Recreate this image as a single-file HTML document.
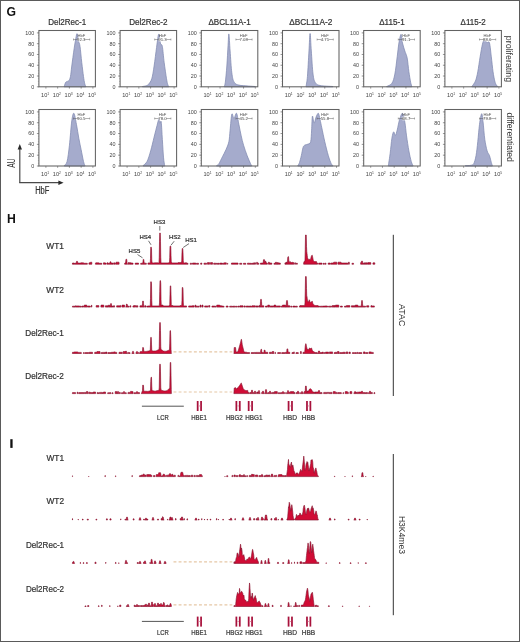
<!DOCTYPE html>
<html><head><meta charset="utf-8"><style>
html,body{margin:0;padding:0;background:#fff;width:520px;height:642px;overflow:hidden}
svg{display:block;font-family:"Liberation Sans",sans-serif;will-change:transform}
</style></head><body>
<svg width="520" height="642" viewBox="0 0 520 642" font-family='"Liberation Sans", sans-serif'><rect x="0" y="0" width="520" height="642" fill="#fff"/><text x="67.15" y="25.4" font-size="9.1" text-anchor="middle" font-weight="normal" fill="#333" textLength="38" lengthAdjust="spacingAndGlyphs" stroke="#333" stroke-width="0.22" >Del2Rec-1</text>
<path d="M64.15,86.50 C64.44,85.77 65.10,83.07 65.88,82.10 C66.66,81.13 68.07,81.63 68.83,80.70 C69.59,79.77 69.97,78.95 70.46,76.50 C70.95,74.05 71.17,70.63 71.78,66.00 C72.39,61.37 73.39,53.62 74.12,48.70 C74.85,43.78 75.67,39.00 76.16,36.50 C76.65,34.00 76.79,33.70 77.08,33.70 C77.36,33.70 77.64,35.25 77.89,36.50 C78.14,37.75 78.25,39.55 78.60,41.20 C78.96,42.85 79.50,42.85 80.03,46.40 C80.55,49.95 81.18,57.50 81.76,62.50 C82.34,67.50 83.00,72.90 83.49,76.40 C83.98,79.90 84.32,81.82 84.71,83.50 C85.10,85.18 85.64,86.00 85.83,86.50 L85.83,86.80 L64.15,86.80 Z" fill="#a5abcc" stroke="#8089b0" stroke-width="0.75"/>
<text x="34.3" y="34.8" font-size="5.4" text-anchor="end" font-weight="normal" fill="#444" >100</text>
<line x1="36.9" y1="32.90" x2="38.9" y2="32.90" stroke="#555" stroke-width="0.6"/>
<text x="34.3" y="45.57999999999999" font-size="5.4" text-anchor="end" font-weight="normal" fill="#444" >80</text>
<line x1="36.9" y1="43.68" x2="38.9" y2="43.68" stroke="#555" stroke-width="0.6"/>
<text x="34.3" y="56.36" font-size="5.4" text-anchor="end" font-weight="normal" fill="#444" >60</text>
<line x1="36.9" y1="54.46" x2="38.9" y2="54.46" stroke="#555" stroke-width="0.6"/>
<text x="34.3" y="67.14" font-size="5.4" text-anchor="end" font-weight="normal" fill="#444" >40</text>
<line x1="36.9" y1="65.24" x2="38.9" y2="65.24" stroke="#555" stroke-width="0.6"/>
<text x="34.3" y="77.92" font-size="5.4" text-anchor="end" font-weight="normal" fill="#444" >20</text>
<line x1="36.9" y1="76.02" x2="38.9" y2="76.02" stroke="#555" stroke-width="0.6"/>
<text x="34.3" y="88.7" font-size="5.4" text-anchor="end" font-weight="normal" fill="#444" >0</text>
<line x1="36.9" y1="86.80" x2="38.9" y2="86.80" stroke="#555" stroke-width="0.6"/>
<line x1="37.9" y1="86.80" x2="38.9" y2="86.80" stroke="#777" stroke-width="0.4"/>
<line x1="37.9" y1="84.10" x2="38.9" y2="84.10" stroke="#777" stroke-width="0.4"/>
<line x1="37.9" y1="81.41" x2="38.9" y2="81.41" stroke="#777" stroke-width="0.4"/>
<line x1="37.9" y1="78.72" x2="38.9" y2="78.72" stroke="#777" stroke-width="0.4"/>
<line x1="37.9" y1="76.02" x2="38.9" y2="76.02" stroke="#777" stroke-width="0.4"/>
<line x1="37.9" y1="73.33" x2="38.9" y2="73.33" stroke="#777" stroke-width="0.4"/>
<line x1="37.9" y1="70.63" x2="38.9" y2="70.63" stroke="#777" stroke-width="0.4"/>
<line x1="37.9" y1="67.94" x2="38.9" y2="67.94" stroke="#777" stroke-width="0.4"/>
<line x1="37.9" y1="65.24" x2="38.9" y2="65.24" stroke="#777" stroke-width="0.4"/>
<line x1="37.9" y1="62.55" x2="38.9" y2="62.55" stroke="#777" stroke-width="0.4"/>
<line x1="37.9" y1="59.85" x2="38.9" y2="59.85" stroke="#777" stroke-width="0.4"/>
<line x1="37.9" y1="57.15" x2="38.9" y2="57.15" stroke="#777" stroke-width="0.4"/>
<line x1="37.9" y1="54.46" x2="38.9" y2="54.46" stroke="#777" stroke-width="0.4"/>
<line x1="37.9" y1="51.76" x2="38.9" y2="51.76" stroke="#777" stroke-width="0.4"/>
<line x1="37.9" y1="49.07" x2="38.9" y2="49.07" stroke="#777" stroke-width="0.4"/>
<line x1="37.9" y1="46.38" x2="38.9" y2="46.38" stroke="#777" stroke-width="0.4"/>
<line x1="37.9" y1="43.68" x2="38.9" y2="43.68" stroke="#777" stroke-width="0.4"/>
<line x1="37.9" y1="40.98" x2="38.9" y2="40.98" stroke="#777" stroke-width="0.4"/>
<line x1="37.9" y1="38.29" x2="38.9" y2="38.29" stroke="#777" stroke-width="0.4"/>
<line x1="37.9" y1="35.59" x2="38.9" y2="35.59" stroke="#777" stroke-width="0.4"/>
<line x1="37.9" y1="32.90" x2="38.9" y2="32.90" stroke="#777" stroke-width="0.4"/>
<text x="45.10" y="96.80" font-size="5.6" text-anchor="middle" fill="#444">10<tspan font-size="3.4" dy="-2.2">1</tspan></text>
<line x1="45.90" y1="86.8" x2="45.90" y2="88.6" stroke="#555" stroke-width="0.6"/>
<text x="56.85" y="96.80" font-size="5.6" text-anchor="middle" fill="#444">10<tspan font-size="3.4" dy="-2.2">2</tspan></text>
<line x1="57.65" y1="86.8" x2="57.65" y2="88.6" stroke="#555" stroke-width="0.6"/>
<text x="68.60" y="96.80" font-size="5.6" text-anchor="middle" fill="#444">10<tspan font-size="3.4" dy="-2.2">3</tspan></text>
<line x1="69.40" y1="86.8" x2="69.40" y2="88.6" stroke="#555" stroke-width="0.6"/>
<text x="80.35" y="96.80" font-size="5.6" text-anchor="middle" fill="#444">10<tspan font-size="3.4" dy="-2.2">4</tspan></text>
<line x1="81.15" y1="86.8" x2="81.15" y2="88.6" stroke="#555" stroke-width="0.6"/>
<text x="92.10" y="96.80" font-size="5.6" text-anchor="middle" fill="#444">10<tspan font-size="3.4" dy="-2.2">5</tspan></text>
<line x1="92.90" y1="86.8" x2="92.90" y2="88.6" stroke="#555" stroke-width="0.6"/>
<rect x="38.90" y="30.50" width="56.50" height="56.30" fill="none" stroke="#626262" stroke-width="1.05"/>
<text x="81.30" y="36.80" font-size="4.1" text-anchor="middle" fill="#555">HbF</text>
<line x1="73.50" y1="39.50" x2="89.70" y2="39.50" stroke="#555" stroke-width="0.45"/>
<line x1="73.50" y1="38.50" x2="73.50" y2="40.50" stroke="#555" stroke-width="0.45"/>
<line x1="89.70" y1="38.50" x2="89.70" y2="40.50" stroke="#555" stroke-width="0.45"/>
<rect x="77.50" y="37.70" width="7.6" height="3.6" fill="#fff" opacity="0.9"/>
<text x="81.30" y="41.00" font-size="4.3" text-anchor="middle" fill="#444">92.3</text>
<text x="148.35" y="25.4" font-size="9.1" text-anchor="middle" font-weight="normal" fill="#333" textLength="38.3" lengthAdjust="spacingAndGlyphs" stroke="#333" stroke-width="0.22" >Del2Rec-2</text>
<path d="M142.39,86.50 C142.92,86.40 144.57,86.23 145.55,85.90 C146.53,85.57 147.26,85.70 148.30,84.50 C149.33,83.30 150.79,81.78 151.76,78.70 C152.73,75.62 153.30,71.20 154.10,66.00 C154.90,60.80 155.88,52.42 156.55,47.50 C157.21,42.58 157.68,38.70 158.07,36.50 C158.46,34.30 158.60,33.97 158.89,34.30 C159.17,34.63 159.51,36.87 159.80,38.50 C160.09,40.13 160.19,42.78 160.62,44.10 C161.04,45.42 161.75,43.33 162.35,46.40 C162.94,49.47 163.48,57.12 164.18,62.50 C164.88,67.88 165.93,75.03 166.52,78.70 C167.12,82.37 167.35,83.20 167.74,84.50 C168.13,85.80 168.68,86.17 168.86,86.50 L168.86,86.80 L142.39,86.80 Z" fill="#a5abcc" stroke="#8089b0" stroke-width="0.75"/>
<text x="115.5" y="34.8" font-size="5.4" text-anchor="end" font-weight="normal" fill="#444" >100</text>
<line x1="118.1" y1="32.90" x2="120.1" y2="32.90" stroke="#555" stroke-width="0.6"/>
<text x="115.5" y="45.57999999999999" font-size="5.4" text-anchor="end" font-weight="normal" fill="#444" >80</text>
<line x1="118.1" y1="43.68" x2="120.1" y2="43.68" stroke="#555" stroke-width="0.6"/>
<text x="115.5" y="56.36" font-size="5.4" text-anchor="end" font-weight="normal" fill="#444" >60</text>
<line x1="118.1" y1="54.46" x2="120.1" y2="54.46" stroke="#555" stroke-width="0.6"/>
<text x="115.5" y="67.14" font-size="5.4" text-anchor="end" font-weight="normal" fill="#444" >40</text>
<line x1="118.1" y1="65.24" x2="120.1" y2="65.24" stroke="#555" stroke-width="0.6"/>
<text x="115.5" y="77.92" font-size="5.4" text-anchor="end" font-weight="normal" fill="#444" >20</text>
<line x1="118.1" y1="76.02" x2="120.1" y2="76.02" stroke="#555" stroke-width="0.6"/>
<text x="115.5" y="88.7" font-size="5.4" text-anchor="end" font-weight="normal" fill="#444" >0</text>
<line x1="118.1" y1="86.80" x2="120.1" y2="86.80" stroke="#555" stroke-width="0.6"/>
<line x1="119.1" y1="86.80" x2="120.1" y2="86.80" stroke="#777" stroke-width="0.4"/>
<line x1="119.1" y1="84.10" x2="120.1" y2="84.10" stroke="#777" stroke-width="0.4"/>
<line x1="119.1" y1="81.41" x2="120.1" y2="81.41" stroke="#777" stroke-width="0.4"/>
<line x1="119.1" y1="78.72" x2="120.1" y2="78.72" stroke="#777" stroke-width="0.4"/>
<line x1="119.1" y1="76.02" x2="120.1" y2="76.02" stroke="#777" stroke-width="0.4"/>
<line x1="119.1" y1="73.33" x2="120.1" y2="73.33" stroke="#777" stroke-width="0.4"/>
<line x1="119.1" y1="70.63" x2="120.1" y2="70.63" stroke="#777" stroke-width="0.4"/>
<line x1="119.1" y1="67.94" x2="120.1" y2="67.94" stroke="#777" stroke-width="0.4"/>
<line x1="119.1" y1="65.24" x2="120.1" y2="65.24" stroke="#777" stroke-width="0.4"/>
<line x1="119.1" y1="62.55" x2="120.1" y2="62.55" stroke="#777" stroke-width="0.4"/>
<line x1="119.1" y1="59.85" x2="120.1" y2="59.85" stroke="#777" stroke-width="0.4"/>
<line x1="119.1" y1="57.15" x2="120.1" y2="57.15" stroke="#777" stroke-width="0.4"/>
<line x1="119.1" y1="54.46" x2="120.1" y2="54.46" stroke="#777" stroke-width="0.4"/>
<line x1="119.1" y1="51.76" x2="120.1" y2="51.76" stroke="#777" stroke-width="0.4"/>
<line x1="119.1" y1="49.07" x2="120.1" y2="49.07" stroke="#777" stroke-width="0.4"/>
<line x1="119.1" y1="46.38" x2="120.1" y2="46.38" stroke="#777" stroke-width="0.4"/>
<line x1="119.1" y1="43.68" x2="120.1" y2="43.68" stroke="#777" stroke-width="0.4"/>
<line x1="119.1" y1="40.98" x2="120.1" y2="40.98" stroke="#777" stroke-width="0.4"/>
<line x1="119.1" y1="38.29" x2="120.1" y2="38.29" stroke="#777" stroke-width="0.4"/>
<line x1="119.1" y1="35.59" x2="120.1" y2="35.59" stroke="#777" stroke-width="0.4"/>
<line x1="119.1" y1="32.90" x2="120.1" y2="32.90" stroke="#777" stroke-width="0.4"/>
<text x="126.30" y="96.80" font-size="5.6" text-anchor="middle" fill="#444">10<tspan font-size="3.4" dy="-2.2">1</tspan></text>
<line x1="127.10" y1="86.8" x2="127.10" y2="88.6" stroke="#555" stroke-width="0.6"/>
<text x="138.05" y="96.80" font-size="5.6" text-anchor="middle" fill="#444">10<tspan font-size="3.4" dy="-2.2">2</tspan></text>
<line x1="138.85" y1="86.8" x2="138.85" y2="88.6" stroke="#555" stroke-width="0.6"/>
<text x="149.80" y="96.80" font-size="5.6" text-anchor="middle" fill="#444">10<tspan font-size="3.4" dy="-2.2">3</tspan></text>
<line x1="150.60" y1="86.8" x2="150.60" y2="88.6" stroke="#555" stroke-width="0.6"/>
<text x="161.55" y="96.80" font-size="5.6" text-anchor="middle" fill="#444">10<tspan font-size="3.4" dy="-2.2">4</tspan></text>
<line x1="162.35" y1="86.8" x2="162.35" y2="88.6" stroke="#555" stroke-width="0.6"/>
<text x="173.30" y="96.80" font-size="5.6" text-anchor="middle" fill="#444">10<tspan font-size="3.4" dy="-2.2">5</tspan></text>
<line x1="174.10" y1="86.8" x2="174.10" y2="88.6" stroke="#555" stroke-width="0.6"/>
<rect x="120.10" y="30.50" width="56.50" height="56.30" fill="none" stroke="#626262" stroke-width="1.05"/>
<text x="162.50" y="36.80" font-size="4.1" text-anchor="middle" fill="#555">HbF</text>
<line x1="154.70" y1="39.50" x2="170.90" y2="39.50" stroke="#555" stroke-width="0.45"/>
<line x1="154.70" y1="38.50" x2="154.70" y2="40.50" stroke="#555" stroke-width="0.45"/>
<line x1="170.90" y1="38.50" x2="170.90" y2="40.50" stroke="#555" stroke-width="0.45"/>
<rect x="158.70" y="37.70" width="7.6" height="3.6" fill="#fff" opacity="0.9"/>
<text x="162.50" y="41.00" font-size="4.3" text-anchor="middle" fill="#444">91.3</text>
<text x="229.55" y="25.4" font-size="9.1" text-anchor="middle" font-weight="normal" fill="#333" textLength="42.2" lengthAdjust="spacingAndGlyphs" stroke="#333" stroke-width="0.22" >&#916;BCL11A-1</text>
<path d="M224.21,86.50 C224.39,85.78 224.88,85.62 225.33,82.20 C225.77,78.78 226.39,72.15 226.85,66.00 C227.31,59.85 227.73,50.63 228.07,45.30 C228.41,39.97 228.55,33.05 228.89,34.00 C229.23,34.95 229.62,44.52 230.11,51.00 C230.60,57.48 231.16,67.70 231.84,72.90 C232.52,78.10 233.01,80.17 234.18,82.20 C235.35,84.23 236.52,84.47 238.86,85.10 C241.21,85.73 245.50,85.77 248.23,86.00 C250.96,86.23 254.08,86.42 255.25,86.50 L255.25,86.80 L224.21,86.80 Z" fill="#a5abcc" stroke="#8089b0" stroke-width="0.75"/>
<text x="196.70000000000002" y="34.8" font-size="5.4" text-anchor="end" font-weight="normal" fill="#444" >100</text>
<line x1="199.3" y1="32.90" x2="201.3" y2="32.90" stroke="#555" stroke-width="0.6"/>
<text x="196.70000000000002" y="45.57999999999999" font-size="5.4" text-anchor="end" font-weight="normal" fill="#444" >80</text>
<line x1="199.3" y1="43.68" x2="201.3" y2="43.68" stroke="#555" stroke-width="0.6"/>
<text x="196.70000000000002" y="56.36" font-size="5.4" text-anchor="end" font-weight="normal" fill="#444" >60</text>
<line x1="199.3" y1="54.46" x2="201.3" y2="54.46" stroke="#555" stroke-width="0.6"/>
<text x="196.70000000000002" y="67.14" font-size="5.4" text-anchor="end" font-weight="normal" fill="#444" >40</text>
<line x1="199.3" y1="65.24" x2="201.3" y2="65.24" stroke="#555" stroke-width="0.6"/>
<text x="196.70000000000002" y="77.92" font-size="5.4" text-anchor="end" font-weight="normal" fill="#444" >20</text>
<line x1="199.3" y1="76.02" x2="201.3" y2="76.02" stroke="#555" stroke-width="0.6"/>
<text x="196.70000000000002" y="88.7" font-size="5.4" text-anchor="end" font-weight="normal" fill="#444" >0</text>
<line x1="199.3" y1="86.80" x2="201.3" y2="86.80" stroke="#555" stroke-width="0.6"/>
<line x1="200.3" y1="86.80" x2="201.3" y2="86.80" stroke="#777" stroke-width="0.4"/>
<line x1="200.3" y1="84.10" x2="201.3" y2="84.10" stroke="#777" stroke-width="0.4"/>
<line x1="200.3" y1="81.41" x2="201.3" y2="81.41" stroke="#777" stroke-width="0.4"/>
<line x1="200.3" y1="78.72" x2="201.3" y2="78.72" stroke="#777" stroke-width="0.4"/>
<line x1="200.3" y1="76.02" x2="201.3" y2="76.02" stroke="#777" stroke-width="0.4"/>
<line x1="200.3" y1="73.33" x2="201.3" y2="73.33" stroke="#777" stroke-width="0.4"/>
<line x1="200.3" y1="70.63" x2="201.3" y2="70.63" stroke="#777" stroke-width="0.4"/>
<line x1="200.3" y1="67.94" x2="201.3" y2="67.94" stroke="#777" stroke-width="0.4"/>
<line x1="200.3" y1="65.24" x2="201.3" y2="65.24" stroke="#777" stroke-width="0.4"/>
<line x1="200.3" y1="62.55" x2="201.3" y2="62.55" stroke="#777" stroke-width="0.4"/>
<line x1="200.3" y1="59.85" x2="201.3" y2="59.85" stroke="#777" stroke-width="0.4"/>
<line x1="200.3" y1="57.15" x2="201.3" y2="57.15" stroke="#777" stroke-width="0.4"/>
<line x1="200.3" y1="54.46" x2="201.3" y2="54.46" stroke="#777" stroke-width="0.4"/>
<line x1="200.3" y1="51.76" x2="201.3" y2="51.76" stroke="#777" stroke-width="0.4"/>
<line x1="200.3" y1="49.07" x2="201.3" y2="49.07" stroke="#777" stroke-width="0.4"/>
<line x1="200.3" y1="46.38" x2="201.3" y2="46.38" stroke="#777" stroke-width="0.4"/>
<line x1="200.3" y1="43.68" x2="201.3" y2="43.68" stroke="#777" stroke-width="0.4"/>
<line x1="200.3" y1="40.98" x2="201.3" y2="40.98" stroke="#777" stroke-width="0.4"/>
<line x1="200.3" y1="38.29" x2="201.3" y2="38.29" stroke="#777" stroke-width="0.4"/>
<line x1="200.3" y1="35.59" x2="201.3" y2="35.59" stroke="#777" stroke-width="0.4"/>
<line x1="200.3" y1="32.90" x2="201.3" y2="32.90" stroke="#777" stroke-width="0.4"/>
<text x="207.50" y="96.80" font-size="5.6" text-anchor="middle" fill="#444">10<tspan font-size="3.4" dy="-2.2">1</tspan></text>
<line x1="208.30" y1="86.8" x2="208.30" y2="88.6" stroke="#555" stroke-width="0.6"/>
<text x="219.25" y="96.80" font-size="5.6" text-anchor="middle" fill="#444">10<tspan font-size="3.4" dy="-2.2">2</tspan></text>
<line x1="220.05" y1="86.8" x2="220.05" y2="88.6" stroke="#555" stroke-width="0.6"/>
<text x="231.00" y="96.80" font-size="5.6" text-anchor="middle" fill="#444">10<tspan font-size="3.4" dy="-2.2">3</tspan></text>
<line x1="231.80" y1="86.8" x2="231.80" y2="88.6" stroke="#555" stroke-width="0.6"/>
<text x="242.75" y="96.80" font-size="5.6" text-anchor="middle" fill="#444">10<tspan font-size="3.4" dy="-2.2">4</tspan></text>
<line x1="243.55" y1="86.8" x2="243.55" y2="88.6" stroke="#555" stroke-width="0.6"/>
<text x="254.50" y="96.80" font-size="5.6" text-anchor="middle" fill="#444">10<tspan font-size="3.4" dy="-2.2">5</tspan></text>
<line x1="255.30" y1="86.8" x2="255.30" y2="88.6" stroke="#555" stroke-width="0.6"/>
<rect x="201.30" y="30.50" width="56.50" height="56.30" fill="none" stroke="#626262" stroke-width="1.05"/>
<text x="243.70" y="36.80" font-size="4.1" text-anchor="middle" fill="#555">HbF</text>
<line x1="235.90" y1="39.50" x2="252.10" y2="39.50" stroke="#555" stroke-width="0.45"/>
<line x1="235.90" y1="38.50" x2="235.90" y2="40.50" stroke="#555" stroke-width="0.45"/>
<line x1="252.10" y1="38.50" x2="252.10" y2="40.50" stroke="#555" stroke-width="0.45"/>
<rect x="239.90" y="37.70" width="7.6" height="3.6" fill="#fff" opacity="0.9"/>
<text x="243.70" y="41.00" font-size="4.3" text-anchor="middle" fill="#444">7.08</text>
<text x="310.75" y="25.4" font-size="9.1" text-anchor="middle" font-weight="normal" fill="#333" textLength="43" lengthAdjust="spacingAndGlyphs" stroke="#333" stroke-width="0.22" >&#916;BCL11A-2</text>
<path d="M306.02,86.50 C306.25,84.82 306.95,82.32 307.44,76.40 C307.93,70.48 308.53,58.15 308.97,51.00 C309.41,43.85 309.70,33.50 310.09,33.50 C310.48,33.50 310.82,44.23 311.31,51.00 C311.80,57.77 312.36,68.82 313.04,74.10 C313.72,79.38 314.21,80.80 315.38,82.70 C316.55,84.60 317.13,84.87 320.06,85.50 C323.00,86.13 330.84,86.33 332.99,86.50 L332.99,86.80 L306.02,86.80 Z" fill="#a5abcc" stroke="#8089b0" stroke-width="0.75"/>
<text x="277.9" y="34.8" font-size="5.4" text-anchor="end" font-weight="normal" fill="#444" >100</text>
<line x1="280.5" y1="32.90" x2="282.5" y2="32.90" stroke="#555" stroke-width="0.6"/>
<text x="277.9" y="45.57999999999999" font-size="5.4" text-anchor="end" font-weight="normal" fill="#444" >80</text>
<line x1="280.5" y1="43.68" x2="282.5" y2="43.68" stroke="#555" stroke-width="0.6"/>
<text x="277.9" y="56.36" font-size="5.4" text-anchor="end" font-weight="normal" fill="#444" >60</text>
<line x1="280.5" y1="54.46" x2="282.5" y2="54.46" stroke="#555" stroke-width="0.6"/>
<text x="277.9" y="67.14" font-size="5.4" text-anchor="end" font-weight="normal" fill="#444" >40</text>
<line x1="280.5" y1="65.24" x2="282.5" y2="65.24" stroke="#555" stroke-width="0.6"/>
<text x="277.9" y="77.92" font-size="5.4" text-anchor="end" font-weight="normal" fill="#444" >20</text>
<line x1="280.5" y1="76.02" x2="282.5" y2="76.02" stroke="#555" stroke-width="0.6"/>
<text x="277.9" y="88.7" font-size="5.4" text-anchor="end" font-weight="normal" fill="#444" >0</text>
<line x1="280.5" y1="86.80" x2="282.5" y2="86.80" stroke="#555" stroke-width="0.6"/>
<line x1="281.5" y1="86.80" x2="282.5" y2="86.80" stroke="#777" stroke-width="0.4"/>
<line x1="281.5" y1="84.10" x2="282.5" y2="84.10" stroke="#777" stroke-width="0.4"/>
<line x1="281.5" y1="81.41" x2="282.5" y2="81.41" stroke="#777" stroke-width="0.4"/>
<line x1="281.5" y1="78.72" x2="282.5" y2="78.72" stroke="#777" stroke-width="0.4"/>
<line x1="281.5" y1="76.02" x2="282.5" y2="76.02" stroke="#777" stroke-width="0.4"/>
<line x1="281.5" y1="73.33" x2="282.5" y2="73.33" stroke="#777" stroke-width="0.4"/>
<line x1="281.5" y1="70.63" x2="282.5" y2="70.63" stroke="#777" stroke-width="0.4"/>
<line x1="281.5" y1="67.94" x2="282.5" y2="67.94" stroke="#777" stroke-width="0.4"/>
<line x1="281.5" y1="65.24" x2="282.5" y2="65.24" stroke="#777" stroke-width="0.4"/>
<line x1="281.5" y1="62.55" x2="282.5" y2="62.55" stroke="#777" stroke-width="0.4"/>
<line x1="281.5" y1="59.85" x2="282.5" y2="59.85" stroke="#777" stroke-width="0.4"/>
<line x1="281.5" y1="57.15" x2="282.5" y2="57.15" stroke="#777" stroke-width="0.4"/>
<line x1="281.5" y1="54.46" x2="282.5" y2="54.46" stroke="#777" stroke-width="0.4"/>
<line x1="281.5" y1="51.76" x2="282.5" y2="51.76" stroke="#777" stroke-width="0.4"/>
<line x1="281.5" y1="49.07" x2="282.5" y2="49.07" stroke="#777" stroke-width="0.4"/>
<line x1="281.5" y1="46.38" x2="282.5" y2="46.38" stroke="#777" stroke-width="0.4"/>
<line x1="281.5" y1="43.68" x2="282.5" y2="43.68" stroke="#777" stroke-width="0.4"/>
<line x1="281.5" y1="40.98" x2="282.5" y2="40.98" stroke="#777" stroke-width="0.4"/>
<line x1="281.5" y1="38.29" x2="282.5" y2="38.29" stroke="#777" stroke-width="0.4"/>
<line x1="281.5" y1="35.59" x2="282.5" y2="35.59" stroke="#777" stroke-width="0.4"/>
<line x1="281.5" y1="32.90" x2="282.5" y2="32.90" stroke="#777" stroke-width="0.4"/>
<text x="288.70" y="96.80" font-size="5.6" text-anchor="middle" fill="#444">10<tspan font-size="3.4" dy="-2.2">1</tspan></text>
<line x1="289.50" y1="86.8" x2="289.50" y2="88.6" stroke="#555" stroke-width="0.6"/>
<text x="300.45" y="96.80" font-size="5.6" text-anchor="middle" fill="#444">10<tspan font-size="3.4" dy="-2.2">2</tspan></text>
<line x1="301.25" y1="86.8" x2="301.25" y2="88.6" stroke="#555" stroke-width="0.6"/>
<text x="312.20" y="96.80" font-size="5.6" text-anchor="middle" fill="#444">10<tspan font-size="3.4" dy="-2.2">3</tspan></text>
<line x1="313.00" y1="86.8" x2="313.00" y2="88.6" stroke="#555" stroke-width="0.6"/>
<text x="323.95" y="96.80" font-size="5.6" text-anchor="middle" fill="#444">10<tspan font-size="3.4" dy="-2.2">4</tspan></text>
<line x1="324.75" y1="86.8" x2="324.75" y2="88.6" stroke="#555" stroke-width="0.6"/>
<text x="335.70" y="96.80" font-size="5.6" text-anchor="middle" fill="#444">10<tspan font-size="3.4" dy="-2.2">5</tspan></text>
<line x1="336.50" y1="86.8" x2="336.50" y2="88.6" stroke="#555" stroke-width="0.6"/>
<rect x="282.50" y="30.50" width="56.50" height="56.30" fill="none" stroke="#626262" stroke-width="1.05"/>
<text x="324.90" y="36.80" font-size="4.1" text-anchor="middle" fill="#555">HbF</text>
<line x1="317.10" y1="39.50" x2="333.30" y2="39.50" stroke="#555" stroke-width="0.45"/>
<line x1="317.10" y1="38.50" x2="317.10" y2="40.50" stroke="#555" stroke-width="0.45"/>
<line x1="333.30" y1="38.50" x2="333.30" y2="40.50" stroke="#555" stroke-width="0.45"/>
<rect x="321.10" y="37.70" width="7.6" height="3.6" fill="#fff" opacity="0.9"/>
<text x="324.90" y="41.00" font-size="4.3" text-anchor="middle" fill="#444">4.71</text>
<text x="391.95" y="25.4" font-size="9.1" text-anchor="middle" font-weight="normal" fill="#333" textLength="25.6" lengthAdjust="spacingAndGlyphs" stroke="#333" stroke-width="0.22" >&#916;115-1</text>
<path d="M386.61,86.50 C387.49,85.97 390.52,85.37 391.90,83.30 C393.27,81.23 393.97,78.52 394.85,74.10 C395.73,69.68 396.51,61.98 397.19,56.80 C397.87,51.62 398.28,46.75 398.92,43.00 C399.57,39.25 400.47,34.30 401.06,34.30 C401.66,34.30 401.86,40.22 402.49,43.00 C403.11,45.78 404.05,48.50 404.83,51.00 C405.61,53.50 406.49,54.53 407.17,58.00 C407.85,61.47 408.32,67.77 408.90,71.80 C409.48,75.83 410.14,79.75 410.63,82.20 C411.12,84.65 411.65,85.78 411.85,86.50 L411.85,86.80 L386.61,86.80 Z" fill="#a5abcc" stroke="#8089b0" stroke-width="0.75"/>
<text x="359.09999999999997" y="34.8" font-size="5.4" text-anchor="end" font-weight="normal" fill="#444" >100</text>
<line x1="361.7" y1="32.90" x2="363.7" y2="32.90" stroke="#555" stroke-width="0.6"/>
<text x="359.09999999999997" y="45.57999999999999" font-size="5.4" text-anchor="end" font-weight="normal" fill="#444" >80</text>
<line x1="361.7" y1="43.68" x2="363.7" y2="43.68" stroke="#555" stroke-width="0.6"/>
<text x="359.09999999999997" y="56.36" font-size="5.4" text-anchor="end" font-weight="normal" fill="#444" >60</text>
<line x1="361.7" y1="54.46" x2="363.7" y2="54.46" stroke="#555" stroke-width="0.6"/>
<text x="359.09999999999997" y="67.14" font-size="5.4" text-anchor="end" font-weight="normal" fill="#444" >40</text>
<line x1="361.7" y1="65.24" x2="363.7" y2="65.24" stroke="#555" stroke-width="0.6"/>
<text x="359.09999999999997" y="77.92" font-size="5.4" text-anchor="end" font-weight="normal" fill="#444" >20</text>
<line x1="361.7" y1="76.02" x2="363.7" y2="76.02" stroke="#555" stroke-width="0.6"/>
<text x="359.09999999999997" y="88.7" font-size="5.4" text-anchor="end" font-weight="normal" fill="#444" >0</text>
<line x1="361.7" y1="86.80" x2="363.7" y2="86.80" stroke="#555" stroke-width="0.6"/>
<line x1="362.7" y1="86.80" x2="363.7" y2="86.80" stroke="#777" stroke-width="0.4"/>
<line x1="362.7" y1="84.10" x2="363.7" y2="84.10" stroke="#777" stroke-width="0.4"/>
<line x1="362.7" y1="81.41" x2="363.7" y2="81.41" stroke="#777" stroke-width="0.4"/>
<line x1="362.7" y1="78.72" x2="363.7" y2="78.72" stroke="#777" stroke-width="0.4"/>
<line x1="362.7" y1="76.02" x2="363.7" y2="76.02" stroke="#777" stroke-width="0.4"/>
<line x1="362.7" y1="73.33" x2="363.7" y2="73.33" stroke="#777" stroke-width="0.4"/>
<line x1="362.7" y1="70.63" x2="363.7" y2="70.63" stroke="#777" stroke-width="0.4"/>
<line x1="362.7" y1="67.94" x2="363.7" y2="67.94" stroke="#777" stroke-width="0.4"/>
<line x1="362.7" y1="65.24" x2="363.7" y2="65.24" stroke="#777" stroke-width="0.4"/>
<line x1="362.7" y1="62.55" x2="363.7" y2="62.55" stroke="#777" stroke-width="0.4"/>
<line x1="362.7" y1="59.85" x2="363.7" y2="59.85" stroke="#777" stroke-width="0.4"/>
<line x1="362.7" y1="57.15" x2="363.7" y2="57.15" stroke="#777" stroke-width="0.4"/>
<line x1="362.7" y1="54.46" x2="363.7" y2="54.46" stroke="#777" stroke-width="0.4"/>
<line x1="362.7" y1="51.76" x2="363.7" y2="51.76" stroke="#777" stroke-width="0.4"/>
<line x1="362.7" y1="49.07" x2="363.7" y2="49.07" stroke="#777" stroke-width="0.4"/>
<line x1="362.7" y1="46.38" x2="363.7" y2="46.38" stroke="#777" stroke-width="0.4"/>
<line x1="362.7" y1="43.68" x2="363.7" y2="43.68" stroke="#777" stroke-width="0.4"/>
<line x1="362.7" y1="40.98" x2="363.7" y2="40.98" stroke="#777" stroke-width="0.4"/>
<line x1="362.7" y1="38.29" x2="363.7" y2="38.29" stroke="#777" stroke-width="0.4"/>
<line x1="362.7" y1="35.59" x2="363.7" y2="35.59" stroke="#777" stroke-width="0.4"/>
<line x1="362.7" y1="32.90" x2="363.7" y2="32.90" stroke="#777" stroke-width="0.4"/>
<text x="369.90" y="96.80" font-size="5.6" text-anchor="middle" fill="#444">10<tspan font-size="3.4" dy="-2.2">1</tspan></text>
<line x1="370.70" y1="86.8" x2="370.70" y2="88.6" stroke="#555" stroke-width="0.6"/>
<text x="381.65" y="96.80" font-size="5.6" text-anchor="middle" fill="#444">10<tspan font-size="3.4" dy="-2.2">2</tspan></text>
<line x1="382.45" y1="86.8" x2="382.45" y2="88.6" stroke="#555" stroke-width="0.6"/>
<text x="393.40" y="96.80" font-size="5.6" text-anchor="middle" fill="#444">10<tspan font-size="3.4" dy="-2.2">3</tspan></text>
<line x1="394.20" y1="86.8" x2="394.20" y2="88.6" stroke="#555" stroke-width="0.6"/>
<text x="405.15" y="96.80" font-size="5.6" text-anchor="middle" fill="#444">10<tspan font-size="3.4" dy="-2.2">4</tspan></text>
<line x1="405.95" y1="86.8" x2="405.95" y2="88.6" stroke="#555" stroke-width="0.6"/>
<text x="416.90" y="96.80" font-size="5.6" text-anchor="middle" fill="#444">10<tspan font-size="3.4" dy="-2.2">5</tspan></text>
<line x1="417.70" y1="86.8" x2="417.70" y2="88.6" stroke="#555" stroke-width="0.6"/>
<rect x="363.70" y="30.50" width="56.50" height="56.30" fill="none" stroke="#626262" stroke-width="1.05"/>
<text x="406.10" y="36.80" font-size="4.1" text-anchor="middle" fill="#555">HbF</text>
<line x1="398.30" y1="39.50" x2="414.50" y2="39.50" stroke="#555" stroke-width="0.45"/>
<line x1="398.30" y1="38.50" x2="398.30" y2="40.50" stroke="#555" stroke-width="0.45"/>
<line x1="414.50" y1="38.50" x2="414.50" y2="40.50" stroke="#555" stroke-width="0.45"/>
<rect x="402.30" y="37.70" width="7.6" height="3.6" fill="#fff" opacity="0.9"/>
<text x="406.10" y="41.00" font-size="4.3" text-anchor="middle" fill="#444">91.1</text>
<text x="473.15" y="25.4" font-size="9.1" text-anchor="middle" font-weight="normal" fill="#333" textLength="25.2" lengthAdjust="spacingAndGlyphs" stroke="#333" stroke-width="0.22" >&#916;115-2</text>
<path d="M471.88,86.50 C472.47,85.58 474.46,83.45 475.44,81.00 C476.42,78.55 477.00,75.83 477.78,71.80 C478.56,67.77 479.34,61.42 480.12,56.80 C480.90,52.18 481.79,46.80 482.46,44.10 C483.14,41.40 483.42,40.88 484.20,40.60 C484.98,40.32 486.27,42.00 487.15,42.40 C488.03,42.80 488.79,40.60 489.49,43.00 C490.18,45.40 490.73,52.00 491.32,56.80 C491.92,61.60 492.48,67.77 493.05,71.80 C493.63,75.83 494.24,78.80 494.78,81.00 C495.33,83.20 495.82,84.08 496.31,85.00 C496.80,85.92 497.50,86.25 497.74,86.50 L497.74,86.80 L471.88,86.80 Z" fill="#a5abcc" stroke="#8089b0" stroke-width="0.75"/>
<text x="440.29999999999995" y="34.8" font-size="5.4" text-anchor="end" font-weight="normal" fill="#444" >100</text>
<line x1="442.9" y1="32.90" x2="444.9" y2="32.90" stroke="#555" stroke-width="0.6"/>
<text x="440.29999999999995" y="45.57999999999999" font-size="5.4" text-anchor="end" font-weight="normal" fill="#444" >80</text>
<line x1="442.9" y1="43.68" x2="444.9" y2="43.68" stroke="#555" stroke-width="0.6"/>
<text x="440.29999999999995" y="56.36" font-size="5.4" text-anchor="end" font-weight="normal" fill="#444" >60</text>
<line x1="442.9" y1="54.46" x2="444.9" y2="54.46" stroke="#555" stroke-width="0.6"/>
<text x="440.29999999999995" y="67.14" font-size="5.4" text-anchor="end" font-weight="normal" fill="#444" >40</text>
<line x1="442.9" y1="65.24" x2="444.9" y2="65.24" stroke="#555" stroke-width="0.6"/>
<text x="440.29999999999995" y="77.92" font-size="5.4" text-anchor="end" font-weight="normal" fill="#444" >20</text>
<line x1="442.9" y1="76.02" x2="444.9" y2="76.02" stroke="#555" stroke-width="0.6"/>
<text x="440.29999999999995" y="88.7" font-size="5.4" text-anchor="end" font-weight="normal" fill="#444" >0</text>
<line x1="442.9" y1="86.80" x2="444.9" y2="86.80" stroke="#555" stroke-width="0.6"/>
<line x1="443.9" y1="86.80" x2="444.9" y2="86.80" stroke="#777" stroke-width="0.4"/>
<line x1="443.9" y1="84.10" x2="444.9" y2="84.10" stroke="#777" stroke-width="0.4"/>
<line x1="443.9" y1="81.41" x2="444.9" y2="81.41" stroke="#777" stroke-width="0.4"/>
<line x1="443.9" y1="78.72" x2="444.9" y2="78.72" stroke="#777" stroke-width="0.4"/>
<line x1="443.9" y1="76.02" x2="444.9" y2="76.02" stroke="#777" stroke-width="0.4"/>
<line x1="443.9" y1="73.33" x2="444.9" y2="73.33" stroke="#777" stroke-width="0.4"/>
<line x1="443.9" y1="70.63" x2="444.9" y2="70.63" stroke="#777" stroke-width="0.4"/>
<line x1="443.9" y1="67.94" x2="444.9" y2="67.94" stroke="#777" stroke-width="0.4"/>
<line x1="443.9" y1="65.24" x2="444.9" y2="65.24" stroke="#777" stroke-width="0.4"/>
<line x1="443.9" y1="62.55" x2="444.9" y2="62.55" stroke="#777" stroke-width="0.4"/>
<line x1="443.9" y1="59.85" x2="444.9" y2="59.85" stroke="#777" stroke-width="0.4"/>
<line x1="443.9" y1="57.15" x2="444.9" y2="57.15" stroke="#777" stroke-width="0.4"/>
<line x1="443.9" y1="54.46" x2="444.9" y2="54.46" stroke="#777" stroke-width="0.4"/>
<line x1="443.9" y1="51.76" x2="444.9" y2="51.76" stroke="#777" stroke-width="0.4"/>
<line x1="443.9" y1="49.07" x2="444.9" y2="49.07" stroke="#777" stroke-width="0.4"/>
<line x1="443.9" y1="46.38" x2="444.9" y2="46.38" stroke="#777" stroke-width="0.4"/>
<line x1="443.9" y1="43.68" x2="444.9" y2="43.68" stroke="#777" stroke-width="0.4"/>
<line x1="443.9" y1="40.98" x2="444.9" y2="40.98" stroke="#777" stroke-width="0.4"/>
<line x1="443.9" y1="38.29" x2="444.9" y2="38.29" stroke="#777" stroke-width="0.4"/>
<line x1="443.9" y1="35.59" x2="444.9" y2="35.59" stroke="#777" stroke-width="0.4"/>
<line x1="443.9" y1="32.90" x2="444.9" y2="32.90" stroke="#777" stroke-width="0.4"/>
<text x="451.10" y="96.80" font-size="5.6" text-anchor="middle" fill="#444">10<tspan font-size="3.4" dy="-2.2">1</tspan></text>
<line x1="451.90" y1="86.8" x2="451.90" y2="88.6" stroke="#555" stroke-width="0.6"/>
<text x="462.85" y="96.80" font-size="5.6" text-anchor="middle" fill="#444">10<tspan font-size="3.4" dy="-2.2">2</tspan></text>
<line x1="463.65" y1="86.8" x2="463.65" y2="88.6" stroke="#555" stroke-width="0.6"/>
<text x="474.60" y="96.80" font-size="5.6" text-anchor="middle" fill="#444">10<tspan font-size="3.4" dy="-2.2">3</tspan></text>
<line x1="475.40" y1="86.8" x2="475.40" y2="88.6" stroke="#555" stroke-width="0.6"/>
<text x="486.35" y="96.80" font-size="5.6" text-anchor="middle" fill="#444">10<tspan font-size="3.4" dy="-2.2">4</tspan></text>
<line x1="487.15" y1="86.8" x2="487.15" y2="88.6" stroke="#555" stroke-width="0.6"/>
<text x="498.10" y="96.80" font-size="5.6" text-anchor="middle" fill="#444">10<tspan font-size="3.4" dy="-2.2">5</tspan></text>
<line x1="498.90" y1="86.8" x2="498.90" y2="88.6" stroke="#555" stroke-width="0.6"/>
<rect x="444.90" y="30.50" width="56.50" height="56.30" fill="none" stroke="#626262" stroke-width="1.05"/>
<text x="487.30" y="36.80" font-size="4.1" text-anchor="middle" fill="#555">HbF</text>
<line x1="479.50" y1="39.50" x2="495.70" y2="39.50" stroke="#555" stroke-width="0.45"/>
<line x1="479.50" y1="38.50" x2="479.50" y2="40.50" stroke="#555" stroke-width="0.45"/>
<line x1="495.70" y1="38.50" x2="495.70" y2="40.50" stroke="#555" stroke-width="0.45"/>
<rect x="483.50" y="37.70" width="7.6" height="3.6" fill="#fff" opacity="0.9"/>
<text x="487.30" y="41.00" font-size="4.3" text-anchor="middle" fill="#444">88.6</text>
<path d="M64.15,165.70 C64.64,164.98 66.22,164.81 67.10,161.38 C67.98,157.95 68.66,151.88 69.44,145.13 C70.22,138.37 71.04,126.14 71.78,120.84 C72.53,115.54 73.14,112.73 73.92,113.31 C74.70,113.90 75.65,120.20 76.46,124.35 C77.28,128.50 78.03,133.97 78.81,138.20 C79.59,142.43 80.37,145.88 81.15,149.74 C81.93,153.61 82.86,158.72 83.49,161.38 C84.12,164.04 84.68,164.98 84.91,165.70 L84.91,166.00 L64.15,166.00 Z" fill="#a5abcc" stroke="#8089b0" stroke-width="0.75"/>
<text x="34.3" y="113.80000000000001" font-size="5.4" text-anchor="end" font-weight="normal" fill="#444" >100</text>
<line x1="36.9" y1="111.90" x2="38.9" y2="111.90" stroke="#555" stroke-width="0.6"/>
<text x="34.3" y="124.62" font-size="5.4" text-anchor="end" font-weight="normal" fill="#444" >80</text>
<line x1="36.9" y1="122.72" x2="38.9" y2="122.72" stroke="#555" stroke-width="0.6"/>
<text x="34.3" y="135.44" font-size="5.4" text-anchor="end" font-weight="normal" fill="#444" >60</text>
<line x1="36.9" y1="133.54" x2="38.9" y2="133.54" stroke="#555" stroke-width="0.6"/>
<text x="34.3" y="146.26000000000002" font-size="5.4" text-anchor="end" font-weight="normal" fill="#444" >40</text>
<line x1="36.9" y1="144.36" x2="38.9" y2="144.36" stroke="#555" stroke-width="0.6"/>
<text x="34.3" y="157.08" font-size="5.4" text-anchor="end" font-weight="normal" fill="#444" >20</text>
<line x1="36.9" y1="155.18" x2="38.9" y2="155.18" stroke="#555" stroke-width="0.6"/>
<text x="34.3" y="167.9" font-size="5.4" text-anchor="end" font-weight="normal" fill="#444" >0</text>
<line x1="36.9" y1="166.00" x2="38.9" y2="166.00" stroke="#555" stroke-width="0.6"/>
<line x1="37.9" y1="166.00" x2="38.9" y2="166.00" stroke="#777" stroke-width="0.4"/>
<line x1="37.9" y1="163.29" x2="38.9" y2="163.29" stroke="#777" stroke-width="0.4"/>
<line x1="37.9" y1="160.59" x2="38.9" y2="160.59" stroke="#777" stroke-width="0.4"/>
<line x1="37.9" y1="157.88" x2="38.9" y2="157.88" stroke="#777" stroke-width="0.4"/>
<line x1="37.9" y1="155.18" x2="38.9" y2="155.18" stroke="#777" stroke-width="0.4"/>
<line x1="37.9" y1="152.47" x2="38.9" y2="152.47" stroke="#777" stroke-width="0.4"/>
<line x1="37.9" y1="149.77" x2="38.9" y2="149.77" stroke="#777" stroke-width="0.4"/>
<line x1="37.9" y1="147.06" x2="38.9" y2="147.06" stroke="#777" stroke-width="0.4"/>
<line x1="37.9" y1="144.36" x2="38.9" y2="144.36" stroke="#777" stroke-width="0.4"/>
<line x1="37.9" y1="141.66" x2="38.9" y2="141.66" stroke="#777" stroke-width="0.4"/>
<line x1="37.9" y1="138.95" x2="38.9" y2="138.95" stroke="#777" stroke-width="0.4"/>
<line x1="37.9" y1="136.25" x2="38.9" y2="136.25" stroke="#777" stroke-width="0.4"/>
<line x1="37.9" y1="133.54" x2="38.9" y2="133.54" stroke="#777" stroke-width="0.4"/>
<line x1="37.9" y1="130.84" x2="38.9" y2="130.84" stroke="#777" stroke-width="0.4"/>
<line x1="37.9" y1="128.13" x2="38.9" y2="128.13" stroke="#777" stroke-width="0.4"/>
<line x1="37.9" y1="125.42" x2="38.9" y2="125.42" stroke="#777" stroke-width="0.4"/>
<line x1="37.9" y1="122.72" x2="38.9" y2="122.72" stroke="#777" stroke-width="0.4"/>
<line x1="37.9" y1="120.02" x2="38.9" y2="120.02" stroke="#777" stroke-width="0.4"/>
<line x1="37.9" y1="117.31" x2="38.9" y2="117.31" stroke="#777" stroke-width="0.4"/>
<line x1="37.9" y1="114.61" x2="38.9" y2="114.61" stroke="#777" stroke-width="0.4"/>
<line x1="37.9" y1="111.90" x2="38.9" y2="111.90" stroke="#777" stroke-width="0.4"/>
<text x="45.10" y="176.00" font-size="5.6" text-anchor="middle" fill="#444">10<tspan font-size="3.4" dy="-2.2">1</tspan></text>
<line x1="45.90" y1="166.0" x2="45.90" y2="167.8" stroke="#555" stroke-width="0.6"/>
<text x="56.85" y="176.00" font-size="5.6" text-anchor="middle" fill="#444">10<tspan font-size="3.4" dy="-2.2">2</tspan></text>
<line x1="57.65" y1="166.0" x2="57.65" y2="167.8" stroke="#555" stroke-width="0.6"/>
<text x="68.60" y="176.00" font-size="5.6" text-anchor="middle" fill="#444">10<tspan font-size="3.4" dy="-2.2">3</tspan></text>
<line x1="69.40" y1="166.0" x2="69.40" y2="167.8" stroke="#555" stroke-width="0.6"/>
<text x="80.35" y="176.00" font-size="5.6" text-anchor="middle" fill="#444">10<tspan font-size="3.4" dy="-2.2">4</tspan></text>
<line x1="81.15" y1="166.0" x2="81.15" y2="167.8" stroke="#555" stroke-width="0.6"/>
<text x="92.10" y="176.00" font-size="5.6" text-anchor="middle" fill="#444">10<tspan font-size="3.4" dy="-2.2">5</tspan></text>
<line x1="92.90" y1="166.0" x2="92.90" y2="167.8" stroke="#555" stroke-width="0.6"/>
<rect x="38.90" y="109.50" width="56.50" height="56.50" fill="none" stroke="#626262" stroke-width="1.05"/>
<text x="81.30" y="115.80" font-size="4.1" text-anchor="middle" fill="#555">HbF</text>
<line x1="73.50" y1="118.50" x2="89.70" y2="118.50" stroke="#555" stroke-width="0.45"/>
<line x1="73.50" y1="117.50" x2="73.50" y2="119.50" stroke="#555" stroke-width="0.45"/>
<line x1="89.70" y1="117.50" x2="89.70" y2="119.50" stroke="#555" stroke-width="0.45"/>
<rect x="77.50" y="116.70" width="7.6" height="3.6" fill="#fff" opacity="0.9"/>
<text x="81.30" y="120.00" font-size="4.3" text-anchor="middle" fill="#444">90.5</text>
<path d="M143.01,165.70 C143.68,164.98 145.80,163.84 147.08,161.38 C148.35,158.92 149.47,154.99 150.64,150.95 C151.81,146.90 153.03,141.35 154.10,137.10 C155.17,132.85 156.22,128.55 157.05,125.46 C157.89,122.36 158.60,118.92 159.09,118.53 C159.58,118.15 159.65,122.56 160.01,123.15 C160.36,123.73 160.84,119.33 161.23,122.04 C161.62,124.75 161.96,133.43 162.35,139.41 C162.74,145.38 163.18,153.49 163.57,157.87 C163.96,162.25 164.50,164.39 164.69,165.70 L164.69,166.00 L143.01,166.00 Z" fill="#a5abcc" stroke="#8089b0" stroke-width="0.75"/>
<text x="115.5" y="113.80000000000001" font-size="5.4" text-anchor="end" font-weight="normal" fill="#444" >100</text>
<line x1="118.1" y1="111.90" x2="120.1" y2="111.90" stroke="#555" stroke-width="0.6"/>
<text x="115.5" y="124.62" font-size="5.4" text-anchor="end" font-weight="normal" fill="#444" >80</text>
<line x1="118.1" y1="122.72" x2="120.1" y2="122.72" stroke="#555" stroke-width="0.6"/>
<text x="115.5" y="135.44" font-size="5.4" text-anchor="end" font-weight="normal" fill="#444" >60</text>
<line x1="118.1" y1="133.54" x2="120.1" y2="133.54" stroke="#555" stroke-width="0.6"/>
<text x="115.5" y="146.26000000000002" font-size="5.4" text-anchor="end" font-weight="normal" fill="#444" >40</text>
<line x1="118.1" y1="144.36" x2="120.1" y2="144.36" stroke="#555" stroke-width="0.6"/>
<text x="115.5" y="157.08" font-size="5.4" text-anchor="end" font-weight="normal" fill="#444" >20</text>
<line x1="118.1" y1="155.18" x2="120.1" y2="155.18" stroke="#555" stroke-width="0.6"/>
<text x="115.5" y="167.9" font-size="5.4" text-anchor="end" font-weight="normal" fill="#444" >0</text>
<line x1="118.1" y1="166.00" x2="120.1" y2="166.00" stroke="#555" stroke-width="0.6"/>
<line x1="119.1" y1="166.00" x2="120.1" y2="166.00" stroke="#777" stroke-width="0.4"/>
<line x1="119.1" y1="163.29" x2="120.1" y2="163.29" stroke="#777" stroke-width="0.4"/>
<line x1="119.1" y1="160.59" x2="120.1" y2="160.59" stroke="#777" stroke-width="0.4"/>
<line x1="119.1" y1="157.88" x2="120.1" y2="157.88" stroke="#777" stroke-width="0.4"/>
<line x1="119.1" y1="155.18" x2="120.1" y2="155.18" stroke="#777" stroke-width="0.4"/>
<line x1="119.1" y1="152.47" x2="120.1" y2="152.47" stroke="#777" stroke-width="0.4"/>
<line x1="119.1" y1="149.77" x2="120.1" y2="149.77" stroke="#777" stroke-width="0.4"/>
<line x1="119.1" y1="147.06" x2="120.1" y2="147.06" stroke="#777" stroke-width="0.4"/>
<line x1="119.1" y1="144.36" x2="120.1" y2="144.36" stroke="#777" stroke-width="0.4"/>
<line x1="119.1" y1="141.66" x2="120.1" y2="141.66" stroke="#777" stroke-width="0.4"/>
<line x1="119.1" y1="138.95" x2="120.1" y2="138.95" stroke="#777" stroke-width="0.4"/>
<line x1="119.1" y1="136.25" x2="120.1" y2="136.25" stroke="#777" stroke-width="0.4"/>
<line x1="119.1" y1="133.54" x2="120.1" y2="133.54" stroke="#777" stroke-width="0.4"/>
<line x1="119.1" y1="130.84" x2="120.1" y2="130.84" stroke="#777" stroke-width="0.4"/>
<line x1="119.1" y1="128.13" x2="120.1" y2="128.13" stroke="#777" stroke-width="0.4"/>
<line x1="119.1" y1="125.42" x2="120.1" y2="125.42" stroke="#777" stroke-width="0.4"/>
<line x1="119.1" y1="122.72" x2="120.1" y2="122.72" stroke="#777" stroke-width="0.4"/>
<line x1="119.1" y1="120.02" x2="120.1" y2="120.02" stroke="#777" stroke-width="0.4"/>
<line x1="119.1" y1="117.31" x2="120.1" y2="117.31" stroke="#777" stroke-width="0.4"/>
<line x1="119.1" y1="114.61" x2="120.1" y2="114.61" stroke="#777" stroke-width="0.4"/>
<line x1="119.1" y1="111.90" x2="120.1" y2="111.90" stroke="#777" stroke-width="0.4"/>
<text x="126.30" y="176.00" font-size="5.6" text-anchor="middle" fill="#444">10<tspan font-size="3.4" dy="-2.2">1</tspan></text>
<line x1="127.10" y1="166.0" x2="127.10" y2="167.8" stroke="#555" stroke-width="0.6"/>
<text x="138.05" y="176.00" font-size="5.6" text-anchor="middle" fill="#444">10<tspan font-size="3.4" dy="-2.2">2</tspan></text>
<line x1="138.85" y1="166.0" x2="138.85" y2="167.8" stroke="#555" stroke-width="0.6"/>
<text x="149.80" y="176.00" font-size="5.6" text-anchor="middle" fill="#444">10<tspan font-size="3.4" dy="-2.2">3</tspan></text>
<line x1="150.60" y1="166.0" x2="150.60" y2="167.8" stroke="#555" stroke-width="0.6"/>
<text x="161.55" y="176.00" font-size="5.6" text-anchor="middle" fill="#444">10<tspan font-size="3.4" dy="-2.2">4</tspan></text>
<line x1="162.35" y1="166.0" x2="162.35" y2="167.8" stroke="#555" stroke-width="0.6"/>
<text x="173.30" y="176.00" font-size="5.6" text-anchor="middle" fill="#444">10<tspan font-size="3.4" dy="-2.2">5</tspan></text>
<line x1="174.10" y1="166.0" x2="174.10" y2="167.8" stroke="#555" stroke-width="0.6"/>
<rect x="120.10" y="109.50" width="56.50" height="56.50" fill="none" stroke="#626262" stroke-width="1.05"/>
<text x="162.50" y="115.80" font-size="4.1" text-anchor="middle" fill="#555">HbF</text>
<line x1="154.70" y1="118.50" x2="170.90" y2="118.50" stroke="#555" stroke-width="0.45"/>
<line x1="154.70" y1="117.50" x2="154.70" y2="119.50" stroke="#555" stroke-width="0.45"/>
<line x1="170.90" y1="117.50" x2="170.90" y2="119.50" stroke="#555" stroke-width="0.45"/>
<rect x="158.70" y="116.70" width="7.6" height="3.6" fill="#fff" opacity="0.9"/>
<text x="162.50" y="120.00" font-size="4.3" text-anchor="middle" fill="#444">78.0</text>
<path d="M216.57,165.70 C216.96,165.36 217.93,165.20 218.91,163.69 C219.90,162.19 221.30,158.99 222.47,156.67 C223.65,154.34 224.87,152.25 225.94,149.74 C227.00,147.23 228.19,144.89 228.89,141.61 C229.58,138.34 229.62,134.66 230.11,130.07 C230.60,125.49 231.20,116.04 231.84,114.12 C232.49,112.19 233.20,118.67 233.98,118.53 C234.76,118.40 235.71,112.34 236.52,113.31 C237.34,114.28 238.08,120.59 238.86,124.35 C239.65,128.12 240.43,132.43 241.21,135.89 C241.99,139.36 242.56,141.85 243.55,145.13 C244.53,148.40 245.94,152.47 247.11,155.56 C248.28,158.66 249.79,162.00 250.57,163.69 C251.35,165.38 251.59,165.36 251.79,165.70 L251.79,166.00 L216.57,166.00 Z" fill="#a5abcc" stroke="#8089b0" stroke-width="0.75"/>
<text x="196.70000000000002" y="113.80000000000001" font-size="5.4" text-anchor="end" font-weight="normal" fill="#444" >100</text>
<line x1="199.3" y1="111.90" x2="201.3" y2="111.90" stroke="#555" stroke-width="0.6"/>
<text x="196.70000000000002" y="124.62" font-size="5.4" text-anchor="end" font-weight="normal" fill="#444" >80</text>
<line x1="199.3" y1="122.72" x2="201.3" y2="122.72" stroke="#555" stroke-width="0.6"/>
<text x="196.70000000000002" y="135.44" font-size="5.4" text-anchor="end" font-weight="normal" fill="#444" >60</text>
<line x1="199.3" y1="133.54" x2="201.3" y2="133.54" stroke="#555" stroke-width="0.6"/>
<text x="196.70000000000002" y="146.26000000000002" font-size="5.4" text-anchor="end" font-weight="normal" fill="#444" >40</text>
<line x1="199.3" y1="144.36" x2="201.3" y2="144.36" stroke="#555" stroke-width="0.6"/>
<text x="196.70000000000002" y="157.08" font-size="5.4" text-anchor="end" font-weight="normal" fill="#444" >20</text>
<line x1="199.3" y1="155.18" x2="201.3" y2="155.18" stroke="#555" stroke-width="0.6"/>
<text x="196.70000000000002" y="167.9" font-size="5.4" text-anchor="end" font-weight="normal" fill="#444" >0</text>
<line x1="199.3" y1="166.00" x2="201.3" y2="166.00" stroke="#555" stroke-width="0.6"/>
<line x1="200.3" y1="166.00" x2="201.3" y2="166.00" stroke="#777" stroke-width="0.4"/>
<line x1="200.3" y1="163.29" x2="201.3" y2="163.29" stroke="#777" stroke-width="0.4"/>
<line x1="200.3" y1="160.59" x2="201.3" y2="160.59" stroke="#777" stroke-width="0.4"/>
<line x1="200.3" y1="157.88" x2="201.3" y2="157.88" stroke="#777" stroke-width="0.4"/>
<line x1="200.3" y1="155.18" x2="201.3" y2="155.18" stroke="#777" stroke-width="0.4"/>
<line x1="200.3" y1="152.47" x2="201.3" y2="152.47" stroke="#777" stroke-width="0.4"/>
<line x1="200.3" y1="149.77" x2="201.3" y2="149.77" stroke="#777" stroke-width="0.4"/>
<line x1="200.3" y1="147.06" x2="201.3" y2="147.06" stroke="#777" stroke-width="0.4"/>
<line x1="200.3" y1="144.36" x2="201.3" y2="144.36" stroke="#777" stroke-width="0.4"/>
<line x1="200.3" y1="141.66" x2="201.3" y2="141.66" stroke="#777" stroke-width="0.4"/>
<line x1="200.3" y1="138.95" x2="201.3" y2="138.95" stroke="#777" stroke-width="0.4"/>
<line x1="200.3" y1="136.25" x2="201.3" y2="136.25" stroke="#777" stroke-width="0.4"/>
<line x1="200.3" y1="133.54" x2="201.3" y2="133.54" stroke="#777" stroke-width="0.4"/>
<line x1="200.3" y1="130.84" x2="201.3" y2="130.84" stroke="#777" stroke-width="0.4"/>
<line x1="200.3" y1="128.13" x2="201.3" y2="128.13" stroke="#777" stroke-width="0.4"/>
<line x1="200.3" y1="125.42" x2="201.3" y2="125.42" stroke="#777" stroke-width="0.4"/>
<line x1="200.3" y1="122.72" x2="201.3" y2="122.72" stroke="#777" stroke-width="0.4"/>
<line x1="200.3" y1="120.02" x2="201.3" y2="120.02" stroke="#777" stroke-width="0.4"/>
<line x1="200.3" y1="117.31" x2="201.3" y2="117.31" stroke="#777" stroke-width="0.4"/>
<line x1="200.3" y1="114.61" x2="201.3" y2="114.61" stroke="#777" stroke-width="0.4"/>
<line x1="200.3" y1="111.90" x2="201.3" y2="111.90" stroke="#777" stroke-width="0.4"/>
<text x="207.50" y="176.00" font-size="5.6" text-anchor="middle" fill="#444">10<tspan font-size="3.4" dy="-2.2">1</tspan></text>
<line x1="208.30" y1="166.0" x2="208.30" y2="167.8" stroke="#555" stroke-width="0.6"/>
<text x="219.25" y="176.00" font-size="5.6" text-anchor="middle" fill="#444">10<tspan font-size="3.4" dy="-2.2">2</tspan></text>
<line x1="220.05" y1="166.0" x2="220.05" y2="167.8" stroke="#555" stroke-width="0.6"/>
<text x="231.00" y="176.00" font-size="5.6" text-anchor="middle" fill="#444">10<tspan font-size="3.4" dy="-2.2">3</tspan></text>
<line x1="231.80" y1="166.0" x2="231.80" y2="167.8" stroke="#555" stroke-width="0.6"/>
<text x="242.75" y="176.00" font-size="5.6" text-anchor="middle" fill="#444">10<tspan font-size="3.4" dy="-2.2">4</tspan></text>
<line x1="243.55" y1="166.0" x2="243.55" y2="167.8" stroke="#555" stroke-width="0.6"/>
<text x="254.50" y="176.00" font-size="5.6" text-anchor="middle" fill="#444">10<tspan font-size="3.4" dy="-2.2">5</tspan></text>
<line x1="255.30" y1="166.0" x2="255.30" y2="167.8" stroke="#555" stroke-width="0.6"/>
<rect x="201.30" y="109.50" width="56.50" height="56.50" fill="none" stroke="#626262" stroke-width="1.05"/>
<text x="243.70" y="115.80" font-size="4.1" text-anchor="middle" fill="#555">HbF</text>
<line x1="235.90" y1="118.50" x2="252.10" y2="118.50" stroke="#555" stroke-width="0.45"/>
<line x1="235.90" y1="117.50" x2="235.90" y2="119.50" stroke="#555" stroke-width="0.45"/>
<line x1="252.10" y1="117.50" x2="252.10" y2="119.50" stroke="#555" stroke-width="0.45"/>
<rect x="239.90" y="116.70" width="7.6" height="3.6" fill="#fff" opacity="0.9"/>
<text x="243.70" y="120.00" font-size="4.3" text-anchor="middle" fill="#444">45.2</text>
<path d="M297.77,165.70 C298.06,165.16 298.91,164.18 299.50,162.49 C300.09,160.80 300.74,158.07 301.33,155.56 C301.93,153.05 302.49,149.17 303.06,147.43 C303.64,145.69 303.91,145.69 304.79,145.13 C305.68,144.56 307.37,144.61 308.36,144.02 C309.34,143.44 310.16,143.94 310.70,141.61 C311.24,139.29 311.33,134.30 311.62,130.07 C311.90,125.84 312.01,117.38 312.43,116.22 C312.85,115.07 313.57,122.96 314.16,123.15 C314.75,123.33 315.30,118.97 315.99,117.33 C316.69,115.69 317.66,112.93 318.33,113.31 C319.01,113.70 319.49,117.23 320.06,119.64 C320.64,122.04 321.02,124.10 321.80,127.76 C322.58,131.43 323.66,136.98 324.75,141.61 C325.83,146.25 327.22,151.88 328.31,155.56 C329.40,159.24 330.48,162.00 331.26,163.69 C332.04,165.38 332.71,165.36 332.99,165.70 L332.99,166.00 L297.77,166.00 Z" fill="#a5abcc" stroke="#8089b0" stroke-width="0.75"/>
<text x="277.9" y="113.80000000000001" font-size="5.4" text-anchor="end" font-weight="normal" fill="#444" >100</text>
<line x1="280.5" y1="111.90" x2="282.5" y2="111.90" stroke="#555" stroke-width="0.6"/>
<text x="277.9" y="124.62" font-size="5.4" text-anchor="end" font-weight="normal" fill="#444" >80</text>
<line x1="280.5" y1="122.72" x2="282.5" y2="122.72" stroke="#555" stroke-width="0.6"/>
<text x="277.9" y="135.44" font-size="5.4" text-anchor="end" font-weight="normal" fill="#444" >60</text>
<line x1="280.5" y1="133.54" x2="282.5" y2="133.54" stroke="#555" stroke-width="0.6"/>
<text x="277.9" y="146.26000000000002" font-size="5.4" text-anchor="end" font-weight="normal" fill="#444" >40</text>
<line x1="280.5" y1="144.36" x2="282.5" y2="144.36" stroke="#555" stroke-width="0.6"/>
<text x="277.9" y="157.08" font-size="5.4" text-anchor="end" font-weight="normal" fill="#444" >20</text>
<line x1="280.5" y1="155.18" x2="282.5" y2="155.18" stroke="#555" stroke-width="0.6"/>
<text x="277.9" y="167.9" font-size="5.4" text-anchor="end" font-weight="normal" fill="#444" >0</text>
<line x1="280.5" y1="166.00" x2="282.5" y2="166.00" stroke="#555" stroke-width="0.6"/>
<line x1="281.5" y1="166.00" x2="282.5" y2="166.00" stroke="#777" stroke-width="0.4"/>
<line x1="281.5" y1="163.29" x2="282.5" y2="163.29" stroke="#777" stroke-width="0.4"/>
<line x1="281.5" y1="160.59" x2="282.5" y2="160.59" stroke="#777" stroke-width="0.4"/>
<line x1="281.5" y1="157.88" x2="282.5" y2="157.88" stroke="#777" stroke-width="0.4"/>
<line x1="281.5" y1="155.18" x2="282.5" y2="155.18" stroke="#777" stroke-width="0.4"/>
<line x1="281.5" y1="152.47" x2="282.5" y2="152.47" stroke="#777" stroke-width="0.4"/>
<line x1="281.5" y1="149.77" x2="282.5" y2="149.77" stroke="#777" stroke-width="0.4"/>
<line x1="281.5" y1="147.06" x2="282.5" y2="147.06" stroke="#777" stroke-width="0.4"/>
<line x1="281.5" y1="144.36" x2="282.5" y2="144.36" stroke="#777" stroke-width="0.4"/>
<line x1="281.5" y1="141.66" x2="282.5" y2="141.66" stroke="#777" stroke-width="0.4"/>
<line x1="281.5" y1="138.95" x2="282.5" y2="138.95" stroke="#777" stroke-width="0.4"/>
<line x1="281.5" y1="136.25" x2="282.5" y2="136.25" stroke="#777" stroke-width="0.4"/>
<line x1="281.5" y1="133.54" x2="282.5" y2="133.54" stroke="#777" stroke-width="0.4"/>
<line x1="281.5" y1="130.84" x2="282.5" y2="130.84" stroke="#777" stroke-width="0.4"/>
<line x1="281.5" y1="128.13" x2="282.5" y2="128.13" stroke="#777" stroke-width="0.4"/>
<line x1="281.5" y1="125.42" x2="282.5" y2="125.42" stroke="#777" stroke-width="0.4"/>
<line x1="281.5" y1="122.72" x2="282.5" y2="122.72" stroke="#777" stroke-width="0.4"/>
<line x1="281.5" y1="120.02" x2="282.5" y2="120.02" stroke="#777" stroke-width="0.4"/>
<line x1="281.5" y1="117.31" x2="282.5" y2="117.31" stroke="#777" stroke-width="0.4"/>
<line x1="281.5" y1="114.61" x2="282.5" y2="114.61" stroke="#777" stroke-width="0.4"/>
<line x1="281.5" y1="111.90" x2="282.5" y2="111.90" stroke="#777" stroke-width="0.4"/>
<text x="288.70" y="176.00" font-size="5.6" text-anchor="middle" fill="#444">10<tspan font-size="3.4" dy="-2.2">1</tspan></text>
<line x1="289.50" y1="166.0" x2="289.50" y2="167.8" stroke="#555" stroke-width="0.6"/>
<text x="300.45" y="176.00" font-size="5.6" text-anchor="middle" fill="#444">10<tspan font-size="3.4" dy="-2.2">2</tspan></text>
<line x1="301.25" y1="166.0" x2="301.25" y2="167.8" stroke="#555" stroke-width="0.6"/>
<text x="312.20" y="176.00" font-size="5.6" text-anchor="middle" fill="#444">10<tspan font-size="3.4" dy="-2.2">3</tspan></text>
<line x1="313.00" y1="166.0" x2="313.00" y2="167.8" stroke="#555" stroke-width="0.6"/>
<text x="323.95" y="176.00" font-size="5.6" text-anchor="middle" fill="#444">10<tspan font-size="3.4" dy="-2.2">4</tspan></text>
<line x1="324.75" y1="166.0" x2="324.75" y2="167.8" stroke="#555" stroke-width="0.6"/>
<text x="335.70" y="176.00" font-size="5.6" text-anchor="middle" fill="#444">10<tspan font-size="3.4" dy="-2.2">5</tspan></text>
<line x1="336.50" y1="166.0" x2="336.50" y2="167.8" stroke="#555" stroke-width="0.6"/>
<rect x="282.50" y="109.50" width="56.50" height="56.50" fill="none" stroke="#626262" stroke-width="1.05"/>
<text x="324.90" y="115.80" font-size="4.1" text-anchor="middle" fill="#555">HbF</text>
<line x1="317.10" y1="118.50" x2="333.30" y2="118.50" stroke="#555" stroke-width="0.45"/>
<line x1="317.10" y1="117.50" x2="317.10" y2="119.50" stroke="#555" stroke-width="0.45"/>
<line x1="333.30" y1="117.50" x2="333.30" y2="119.50" stroke="#555" stroke-width="0.45"/>
<rect x="321.10" y="116.70" width="7.6" height="3.6" fill="#fff" opacity="0.9"/>
<text x="324.90" y="120.00" font-size="4.3" text-anchor="middle" fill="#444">55.8</text>
<path d="M388.34,165.70 C388.64,163.62 389.57,157.84 390.17,153.25 C390.76,148.67 391.32,141.76 391.90,138.20 C392.48,134.64 393.05,132.36 393.63,131.88 C394.21,131.39 394.77,135.59 395.36,135.29 C395.95,134.99 396.50,132.68 397.19,130.07 C397.89,127.46 398.65,122.43 399.53,119.64 C400.42,116.84 401.60,112.91 402.49,113.31 C403.37,113.71 404.15,118.28 404.83,122.04 C405.51,125.81 405.88,131.08 406.56,135.89 C407.24,140.71 408.12,146.70 408.90,150.95 C409.68,155.20 410.56,158.92 411.24,161.38 C411.92,163.84 412.68,164.98 412.97,165.70 L412.97,166.00 L388.34,166.00 Z" fill="#a5abcc" stroke="#8089b0" stroke-width="0.75"/>
<text x="359.09999999999997" y="113.80000000000001" font-size="5.4" text-anchor="end" font-weight="normal" fill="#444" >100</text>
<line x1="361.7" y1="111.90" x2="363.7" y2="111.90" stroke="#555" stroke-width="0.6"/>
<text x="359.09999999999997" y="124.62" font-size="5.4" text-anchor="end" font-weight="normal" fill="#444" >80</text>
<line x1="361.7" y1="122.72" x2="363.7" y2="122.72" stroke="#555" stroke-width="0.6"/>
<text x="359.09999999999997" y="135.44" font-size="5.4" text-anchor="end" font-weight="normal" fill="#444" >60</text>
<line x1="361.7" y1="133.54" x2="363.7" y2="133.54" stroke="#555" stroke-width="0.6"/>
<text x="359.09999999999997" y="146.26000000000002" font-size="5.4" text-anchor="end" font-weight="normal" fill="#444" >40</text>
<line x1="361.7" y1="144.36" x2="363.7" y2="144.36" stroke="#555" stroke-width="0.6"/>
<text x="359.09999999999997" y="157.08" font-size="5.4" text-anchor="end" font-weight="normal" fill="#444" >20</text>
<line x1="361.7" y1="155.18" x2="363.7" y2="155.18" stroke="#555" stroke-width="0.6"/>
<text x="359.09999999999997" y="167.9" font-size="5.4" text-anchor="end" font-weight="normal" fill="#444" >0</text>
<line x1="361.7" y1="166.00" x2="363.7" y2="166.00" stroke="#555" stroke-width="0.6"/>
<line x1="362.7" y1="166.00" x2="363.7" y2="166.00" stroke="#777" stroke-width="0.4"/>
<line x1="362.7" y1="163.29" x2="363.7" y2="163.29" stroke="#777" stroke-width="0.4"/>
<line x1="362.7" y1="160.59" x2="363.7" y2="160.59" stroke="#777" stroke-width="0.4"/>
<line x1="362.7" y1="157.88" x2="363.7" y2="157.88" stroke="#777" stroke-width="0.4"/>
<line x1="362.7" y1="155.18" x2="363.7" y2="155.18" stroke="#777" stroke-width="0.4"/>
<line x1="362.7" y1="152.47" x2="363.7" y2="152.47" stroke="#777" stroke-width="0.4"/>
<line x1="362.7" y1="149.77" x2="363.7" y2="149.77" stroke="#777" stroke-width="0.4"/>
<line x1="362.7" y1="147.06" x2="363.7" y2="147.06" stroke="#777" stroke-width="0.4"/>
<line x1="362.7" y1="144.36" x2="363.7" y2="144.36" stroke="#777" stroke-width="0.4"/>
<line x1="362.7" y1="141.66" x2="363.7" y2="141.66" stroke="#777" stroke-width="0.4"/>
<line x1="362.7" y1="138.95" x2="363.7" y2="138.95" stroke="#777" stroke-width="0.4"/>
<line x1="362.7" y1="136.25" x2="363.7" y2="136.25" stroke="#777" stroke-width="0.4"/>
<line x1="362.7" y1="133.54" x2="363.7" y2="133.54" stroke="#777" stroke-width="0.4"/>
<line x1="362.7" y1="130.84" x2="363.7" y2="130.84" stroke="#777" stroke-width="0.4"/>
<line x1="362.7" y1="128.13" x2="363.7" y2="128.13" stroke="#777" stroke-width="0.4"/>
<line x1="362.7" y1="125.42" x2="363.7" y2="125.42" stroke="#777" stroke-width="0.4"/>
<line x1="362.7" y1="122.72" x2="363.7" y2="122.72" stroke="#777" stroke-width="0.4"/>
<line x1="362.7" y1="120.02" x2="363.7" y2="120.02" stroke="#777" stroke-width="0.4"/>
<line x1="362.7" y1="117.31" x2="363.7" y2="117.31" stroke="#777" stroke-width="0.4"/>
<line x1="362.7" y1="114.61" x2="363.7" y2="114.61" stroke="#777" stroke-width="0.4"/>
<line x1="362.7" y1="111.90" x2="363.7" y2="111.90" stroke="#777" stroke-width="0.4"/>
<text x="369.90" y="176.00" font-size="5.6" text-anchor="middle" fill="#444">10<tspan font-size="3.4" dy="-2.2">1</tspan></text>
<line x1="370.70" y1="166.0" x2="370.70" y2="167.8" stroke="#555" stroke-width="0.6"/>
<text x="381.65" y="176.00" font-size="5.6" text-anchor="middle" fill="#444">10<tspan font-size="3.4" dy="-2.2">2</tspan></text>
<line x1="382.45" y1="166.0" x2="382.45" y2="167.8" stroke="#555" stroke-width="0.6"/>
<text x="393.40" y="176.00" font-size="5.6" text-anchor="middle" fill="#444">10<tspan font-size="3.4" dy="-2.2">3</tspan></text>
<line x1="394.20" y1="166.0" x2="394.20" y2="167.8" stroke="#555" stroke-width="0.6"/>
<text x="405.15" y="176.00" font-size="5.6" text-anchor="middle" fill="#444">10<tspan font-size="3.4" dy="-2.2">4</tspan></text>
<line x1="405.95" y1="166.0" x2="405.95" y2="167.8" stroke="#555" stroke-width="0.6"/>
<text x="416.90" y="176.00" font-size="5.6" text-anchor="middle" fill="#444">10<tspan font-size="3.4" dy="-2.2">5</tspan></text>
<line x1="417.70" y1="166.0" x2="417.70" y2="167.8" stroke="#555" stroke-width="0.6"/>
<rect x="363.70" y="109.50" width="56.50" height="56.50" fill="none" stroke="#626262" stroke-width="1.05"/>
<text x="406.10" y="115.80" font-size="4.1" text-anchor="middle" fill="#555">HbF</text>
<line x1="398.30" y1="118.50" x2="414.50" y2="118.50" stroke="#555" stroke-width="0.45"/>
<line x1="398.30" y1="117.50" x2="398.30" y2="119.50" stroke="#555" stroke-width="0.45"/>
<line x1="414.50" y1="117.50" x2="414.50" y2="119.50" stroke="#555" stroke-width="0.45"/>
<rect x="402.30" y="116.70" width="7.6" height="3.6" fill="#fff" opacity="0.9"/>
<text x="406.10" y="120.00" font-size="4.3" text-anchor="middle" fill="#444">68.7</text>
<path d="M465.26,165.70 C466.18,165.63 469.35,165.63 470.76,165.30 C472.17,164.96 472.83,165.31 473.71,163.69 C474.59,162.07 475.37,159.24 476.05,155.56 C476.73,151.88 477.21,146.82 477.78,141.61 C478.36,136.41 478.87,129.00 479.51,124.35 C480.16,119.70 481.06,114.10 481.65,113.71 C482.24,113.33 482.55,117.76 483.08,122.04 C483.60,126.33 484.13,134.59 484.81,139.41 C485.48,144.22 486.37,148.25 487.15,150.95 C487.93,153.64 488.79,153.64 489.49,155.56 C490.18,157.49 490.83,160.80 491.32,162.49 C491.81,164.18 492.25,165.16 492.44,165.70 L492.44,166.00 L465.26,166.00 Z" fill="#a5abcc" stroke="#8089b0" stroke-width="0.75"/>
<text x="440.29999999999995" y="113.80000000000001" font-size="5.4" text-anchor="end" font-weight="normal" fill="#444" >100</text>
<line x1="442.9" y1="111.90" x2="444.9" y2="111.90" stroke="#555" stroke-width="0.6"/>
<text x="440.29999999999995" y="124.62" font-size="5.4" text-anchor="end" font-weight="normal" fill="#444" >80</text>
<line x1="442.9" y1="122.72" x2="444.9" y2="122.72" stroke="#555" stroke-width="0.6"/>
<text x="440.29999999999995" y="135.44" font-size="5.4" text-anchor="end" font-weight="normal" fill="#444" >60</text>
<line x1="442.9" y1="133.54" x2="444.9" y2="133.54" stroke="#555" stroke-width="0.6"/>
<text x="440.29999999999995" y="146.26000000000002" font-size="5.4" text-anchor="end" font-weight="normal" fill="#444" >40</text>
<line x1="442.9" y1="144.36" x2="444.9" y2="144.36" stroke="#555" stroke-width="0.6"/>
<text x="440.29999999999995" y="157.08" font-size="5.4" text-anchor="end" font-weight="normal" fill="#444" >20</text>
<line x1="442.9" y1="155.18" x2="444.9" y2="155.18" stroke="#555" stroke-width="0.6"/>
<text x="440.29999999999995" y="167.9" font-size="5.4" text-anchor="end" font-weight="normal" fill="#444" >0</text>
<line x1="442.9" y1="166.00" x2="444.9" y2="166.00" stroke="#555" stroke-width="0.6"/>
<line x1="443.9" y1="166.00" x2="444.9" y2="166.00" stroke="#777" stroke-width="0.4"/>
<line x1="443.9" y1="163.29" x2="444.9" y2="163.29" stroke="#777" stroke-width="0.4"/>
<line x1="443.9" y1="160.59" x2="444.9" y2="160.59" stroke="#777" stroke-width="0.4"/>
<line x1="443.9" y1="157.88" x2="444.9" y2="157.88" stroke="#777" stroke-width="0.4"/>
<line x1="443.9" y1="155.18" x2="444.9" y2="155.18" stroke="#777" stroke-width="0.4"/>
<line x1="443.9" y1="152.47" x2="444.9" y2="152.47" stroke="#777" stroke-width="0.4"/>
<line x1="443.9" y1="149.77" x2="444.9" y2="149.77" stroke="#777" stroke-width="0.4"/>
<line x1="443.9" y1="147.06" x2="444.9" y2="147.06" stroke="#777" stroke-width="0.4"/>
<line x1="443.9" y1="144.36" x2="444.9" y2="144.36" stroke="#777" stroke-width="0.4"/>
<line x1="443.9" y1="141.66" x2="444.9" y2="141.66" stroke="#777" stroke-width="0.4"/>
<line x1="443.9" y1="138.95" x2="444.9" y2="138.95" stroke="#777" stroke-width="0.4"/>
<line x1="443.9" y1="136.25" x2="444.9" y2="136.25" stroke="#777" stroke-width="0.4"/>
<line x1="443.9" y1="133.54" x2="444.9" y2="133.54" stroke="#777" stroke-width="0.4"/>
<line x1="443.9" y1="130.84" x2="444.9" y2="130.84" stroke="#777" stroke-width="0.4"/>
<line x1="443.9" y1="128.13" x2="444.9" y2="128.13" stroke="#777" stroke-width="0.4"/>
<line x1="443.9" y1="125.42" x2="444.9" y2="125.42" stroke="#777" stroke-width="0.4"/>
<line x1="443.9" y1="122.72" x2="444.9" y2="122.72" stroke="#777" stroke-width="0.4"/>
<line x1="443.9" y1="120.02" x2="444.9" y2="120.02" stroke="#777" stroke-width="0.4"/>
<line x1="443.9" y1="117.31" x2="444.9" y2="117.31" stroke="#777" stroke-width="0.4"/>
<line x1="443.9" y1="114.61" x2="444.9" y2="114.61" stroke="#777" stroke-width="0.4"/>
<line x1="443.9" y1="111.90" x2="444.9" y2="111.90" stroke="#777" stroke-width="0.4"/>
<text x="451.10" y="176.00" font-size="5.6" text-anchor="middle" fill="#444">10<tspan font-size="3.4" dy="-2.2">1</tspan></text>
<line x1="451.90" y1="166.0" x2="451.90" y2="167.8" stroke="#555" stroke-width="0.6"/>
<text x="462.85" y="176.00" font-size="5.6" text-anchor="middle" fill="#444">10<tspan font-size="3.4" dy="-2.2">2</tspan></text>
<line x1="463.65" y1="166.0" x2="463.65" y2="167.8" stroke="#555" stroke-width="0.6"/>
<text x="474.60" y="176.00" font-size="5.6" text-anchor="middle" fill="#444">10<tspan font-size="3.4" dy="-2.2">3</tspan></text>
<line x1="475.40" y1="166.0" x2="475.40" y2="167.8" stroke="#555" stroke-width="0.6"/>
<text x="486.35" y="176.00" font-size="5.6" text-anchor="middle" fill="#444">10<tspan font-size="3.4" dy="-2.2">4</tspan></text>
<line x1="487.15" y1="166.0" x2="487.15" y2="167.8" stroke="#555" stroke-width="0.6"/>
<text x="498.10" y="176.00" font-size="5.6" text-anchor="middle" fill="#444">10<tspan font-size="3.4" dy="-2.2">5</tspan></text>
<line x1="498.90" y1="166.0" x2="498.90" y2="167.8" stroke="#555" stroke-width="0.6"/>
<rect x="444.90" y="109.50" width="56.50" height="56.50" fill="none" stroke="#626262" stroke-width="1.05"/>
<text x="487.30" y="115.80" font-size="4.1" text-anchor="middle" fill="#555">HbF</text>
<line x1="479.50" y1="118.50" x2="495.70" y2="118.50" stroke="#555" stroke-width="0.45"/>
<line x1="479.50" y1="117.50" x2="479.50" y2="119.50" stroke="#555" stroke-width="0.45"/>
<line x1="495.70" y1="117.50" x2="495.70" y2="119.50" stroke="#555" stroke-width="0.45"/>
<rect x="483.50" y="116.70" width="7.6" height="3.6" fill="#fff" opacity="0.9"/>
<text x="487.30" y="120.00" font-size="4.3" text-anchor="middle" fill="#444">79.8</text>
<text transform="translate(506.4,59) rotate(90)" font-size="8.8" text-anchor="middle" fill="#333" textLength="46.3" lengthAdjust="spacingAndGlyphs">proliferating</text>
<text transform="translate(506.7,137.2) rotate(90)" font-size="8.8" text-anchor="middle" fill="#333" textLength="49.3" lengthAdjust="spacingAndGlyphs">differentiated</text>
<line x1="19.8" y1="148" x2="19.8" y2="182.7" stroke="#4a4a4a" stroke-width="1.2"/>
<line x1="19.2" y1="182.7" x2="60" y2="182.7" stroke="#4a4a4a" stroke-width="1.2"/>
<path d="M19.8,144 L17.6,149.4 L22,149.4 Z" fill="#2a2a2a"/>
<path d="M63.6,182.7 L58.4,180.5 L58.4,184.9 Z" fill="#2a2a2a"/>
<text transform="translate(15.4,163.1) rotate(-90)" font-size="10" text-anchor="middle" fill="#333" textLength="9.4" lengthAdjust="spacingAndGlyphs">AU</text>
<text x="35.2" y="193.6" font-size="10" text-anchor="start" font-weight="normal" fill="#333" textLength="14.2" lengthAdjust="spacingAndGlyphs" stroke="#333" stroke-width="0.22" >HbF</text>
<text x="6.6" y="16.3" font-size="12.2" text-anchor="start" font-weight="bold" fill="#111" >G</text>
<text x="6.9" y="222.9" font-size="12.2" text-anchor="start" font-weight="bold" fill="#111" >H</text>
<rect x="10.3" y="439.2" width="2.3" height="8.7" fill="#111"/>
<text x="63.9" y="249.0" font-size="8.6" text-anchor="end" font-weight="normal" fill="#333" textLength="17.6" lengthAdjust="spacingAndGlyphs" stroke="#333" stroke-width="0.22" >WT1</text>
<text x="63.9" y="293.0" font-size="8.6" text-anchor="end" font-weight="normal" fill="#333" textLength="17.6" lengthAdjust="spacingAndGlyphs" stroke="#333" stroke-width="0.22" >WT2</text>
<text x="63.9" y="335.6" font-size="8.6" text-anchor="end" font-weight="normal" fill="#333" textLength="38.6" lengthAdjust="spacingAndGlyphs" stroke="#333" stroke-width="0.22" >Del2Rec-1</text>
<text x="63.9" y="379.4" font-size="8.6" text-anchor="end" font-weight="normal" fill="#333" textLength="38.6" lengthAdjust="spacingAndGlyphs" stroke="#333" stroke-width="0.22" >Del2Rec-2</text>
<path d="M72.38,264.20 L72.50,263.00 L72.75,263.00 L73.00,263.00 L73.25,263.00 L73.50,263.00 L73.75,263.00 L74.00,263.00 L74.25,263.00 L74.38,264.20 Z M74.62,264.20 L74.75,263.30 L75.00,263.30 L75.25,263.30 L75.50,263.30 L75.75,263.30 L76.00,263.30 L76.25,263.00 L76.50,261.40 L76.75,261.40 L77.00,261.40 L77.25,261.40 L77.50,261.40 L77.75,263.00 L78.00,263.10 L78.25,263.10 L78.50,263.10 L78.75,263.10 L79.00,263.10 L79.25,263.10 L79.50,263.10 L79.75,263.10 L80.00,263.10 L80.25,263.10 L80.50,263.10 L80.75,262.80 L81.00,262.80 L81.25,262.80 L81.50,262.80 L81.75,262.80 L82.00,262.80 L82.25,262.80 L82.50,262.80 L82.75,262.80 L83.00,262.80 L83.25,262.80 L83.50,262.80 L83.75,263.30 L84.00,263.30 L84.25,263.30 L84.50,263.30 L84.75,263.30 L85.00,263.30 L85.25,263.30 L85.50,263.30 L85.75,263.30 L86.00,263.30 L86.25,263.30 L86.50,263.30 L86.75,263.30 L87.00,263.30 L87.25,263.30 L87.38,264.20 Z M88.88,264.20 L89.00,262.80 L89.25,262.80 L89.50,262.80 L89.75,262.80 L90.00,262.80 L90.25,262.80 L90.50,262.20 L90.75,262.20 L91.00,262.20 L91.25,262.20 L91.50,262.20 L91.75,262.20 L91.88,264.20 Z M95.38,264.20 L95.50,263.20 L95.75,262.80 L96.00,262.80 L96.25,262.80 L96.50,262.80 L96.75,262.80 L97.00,262.80 L97.25,262.80 L97.50,262.80 L97.75,262.80 L98.00,262.80 L98.25,262.80 L98.50,262.80 L98.75,262.80 L99.00,263.30 L99.25,263.30 L99.50,263.30 L99.75,263.30 L100.00,263.30 L100.25,263.30 L100.50,263.30 L100.75,263.30 L101.00,263.30 L101.25,263.30 L101.50,263.30 L101.75,263.30 L101.88,264.20 Z M103.38,264.20 L103.50,262.80 L103.75,262.80 L104.00,262.80 L104.25,262.80 L104.50,262.80 L104.75,262.80 L105.00,263.00 L105.25,263.00 L105.50,263.00 L105.75,263.00 L106.00,263.00 L106.12,264.20 Z M106.88,264.20 L107.00,262.80 L107.25,262.80 L107.50,262.80 L107.75,262.80 L108.00,262.80 L108.25,263.30 L108.50,263.30 L108.75,263.30 L109.00,263.30 L109.25,263.30 L109.50,263.30 L109.75,263.30 L110.00,262.36 L110.25,261.70 L110.50,261.70 L110.75,261.70 L111.00,262.36 L111.25,263.10 L111.50,263.10 L111.75,263.10 L112.00,263.10 L112.25,263.10 L112.50,263.10 L112.75,263.10 L113.00,263.10 L113.12,264.20 Z M113.62,264.20 L113.75,262.80 L114.00,262.80 L114.25,262.80 L114.50,262.80 L114.75,263.00 L115.00,263.00 L115.25,263.00 L115.38,264.20 Z M115.88,264.20 L116.00,262.20 L116.25,262.20 L116.50,262.20 L116.75,262.20 L117.00,262.20 L117.25,262.20 L117.50,262.20 L117.75,262.20 L118.00,262.20 L118.25,262.20 L118.50,262.20 L118.75,262.20 L119.00,262.20 L119.12,264.20 Z M124.62,264.20 L124.75,263.10 L125.00,263.10 L125.25,263.10 L125.50,263.10 L125.75,261.20 L126.00,259.20 L126.25,259.20 L126.50,259.20 L126.75,259.72 L127.00,262.75 L127.25,263.96 L127.50,264.20 L127.62,264.20 Z M128.12,264.20 L128.25,262.60 L128.50,262.60 L128.75,262.60 L129.00,262.60 L129.25,262.60 L129.50,262.60 L129.62,264.20 Z M129.88,264.20 L130.00,262.80 L130.25,262.80 L130.50,262.80 L130.75,262.80 L131.00,262.80 L131.25,262.80 L131.50,263.10 L131.75,263.10 L132.00,263.10 L132.25,263.10 L132.50,263.10 L132.75,263.10 L133.00,263.10 L133.12,264.20 Z M135.12,264.20 L135.25,263.10 L135.50,263.10 L135.75,263.10 L136.00,263.10 L136.25,263.10 L136.50,263.10 L136.75,263.10 L137.00,263.10 L137.25,263.10 L137.50,263.10 L137.75,263.10 L138.00,263.10 L138.25,263.10 L138.50,263.10 L138.62,264.20 Z M140.62,264.20 L140.75,263.30 L141.00,263.30 L141.25,263.30 L141.50,263.30 L141.75,263.30 L142.00,263.30 L142.25,263.30 L142.50,263.30 L142.75,263.30 L143.00,261.39 L143.25,259.40 L143.50,259.40 L143.75,259.40 L144.00,261.39 L144.25,263.20 L144.50,263.20 L144.75,263.20 L145.00,263.20 L145.25,263.20 L145.50,263.20 L145.75,263.20 L146.00,263.20 L146.25,263.20 L146.38,264.20 Z M147.88,264.20 L148.00,262.90 L148.25,262.90 L148.50,262.90 L148.75,262.90 L149.00,262.90 L149.25,262.90 L149.50,262.90 L149.75,262.90 L150.00,262.90 L150.25,262.60 L150.50,258.30 L150.75,247.20 L151.00,247.20 L151.25,247.20 L151.50,248.66 L151.75,259.83 L152.00,262.60 L152.25,262.60 L152.50,262.90 L152.75,262.90 L153.00,262.90 L153.25,262.90 L153.50,262.90 L153.75,262.90 L154.00,262.90 L154.25,262.90 L154.50,262.80 L154.75,262.80 L155.00,262.80 L155.25,262.80 L155.50,262.80 L155.75,262.80 L156.00,262.80 L156.25,262.80 L156.50,262.80 L156.75,262.80 L157.00,262.80 L157.25,262.80 L157.50,262.80 L157.75,262.80 L158.00,262.90 L158.25,262.90 L158.50,262.90 L158.75,262.90 L159.00,262.90 L159.25,257.38 L159.50,241.18 L159.75,233.00 L160.00,233.00 L160.25,233.00 L160.50,241.18 L160.75,257.38 L161.00,262.90 L161.25,262.90 L161.50,262.90 L161.75,262.90 L162.00,262.90 L162.25,262.90 L162.50,262.90 L162.75,262.90 L163.00,262.90 L163.25,262.90 L163.50,262.90 L163.75,262.90 L164.00,262.90 L164.25,262.90 L164.50,262.90 L164.75,262.90 L165.00,262.90 L165.25,262.90 L165.50,262.90 L165.75,262.90 L166.00,262.90 L166.25,262.90 L166.50,262.90 L166.75,262.90 L167.00,262.90 L167.25,262.90 L167.50,262.90 L167.75,262.90 L168.00,262.90 L168.25,262.90 L168.50,262.90 L168.75,262.60 L169.00,262.60 L169.25,262.60 L169.50,262.60 L169.75,257.40 L170.00,246.20 L170.25,246.20 L170.50,246.20 L170.75,246.20 L171.00,255.55 L171.25,262.19 L171.50,262.60 L171.75,262.60 L172.00,262.60 L172.25,262.90 L172.50,262.90 L172.75,262.90 L173.00,262.90 L173.25,262.90 L173.50,262.90 L173.75,262.90 L174.00,262.90 L174.25,262.90 L174.50,262.90 L174.75,262.90 L175.00,262.90 L175.25,262.90 L175.50,262.90 L175.75,262.90 L176.00,262.90 L176.25,262.90 L176.50,262.90 L176.75,262.90 L177.00,262.90 L177.25,262.90 L177.50,262.90 L177.75,262.90 L178.00,262.60 L178.25,262.60 L178.50,262.60 L178.75,262.60 L179.00,262.60 L179.25,262.60 L179.50,262.60 L179.75,262.60 L180.00,262.60 L180.25,262.60 L180.50,262.60 L180.75,262.60 L181.00,262.60 L181.25,262.60 L181.50,262.90 L181.75,260.77 L182.00,252.62 L182.25,248.50 L182.50,248.50 L182.75,248.50 L183.00,252.62 L183.25,260.77 L183.50,262.90 L183.75,262.90 L184.00,262.90 L184.25,262.90 L184.50,262.90 L184.75,262.90 L185.00,262.80 L185.25,262.80 L185.50,262.80 L185.75,262.80 L186.00,262.80 L186.25,262.80 L186.50,262.80 L186.75,262.80 L186.88,264.20 Z M187.12,264.20 L187.25,263.30 L187.50,263.30 L187.75,263.30 L188.00,263.30 L188.12,264.20 Z M190.12,264.20 L190.25,263.20 L190.50,263.20 L190.75,263.20 L191.00,263.20 L191.25,263.20 L191.50,263.20 L191.62,264.20 Z M192.38,264.20 L192.50,263.00 L192.75,263.00 L193.00,263.00 L193.25,263.00 L193.50,263.00 L193.75,263.00 L194.00,263.00 L194.25,263.00 L194.50,263.00 L194.75,263.00 L195.00,263.00 L195.25,263.00 L195.50,263.00 L195.75,263.00 L195.88,264.20 Z M196.38,264.20 L196.50,263.30 L196.75,263.30 L197.00,263.30 L197.25,263.30 L197.50,263.30 L197.75,263.30 L198.00,263.30 L198.25,263.30 L198.50,263.30 L198.62,264.20 Z M200.62,264.20 L200.75,263.00 L201.00,263.00 L201.25,263.00 L201.50,263.00 L201.75,263.00 L201.88,264.20 Z M203.88,264.20 L204.00,263.20 L204.25,263.20 L204.50,263.20 L204.75,263.20 L205.00,263.20 L205.25,263.20 L205.50,263.20 L205.75,263.20 L206.00,263.20 L206.25,263.20 L206.50,263.20 L206.62,264.20 Z M207.38,264.20 L207.50,262.60 L207.75,262.60 L208.00,262.60 L208.25,262.60 L208.50,262.60 L208.75,262.60 L209.00,262.60 L209.25,262.60 L209.50,262.60 L209.62,264.20 Z M210.38,264.20 L210.50,262.60 L210.75,262.60 L211.00,262.60 L211.25,262.60 L211.50,262.60 L211.75,262.60 L212.00,262.60 L212.25,262.60 L212.50,262.60 L212.62,264.20 Z M213.62,264.20 L213.75,263.20 L214.00,263.20 L214.25,263.20 L214.50,263.20 L214.75,263.20 L215.00,263.20 L215.25,263.20 L215.50,263.20 L215.75,263.20 L215.88,264.20 Z M216.38,264.20 L216.50,263.20 L216.75,263.20 L217.00,263.20 L217.25,263.20 L217.38,264.20 Z M217.62,264.20 L217.75,263.30 L218.00,263.30 L218.25,263.30 L218.50,263.30 L218.75,263.30 L219.00,263.30 L219.12,264.20 Z M219.62,264.20 L219.75,263.10 L220.00,263.10 L220.25,263.10 L220.50,263.10 L220.75,263.10 L221.00,263.10 L221.25,263.10 L221.50,263.10 L221.75,263.10 L222.00,263.10 L222.12,264.20 Z M222.38,264.20 L222.50,263.20 L222.75,263.20 L223.00,263.20 L223.25,263.20 L223.50,263.20 L223.75,263.20 L224.00,263.20 L224.25,262.80 L224.50,262.80 L224.75,262.80 L225.00,262.80 L225.25,262.80 L225.50,262.80 L225.75,262.80 L226.00,262.80 L226.25,262.80 L226.38,264.20 Z M227.38,264.20 L227.50,263.20 L227.75,263.20 L227.88,264.20 Z M231.38,264.20 L231.50,263.00 L231.75,263.00 L232.00,263.00 L232.25,263.00 L232.50,263.00 L232.75,263.00 L233.00,263.00 L233.25,263.00 L233.50,263.00 L233.75,263.00 L234.00,263.00 L234.25,263.00 L234.50,263.00 L234.75,263.00 L235.00,263.00 L235.25,263.00 L235.50,263.00 L235.75,263.00 L236.00,263.00 L236.25,263.00 L236.50,263.00 L236.75,263.00 L237.00,263.00 L237.25,263.00 L237.50,263.00 L237.75,263.00 L238.00,263.00 L238.12,264.20 Z M239.62,264.20 L239.75,263.30 L240.00,263.30 L240.25,263.30 L240.50,263.30 L240.75,263.30 L241.00,263.30 L241.25,263.30 L241.50,263.30 L241.75,263.30 L241.88,264.20 Z M243.38,264.20 L243.50,263.30 L243.75,263.30 L244.00,263.30 L244.25,263.30 L244.50,263.30 L244.75,263.30 L245.00,263.30 L245.25,263.30 L245.50,263.30 L245.75,263.30 L245.88,264.20 Z M247.38,264.20 L247.50,263.20 L247.75,263.20 L248.00,263.20 L248.25,263.20 L248.50,263.20 L248.75,263.20 L249.00,263.30 L249.25,263.30 L249.50,263.30 L249.75,263.30 L250.00,263.30 L250.25,263.30 L250.50,263.30 L250.75,263.30 L251.00,263.30 L251.25,263.30 L251.38,264.20 Z M251.62,264.20 L251.75,263.30 L252.00,263.30 L252.25,263.30 L252.50,263.30 L252.75,263.30 L253.00,263.30 L253.25,263.30 L253.50,263.30 L253.75,262.80 L254.00,262.80 L254.25,262.80 L254.38,264.20 Z M254.62,264.20 L254.75,262.80 L255.00,262.80 L255.25,262.80 L255.50,262.80 L255.62,264.20 Z M256.62,264.20 L256.75,262.20 L257.00,262.20 L257.25,262.20 L257.50,263.20 L257.75,263.20 L258.00,263.20 L258.25,263.20 L258.50,263.20 L258.75,263.20 L258.88,264.20 Z M260.38,264.20 L260.50,263.10 L260.75,263.10 L261.00,263.10 L261.25,263.10 L261.50,263.10 L261.75,263.10 L262.00,263.10 L262.25,263.10 L262.50,263.10 L262.75,263.10 L263.00,263.10 L263.25,262.28 L263.50,259.70 L263.75,259.70 L264.00,259.70 L264.25,259.70 L264.50,259.70 L264.75,262.28 L265.00,261.99 L265.25,261.20 L265.50,261.20 L265.75,261.20 L266.00,261.99 L266.25,263.00 L266.50,263.00 L266.75,263.00 L267.00,263.00 L267.25,263.00 L267.38,264.20 Z M268.38,264.20 L268.50,262.20 L268.75,262.20 L269.00,262.20 L269.25,262.20 L269.50,263.00 L269.75,263.00 L270.00,263.00 L270.25,263.00 L270.50,263.00 L270.75,263.00 L271.00,263.00 L271.25,263.00 L271.50,263.00 L271.75,263.00 L271.88,264.20 Z M273.88,264.20 L274.00,263.30 L274.25,263.30 L274.50,263.30 L274.75,263.30 L275.00,263.30 L275.25,263.30 L275.50,262.58 L275.75,262.00 L276.00,262.00 L276.25,262.00 L276.50,262.58 L276.75,263.72 L277.00,264.14 L277.25,262.60 L277.50,262.60 L277.75,262.60 L278.00,262.60 L278.25,262.60 L278.50,263.00 L278.75,263.00 L279.00,263.00 L279.25,263.00 L279.50,263.00 L279.75,263.00 L280.00,263.00 L280.25,263.00 L280.38,264.20 Z M284.88,264.20 L285.00,262.80 L285.25,262.80 L285.50,262.80 L285.75,264.08 L286.00,263.26 L286.25,262.00 L286.50,262.00 L286.75,262.00 L287.00,262.60 L287.25,262.60 L287.50,262.02 L287.75,257.48 L288.00,256.70 L288.25,256.70 L288.50,256.70 L288.75,259.70 L289.00,262.20 L289.25,262.20 L289.50,262.20 L289.75,261.70 L290.00,261.70 L290.25,261.70 L290.50,262.20 L290.75,262.20 L291.00,262.20 L291.25,262.60 L291.50,262.60 L291.75,262.60 L292.00,262.20 L292.25,262.20 L292.50,262.20 L292.75,262.60 L293.00,262.60 L293.25,262.60 L293.50,262.60 L293.75,262.60 L293.88,264.20 Z M294.62,264.20 L294.75,262.80 L295.00,262.80 L295.25,262.80 L295.50,262.80 L295.62,264.20 Z M296.38,264.20 L296.50,263.10 L296.75,263.10 L297.00,263.10 L297.25,263.10 L297.38,264.20 Z M303.62,264.20 L303.75,262.60 L304.00,261.60 L304.25,261.60 L304.50,261.60 L304.75,261.60 L305.00,260.09 L305.25,249.58 L305.50,235.00 L305.75,235.00 L306.00,235.00 L306.25,235.00 L306.50,246.34 L306.75,251.45 L307.00,253.53 L307.25,255.62 L307.50,257.70 L307.75,258.20 L308.00,258.70 L308.25,259.20 L308.50,259.70 L308.75,259.57 L309.00,259.45 L309.25,259.32 L309.50,259.20 L309.75,259.51 L310.00,259.82 L310.25,260.14 L310.50,259.45 L310.75,258.51 L311.00,257.57 L311.25,256.64 L311.50,255.70 L311.75,255.54 L312.00,255.39 L312.25,255.23 L312.50,256.31 L312.75,257.70 L313.00,259.09 L313.25,260.28 L313.50,260.66 L313.75,261.05 L314.00,261.43 L314.25,261.60 L314.50,261.60 L314.75,261.60 L315.00,261.60 L315.25,261.60 L315.50,261.60 L315.75,261.60 L316.00,261.60 L316.25,261.60 L316.50,261.60 L316.75,263.00 L317.00,263.00 L317.25,263.00 L317.50,263.00 L317.62,264.20 Z M318.62,264.20 L318.75,263.10 L319.00,263.10 L319.25,263.10 L319.50,263.10 L319.75,263.10 L320.00,263.10 L320.25,263.10 L320.50,263.10 L320.75,263.10 L321.00,263.10 L321.25,263.10 L321.50,263.10 L321.75,263.10 L322.00,263.10 L322.12,264.20 Z M323.12,264.20 L323.25,263.30 L323.50,263.30 L323.75,263.30 L324.00,263.30 L324.12,264.20 Z M324.62,264.20 L324.75,263.20 L325.00,263.20 L325.25,263.20 L325.50,263.20 L325.75,263.20 L326.00,263.20 L326.12,264.20 Z M328.12,264.20 L328.25,263.00 L328.50,263.00 L328.75,263.00 L329.00,263.00 L329.25,263.00 L329.50,263.00 L329.75,263.00 L330.00,263.00 L330.12,264.20 Z M330.62,264.20 L330.75,263.00 L331.00,263.00 L331.25,263.00 L331.50,263.00 L331.75,263.00 L332.00,263.00 L332.25,263.00 L332.50,263.00 L332.75,263.00 L333.00,263.00 L333.25,263.00 L333.50,263.00 L333.75,262.20 L334.00,262.20 L334.25,262.20 L334.50,262.20 L334.75,262.20 L335.00,262.20 L335.25,262.20 L335.50,262.20 L335.75,262.20 L336.00,262.20 L336.25,262.20 L336.50,262.20 L336.75,262.20 L336.88,264.20 Z M337.88,264.20 L338.00,262.20 L338.25,262.20 L338.50,262.20 L338.75,262.20 L339.00,262.20 L339.25,262.20 L339.50,262.20 L339.75,262.20 L340.00,262.20 L340.25,262.20 L340.50,262.20 L340.75,262.20 L341.00,262.20 L341.25,263.00 L341.50,263.00 L341.75,263.00 L342.00,263.00 L342.25,263.00 L342.50,263.00 L342.75,263.00 L343.00,263.00 L343.25,263.00 L343.50,263.00 L343.75,263.00 L344.00,263.00 L344.25,263.00 L344.50,263.00 L344.75,263.00 L345.00,263.00 L345.25,263.00 L345.50,263.00 L345.75,263.00 L346.00,263.00 L346.25,263.00 L346.50,263.00 L346.75,263.00 L347.00,263.00 L347.25,263.00 L347.50,263.00 L347.75,263.00 L347.88,264.20 Z M348.38,264.20 L348.50,262.20 L348.75,262.20 L349.00,262.20 L349.25,262.20 L349.38,264.20 Z M351.88,264.20 L352.00,263.30 L352.25,263.30 L352.50,263.30 L352.75,263.30 L353.00,263.30 L353.25,263.30 L353.50,263.30 L353.62,264.20 Z M360.62,264.20 L360.75,262.60 L361.00,262.60 L361.25,262.60 L361.50,261.20 L361.75,261.20 L362.00,261.20 L362.25,261.20 L362.50,261.20 L362.75,262.92 L363.00,263.20 L363.25,263.20 L363.50,263.20 L363.75,263.20 L363.88,264.20 Z M364.12,264.20 L364.25,262.80 L364.50,262.80 L364.75,262.80 L364.88,264.20 Z M365.12,264.20 L365.25,262.80 L365.50,262.80 L365.75,262.80 L366.00,262.80 L366.25,262.80 L366.50,262.80 L366.75,262.80 L367.00,262.80 L367.25,262.80 L367.50,262.80 L367.62,264.20 Z M367.88,264.20 L368.00,262.60 L368.25,262.60 L368.50,262.60 L368.75,262.60 L369.00,262.60 L369.25,262.60 L369.50,262.60 L369.75,262.60 L370.00,262.60 L370.25,262.60 L370.50,262.60 L370.75,262.60 L370.88,264.20 Z M372.88,264.20 L373.00,262.80 L373.25,262.80 L373.50,262.80 L373.75,262.80 L374.00,262.80 L374.25,262.80 L374.50,262.80 L374.75,262.80 L374.88,264.20 Z " fill="#d00c35" stroke="#86122f" stroke-width="0.65" stroke-linejoin="round"/>
<path d="M72.38,307.10 L72.50,306.20 L72.75,306.20 L73.00,306.20 L73.25,306.20 L73.50,306.20 L73.75,306.20 L74.00,306.20 L74.25,306.20 L74.50,306.20 L74.75,306.20 L75.00,306.20 L75.12,307.10 Z M75.38,307.10 L75.50,305.70 L75.75,305.70 L76.00,305.70 L76.25,305.90 L76.50,305.90 L76.75,305.90 L77.00,305.90 L77.25,305.90 L77.50,305.90 L77.75,305.90 L78.00,305.90 L78.25,305.90 L78.50,305.90 L78.75,305.90 L79.00,305.90 L79.25,305.90 L79.50,305.90 L79.62,307.10 Z M79.88,307.10 L80.00,306.20 L80.25,306.20 L80.50,306.20 L80.75,306.20 L81.00,306.20 L81.25,306.20 L81.38,307.10 Z M81.88,307.10 L82.00,306.00 L82.25,306.00 L82.50,306.00 L82.75,306.00 L83.00,306.00 L83.25,306.00 L83.50,306.00 L83.62,307.10 Z M84.12,307.10 L84.25,305.10 L84.50,305.10 L84.75,305.10 L85.00,305.10 L85.25,305.10 L85.50,305.10 L85.75,305.10 L86.00,305.10 L86.25,305.10 L86.50,305.10 L86.75,305.10 L86.88,307.10 Z M87.38,307.10 L87.50,306.00 L87.75,306.00 L88.00,306.00 L88.25,306.00 L88.50,306.00 L88.75,306.00 L89.00,306.00 L89.25,306.00 L89.50,306.00 L89.75,306.00 L90.00,306.00 L90.25,306.00 L90.38,307.10 Z M91.38,307.10 L91.50,305.10 L91.75,305.10 L91.88,307.10 Z M96.12,307.10 L96.25,305.50 L96.50,305.50 L96.75,305.50 L97.00,305.50 L97.25,305.50 L97.50,305.50 L97.75,305.50 L98.00,305.50 L98.25,305.50 L98.50,305.50 L98.75,305.50 L98.88,307.10 Z M100.88,307.10 L101.00,305.10 L101.25,305.10 L101.50,305.10 L101.75,305.10 L102.00,305.10 L102.25,305.10 L102.50,305.10 L102.75,305.10 L103.00,305.10 L103.25,305.10 L103.50,305.10 L103.75,305.10 L103.88,307.10 Z M105.38,307.10 L105.50,305.70 L105.75,305.70 L106.00,305.70 L106.25,305.70 L106.50,305.70 L106.75,305.70 L107.00,305.70 L107.25,305.70 L107.50,305.70 L107.75,305.70 L108.00,305.70 L108.12,307.10 Z M108.38,307.10 L108.50,305.10 L108.75,305.10 L109.00,305.10 L109.25,305.10 L109.50,305.10 L109.75,305.70 L110.00,305.70 L110.25,305.70 L110.50,304.52 L110.75,303.60 L111.00,303.60 L111.25,303.60 L111.50,304.52 L111.75,305.70 L112.00,305.70 L112.12,307.10 Z M112.38,307.10 L112.50,306.10 L112.75,306.10 L113.00,306.10 L113.12,307.10 Z M113.38,307.10 L113.50,305.70 L113.75,305.70 L114.00,305.70 L114.25,305.70 L114.50,305.70 L114.62,307.10 Z M116.62,307.10 L116.75,305.70 L117.00,305.70 L117.25,305.70 L117.50,305.70 L117.75,305.70 L118.00,305.70 L118.25,305.70 L118.50,305.70 L118.75,305.70 L119.00,305.70 L119.25,305.70 L119.50,305.70 L119.75,305.70 L120.00,305.70 L120.25,305.50 L120.50,305.50 L120.75,305.50 L120.88,307.10 Z M121.88,307.10 L122.00,305.10 L122.25,305.10 L122.50,305.10 L122.75,305.10 L123.00,305.10 L123.25,305.10 L123.50,305.10 L123.75,305.10 L124.00,305.10 L124.25,305.10 L124.50,305.10 L124.62,307.10 Z M125.62,307.10 L125.75,307.06 L126.00,306.62 L126.25,305.30 L126.50,304.10 L126.75,304.10 L127.00,304.10 L127.25,304.41 L127.50,306.10 L127.75,306.20 L128.00,306.20 L128.25,306.20 L128.50,306.20 L128.75,306.20 L129.00,306.20 L129.12,307.10 Z M129.88,307.10 L130.00,305.70 L130.25,305.70 L130.50,305.70 L130.75,305.70 L130.88,307.10 Z M132.88,307.10 L133.00,305.90 L133.25,305.90 L133.50,305.90 L133.75,305.50 L134.00,305.50 L134.25,305.50 L134.50,305.50 L134.75,305.50 L135.00,305.50 L135.25,305.50 L135.50,305.50 L135.62,307.10 Z M136.12,307.10 L136.25,305.70 L136.50,305.70 L136.75,305.70 L137.00,305.70 L137.25,305.70 L137.50,305.70 L137.75,305.70 L137.88,307.10 Z M139.88,307.10 L140.00,305.70 L140.25,305.70 L140.50,305.70 L140.75,305.70 L141.00,305.70 L141.25,305.70 L141.50,305.70 L141.75,305.70 L142.00,305.70 L142.25,305.70 L142.50,303.53 L142.75,301.00 L143.00,301.00 L143.25,301.00 L143.50,303.53 L143.75,306.33 L144.00,307.07 L144.12,307.10 Z M144.62,307.10 L144.75,305.70 L145.00,305.70 L145.25,305.70 L145.50,305.70 L145.75,305.70 L146.00,305.70 L146.12,307.10 Z M146.88,307.10 L147.00,306.10 L147.25,306.10 L147.50,306.10 L147.75,306.10 L148.00,305.90 L148.25,305.90 L148.50,305.90 L148.75,305.90 L149.00,305.90 L149.25,305.90 L149.50,305.90 L149.75,305.90 L150.00,305.90 L150.25,305.84 L150.50,298.32 L150.75,281.80 L151.00,281.80 L151.25,281.80 L151.50,283.97 L151.75,300.60 L152.00,305.90 L152.25,305.90 L152.50,305.90 L152.75,305.90 L153.00,305.90 L153.25,305.90 L153.50,305.90 L153.75,305.90 L154.00,305.90 L154.25,305.90 L154.50,305.90 L154.75,305.90 L155.00,305.90 L155.25,305.90 L155.50,305.90 L155.75,305.90 L156.00,305.90 L156.25,305.90 L156.50,305.90 L156.75,305.90 L157.00,305.90 L157.25,305.90 L157.50,305.90 L157.75,305.90 L158.00,305.90 L158.25,305.90 L158.50,305.90 L158.75,305.90 L159.00,305.90 L159.25,305.90 L159.50,302.89 L159.75,291.26 L160.00,280.70 L160.25,280.70 L160.50,280.70 L160.75,283.46 L161.00,299.42 L161.25,305.85 L161.50,305.10 L161.75,305.10 L162.00,305.10 L162.25,305.10 L162.50,305.10 L162.75,305.10 L163.00,305.10 L163.25,305.90 L163.50,305.90 L163.75,305.90 L164.00,305.90 L164.25,305.90 L164.50,305.90 L164.75,305.90 L165.00,305.90 L165.25,305.90 L165.50,305.90 L165.75,305.90 L166.00,305.90 L166.25,305.90 L166.50,305.90 L166.75,305.90 L167.00,305.90 L167.25,305.90 L167.50,305.90 L167.75,305.90 L168.00,305.90 L168.25,305.90 L168.50,305.90 L168.75,305.90 L169.00,305.50 L169.25,305.50 L169.50,305.50 L169.75,304.42 L170.00,294.68 L170.25,285.90 L170.50,285.90 L170.75,285.90 L171.00,294.68 L171.25,304.42 L171.50,305.90 L171.75,305.50 L172.00,305.50 L172.25,305.50 L172.50,305.50 L172.75,305.50 L173.00,305.50 L173.25,305.90 L173.50,305.90 L173.75,305.90 L174.00,305.90 L174.25,305.90 L174.50,305.90 L174.75,305.90 L175.00,305.90 L175.25,305.90 L175.50,305.90 L175.75,305.90 L176.00,305.90 L176.25,305.90 L176.50,305.90 L176.75,305.90 L177.00,305.90 L177.25,305.90 L177.50,305.90 L177.75,305.90 L178.00,305.90 L178.25,305.90 L178.50,305.90 L178.75,305.90 L179.00,305.90 L179.25,305.90 L179.50,305.90 L179.75,305.90 L180.00,305.50 L180.25,305.50 L180.50,305.50 L180.75,305.50 L181.00,305.50 L181.25,305.50 L181.50,305.50 L181.75,305.50 L182.00,300.30 L182.25,287.50 L182.50,287.50 L182.75,287.50 L183.00,289.18 L183.25,302.06 L183.50,305.90 L183.75,305.90 L184.00,305.90 L184.25,305.90 L184.50,305.90 L184.75,305.90 L185.00,305.90 L185.25,305.90 L185.50,305.90 L185.75,305.90 L186.00,305.90 L186.25,305.90 L186.50,305.90 L186.62,307.10 Z M188.62,307.10 L188.75,305.90 L189.00,305.90 L189.25,305.90 L189.50,305.90 L189.75,305.90 L190.00,305.90 L190.25,305.90 L190.50,305.90 L190.75,305.90 L191.00,305.90 L191.25,305.90 L191.50,305.90 L191.75,305.90 L192.00,305.90 L192.25,305.70 L192.50,305.70 L192.75,305.70 L193.00,305.70 L193.25,305.70 L193.50,305.70 L193.75,305.70 L194.00,305.70 L194.12,307.10 Z M194.88,307.10 L195.00,305.10 L195.25,305.10 L195.50,305.10 L195.75,305.10 L196.00,306.20 L196.25,306.20 L196.50,306.20 L196.75,306.20 L197.00,306.20 L197.25,306.20 L197.50,306.20 L197.75,306.20 L198.00,306.20 L198.25,306.20 L198.50,306.20 L198.75,306.20 L199.00,306.20 L199.12,307.10 Z M199.88,307.10 L200.00,305.10 L200.25,305.10 L200.50,305.10 L200.75,305.10 L201.00,305.10 L201.12,307.10 Z M201.88,307.10 L202.00,305.10 L202.25,305.10 L202.50,305.10 L202.75,305.10 L203.00,305.10 L203.12,307.10 Z M204.62,307.10 L204.75,305.90 L205.00,305.90 L205.25,305.90 L205.50,305.90 L205.75,305.90 L206.00,305.90 L206.25,305.90 L206.50,305.90 L206.75,305.90 L207.00,305.90 L207.25,305.90 L207.50,305.90 L207.75,305.90 L207.88,307.10 Z M208.62,307.10 L208.75,305.50 L209.00,305.50 L209.25,305.50 L209.50,305.50 L209.75,305.50 L209.88,307.10 Z M211.88,307.10 L212.00,306.00 L212.25,306.00 L212.50,306.00 L212.75,306.00 L213.00,306.00 L213.25,306.00 L213.50,306.00 L213.75,306.00 L214.00,305.90 L214.25,305.90 L214.50,305.90 L214.62,307.10 Z M214.88,307.10 L215.00,306.20 L215.25,306.20 L215.50,306.20 L215.75,306.20 L215.88,307.10 Z M216.62,307.10 L216.75,305.10 L217.00,305.10 L217.25,305.10 L217.50,305.10 L217.75,305.10 L218.00,305.10 L218.25,305.10 L218.50,305.10 L218.75,305.10 L219.00,305.10 L219.25,305.10 L219.50,305.10 L219.75,305.10 L220.00,305.70 L220.25,305.70 L220.50,305.70 L220.75,305.70 L221.00,305.70 L221.25,305.70 L221.50,305.70 L221.75,306.00 L222.00,306.00 L222.25,306.00 L222.50,306.00 L222.75,306.00 L223.00,306.00 L223.25,306.20 L223.50,306.20 L223.75,306.20 L224.00,306.20 L224.12,307.10 Z M226.12,307.10 L226.25,306.00 L226.50,306.00 L226.75,306.00 L227.00,306.00 L227.25,306.00 L227.50,306.00 L227.75,306.00 L228.00,306.00 L228.12,307.10 Z M229.62,307.10 L229.75,306.20 L230.00,306.20 L230.25,306.20 L230.50,306.20 L230.75,306.20 L231.00,306.20 L231.25,306.20 L231.50,306.20 L231.75,306.20 L232.00,306.20 L232.25,306.20 L232.50,306.20 L232.62,307.10 Z M232.88,307.10 L233.00,306.20 L233.25,306.20 L233.50,306.20 L233.75,306.20 L234.00,306.20 L234.25,306.20 L234.50,306.20 L234.75,306.20 L235.00,306.20 L235.25,306.20 L235.50,306.20 L235.62,307.10 Z M236.12,307.10 L236.25,306.20 L236.50,306.20 L236.75,306.20 L237.00,306.20 L237.25,306.20 L237.38,307.10 Z M238.12,307.10 L238.25,306.00 L238.50,306.00 L238.75,306.00 L239.00,306.00 L239.25,306.00 L239.38,307.10 Z M239.88,307.10 L240.00,305.70 L240.25,305.70 L240.50,305.70 L240.75,305.70 L241.00,305.70 L241.25,305.70 L241.50,305.70 L241.75,305.70 L242.00,305.70 L242.25,305.70 L242.50,305.70 L242.75,305.70 L243.00,305.70 L243.12,307.10 Z M243.88,307.10 L244.00,305.90 L244.25,305.90 L244.50,305.90 L244.75,305.90 L245.00,305.90 L245.25,305.90 L245.38,307.10 Z M246.12,307.10 L246.25,306.00 L246.50,306.00 L246.75,306.00 L247.00,306.00 L247.25,306.00 L247.50,306.00 L247.75,306.00 L248.00,306.00 L248.25,306.00 L248.50,306.00 L248.75,306.00 L248.88,307.10 Z M249.12,307.10 L249.25,306.00 L249.50,306.00 L249.75,306.00 L250.00,306.00 L250.25,306.00 L250.50,306.00 L250.75,306.00 L251.00,306.00 L251.25,306.20 L251.50,306.20 L251.75,306.20 L252.00,305.70 L252.25,305.70 L252.50,305.70 L252.75,305.70 L253.00,305.70 L253.25,305.70 L253.50,305.70 L253.75,305.70 L254.00,305.70 L254.25,305.70 L254.50,305.70 L254.75,305.70 L255.00,305.70 L255.25,305.70 L255.38,307.10 Z M255.88,307.10 L256.00,305.90 L256.25,305.90 L256.50,305.90 L256.75,305.90 L257.00,305.90 L257.25,305.90 L257.50,305.90 L257.75,305.90 L258.00,305.90 L258.25,305.90 L258.38,307.10 Z M258.88,307.10 L259.00,305.50 L259.25,305.50 L259.50,305.50 L259.75,305.50 L260.00,306.89 L260.25,305.39 L260.50,301.35 L260.75,299.30 L261.00,299.30 L261.25,299.30 L261.50,301.35 L261.75,305.39 L262.00,305.70 L262.25,305.70 L262.50,305.70 L262.75,305.70 L263.00,305.70 L263.25,305.70 L263.50,305.70 L263.75,305.70 L263.88,307.10 Z M265.38,307.10 L265.50,306.10 L265.75,306.10 L266.00,306.10 L266.25,306.10 L266.50,306.10 L266.75,306.10 L267.00,306.10 L267.12,307.10 Z M267.62,307.10 L267.75,305.10 L268.00,305.10 L268.25,305.10 L268.50,305.10 L268.75,305.10 L269.00,305.10 L269.25,305.10 L269.50,305.10 L269.62,307.10 Z M270.12,307.10 L270.25,305.90 L270.50,305.90 L270.75,305.90 L271.00,305.90 L271.25,305.90 L271.50,305.90 L271.75,305.90 L272.00,305.90 L272.25,305.90 L272.50,305.90 L272.75,305.90 L273.00,305.90 L273.25,305.90 L273.50,305.90 L273.62,307.10 Z M273.88,307.10 L274.00,305.10 L274.25,305.10 L274.50,305.10 L274.75,305.10 L275.00,305.10 L275.25,305.10 L275.50,305.10 L275.75,305.10 L276.00,306.20 L276.25,306.20 L276.50,306.20 L276.75,306.20 L277.00,306.20 L277.25,305.90 L277.50,305.90 L277.75,305.90 L278.00,305.90 L278.25,305.90 L278.50,305.90 L278.75,305.90 L279.00,305.90 L279.25,305.90 L279.50,305.90 L279.75,305.90 L280.00,305.90 L280.25,305.90 L280.38,307.10 Z M281.12,307.10 L281.25,306.20 L281.50,306.20 L281.75,306.20 L282.00,306.20 L282.25,306.20 L282.50,305.10 L282.75,305.10 L283.00,305.10 L283.25,305.10 L283.50,305.10 L283.75,305.10 L284.00,305.10 L284.25,305.10 L284.50,305.10 L284.75,305.10 L285.00,305.10 L285.25,305.10 L285.50,305.10 L285.75,307.08 L286.00,306.64 L286.25,304.98 L286.50,301.29 L286.75,300.50 L287.00,300.50 L287.25,300.50 L287.50,301.29 L287.75,304.98 L288.00,305.70 L288.25,305.70 L288.50,305.70 L288.75,305.70 L289.00,305.70 L289.25,305.70 L289.50,305.70 L289.75,305.70 L289.88,307.10 Z M290.62,307.10 L290.75,306.20 L291.00,306.20 L291.25,306.20 L291.50,306.20 L291.75,306.20 L292.00,306.20 L292.12,307.10 Z M292.88,307.10 L293.00,306.10 L293.25,306.10 L293.50,306.10 L293.75,306.10 L294.00,306.10 L294.25,306.10 L294.50,306.10 L294.75,306.10 L295.00,306.10 L295.25,306.10 L295.38,307.10 Z M295.62,307.10 L295.75,306.20 L296.00,306.20 L296.25,306.20 L296.50,306.20 L296.75,306.20 L297.00,306.20 L297.25,306.20 L297.38,307.10 Z M299.38,307.10 L299.50,306.00 L299.75,306.00 L300.00,305.50 L300.25,305.50 L300.50,305.50 L300.75,305.50 L301.00,305.50 L301.25,305.50 L301.50,305.50 L301.75,305.50 L302.00,305.50 L302.25,305.50 L302.50,305.50 L302.75,305.50 L303.00,305.50 L303.25,305.50 L303.50,305.50 L303.75,305.50 L304.00,305.50 L304.25,305.50 L304.50,305.50 L304.75,305.50 L305.00,302.80 L305.25,291.83 L305.50,276.60 L305.75,276.60 L306.00,276.60 L306.25,276.60 L306.50,288.45 L306.75,297.10 L307.00,296.81 L307.25,298.96 L307.50,301.10 L307.75,301.35 L308.00,301.60 L308.25,301.85 L308.50,302.10 L308.75,301.32 L309.00,300.54 L309.25,299.76 L309.50,300.27 L309.75,301.10 L310.00,301.93 L310.25,302.58 L310.50,302.45 L310.75,302.33 L311.00,302.20 L311.25,302.05 L311.50,301.80 L311.75,301.55 L312.00,301.30 L312.25,301.29 L312.50,302.23 L312.75,303.16 L313.00,304.10 L313.25,304.29 L313.50,304.48 L313.75,304.66 L314.00,304.85 L314.25,305.04 L314.50,305.23 L314.75,305.41 L315.00,305.50 L315.25,305.50 L315.50,305.50 L315.75,305.50 L316.00,305.50 L316.25,305.50 L316.50,305.50 L316.75,305.50 L317.00,305.50 L317.25,305.50 L317.50,305.50 L317.75,305.50 L318.00,305.50 L318.25,306.10 L318.50,306.10 L318.75,306.10 L319.00,306.10 L319.25,306.10 L319.50,306.10 L319.62,307.10 Z M320.12,307.10 L320.25,306.20 L320.50,306.20 L320.75,306.20 L321.00,306.20 L321.25,306.20 L321.50,306.20 L321.75,306.20 L322.00,306.20 L322.25,306.20 L322.50,306.20 L322.75,306.20 L323.00,306.10 L323.25,306.10 L323.50,306.10 L323.75,306.10 L324.00,306.10 L324.25,306.10 L324.50,306.10 L324.75,305.90 L325.00,305.90 L325.25,305.90 L325.50,305.90 L325.75,305.90 L326.00,305.90 L326.25,305.90 L326.50,305.90 L326.75,305.90 L327.00,306.00 L327.25,306.00 L327.50,306.00 L327.62,307.10 Z M328.38,307.10 L328.50,306.20 L328.75,306.20 L329.00,306.20 L329.25,306.20 L329.50,306.20 L329.75,306.20 L330.00,306.20 L330.25,306.20 L330.50,306.20 L330.75,306.20 L331.00,306.20 L331.25,306.20 L331.50,306.20 L331.62,307.10 Z M332.12,307.10 L332.25,305.50 L332.50,305.50 L332.75,305.50 L333.00,305.50 L333.25,305.50 L333.50,305.50 L333.75,305.50 L334.00,305.50 L334.25,305.50 L334.50,305.50 L334.75,305.50 L335.00,305.50 L335.12,307.10 Z M335.38,307.10 L335.50,305.10 L335.75,305.10 L336.00,305.10 L336.25,305.10 L336.50,305.10 L336.75,305.10 L337.00,305.10 L337.25,305.10 L337.50,305.10 L337.75,305.10 L338.00,305.10 L338.25,305.10 L338.50,305.10 L338.75,305.10 L338.88,307.10 Z M340.38,307.10 L340.50,306.10 L340.75,306.10 L341.00,306.10 L341.25,306.10 L341.50,306.10 L341.75,306.10 L342.00,306.10 L342.25,306.10 L342.38,307.10 Z M344.38,307.10 L344.50,306.20 L344.75,306.20 L345.00,306.20 L345.25,306.20 L345.50,306.20 L345.75,306.20 L346.00,306.20 L346.12,307.10 Z M346.38,307.10 L346.50,305.50 L346.75,305.50 L347.00,305.50 L347.25,305.50 L347.50,305.50 L347.75,305.50 L348.00,305.50 L348.25,305.50 L348.50,305.50 L348.75,305.50 L349.00,305.50 L349.25,305.50 L349.50,305.50 L349.75,305.50 L349.88,307.10 Z M351.38,307.10 L351.50,305.70 L351.75,305.70 L352.00,305.70 L352.25,305.70 L352.50,305.70 L352.75,305.70 L353.00,305.70 L353.25,305.70 L353.50,305.70 L353.75,305.70 L354.00,305.70 L354.25,305.70 L354.50,305.70 L354.75,305.70 L354.88,307.10 Z M355.12,307.10 L355.25,305.10 L355.50,305.10 L355.75,305.10 L356.00,305.10 L356.25,305.10 L356.50,305.10 L356.75,305.10 L357.00,305.10 L357.25,305.10 L357.50,305.10 L357.75,305.10 L358.00,306.20 L358.25,306.20 L358.50,306.20 L358.75,306.20 L359.00,306.20 L359.25,306.20 L359.50,306.20 L359.75,306.20 L360.00,306.20 L360.25,306.20 L360.50,306.20 L360.75,306.20 L361.00,306.20 L361.25,306.27 L361.50,303.23 L361.75,300.50 L362.00,300.50 L362.25,300.50 L362.50,303.23 L362.75,306.20 L363.00,306.20 L363.25,306.20 L363.50,306.20 L363.75,306.20 L364.00,306.20 L364.25,306.20 L364.50,306.20 L364.75,306.20 L365.00,306.20 L365.25,306.20 L365.50,306.20 L365.62,307.10 Z M366.62,307.10 L366.75,305.70 L367.00,305.70 L367.25,305.70 L367.50,305.70 L367.75,305.70 L368.00,305.70 L368.25,305.70 L368.50,305.70 L368.75,305.70 L368.88,307.10 Z M370.88,307.10 L371.00,305.50 L371.25,305.50 L371.50,305.50 L371.75,305.90 L372.00,305.90 L372.25,305.90 L372.50,305.90 L372.75,305.90 L373.00,305.90 L373.25,305.90 L373.50,305.90 L373.75,305.90 L374.00,305.90 L374.25,305.90 L374.38,307.10 Z " fill="#d00c35" stroke="#86122f" stroke-width="0.65" stroke-linejoin="round"/>
<path d="M72.38,353.50 L72.50,352.30 L72.75,352.30 L73.00,352.30 L73.25,352.30 L73.50,352.30 L73.75,352.30 L74.00,352.30 L74.25,351.90 L74.50,351.90 L74.75,351.90 L75.00,351.90 L75.25,351.90 L75.50,351.90 L75.75,351.90 L76.00,351.90 L76.25,351.90 L76.50,351.90 L76.75,351.90 L77.00,351.90 L77.25,351.90 L77.50,351.90 L77.75,351.90 L78.00,352.40 L78.25,352.40 L78.50,352.40 L78.75,352.40 L79.00,352.40 L79.25,352.40 L79.50,352.40 L79.75,352.40 L80.00,352.40 L80.25,352.40 L80.50,352.40 L80.75,352.40 L81.00,352.40 L81.25,352.40 L81.38,353.50 Z M83.38,353.50 L83.50,352.50 L83.75,352.50 L84.00,352.50 L84.25,352.50 L84.38,353.50 Z M85.12,353.50 L85.25,352.50 L85.50,352.50 L85.75,352.50 L86.00,352.50 L86.25,352.50 L86.50,352.50 L86.75,352.50 L87.00,352.50 L87.25,352.50 L87.50,352.50 L87.75,352.50 L88.00,352.50 L88.25,352.50 L88.50,352.50 L88.62,353.50 Z M89.12,353.50 L89.25,352.30 L89.50,352.30 L89.75,352.30 L90.00,352.30 L90.25,352.30 L90.50,352.30 L90.75,352.30 L91.00,352.30 L91.25,352.30 L91.50,352.30 L91.75,352.30 L92.00,352.30 L92.25,352.30 L92.50,352.30 L92.62,353.50 Z M94.62,353.50 L94.75,352.30 L95.00,352.30 L95.25,352.30 L95.50,352.30 L95.75,352.30 L96.00,352.30 L96.25,352.30 L96.50,352.30 L96.75,352.30 L97.00,351.50 L97.25,351.50 L97.50,351.50 L97.75,351.50 L98.00,351.50 L98.25,351.50 L98.50,351.50 L98.75,351.50 L99.00,351.50 L99.25,351.50 L99.50,351.50 L99.75,351.50 L100.00,351.50 L100.12,353.50 Z M100.88,353.50 L101.00,352.60 L101.25,352.60 L101.50,352.60 L101.62,353.50 Z M102.12,353.50 L102.25,352.40 L102.50,352.40 L102.75,352.40 L103.00,352.40 L103.25,352.40 L103.50,352.40 L103.75,352.40 L104.00,352.40 L104.25,352.40 L104.50,352.40 L104.75,352.40 L105.00,352.40 L105.12,353.50 Z M105.38,353.50 L105.50,352.10 L105.75,352.10 L106.00,352.10 L106.25,352.10 L106.50,352.10 L106.75,352.10 L107.00,352.10 L107.12,353.50 Z M107.88,353.50 L108.00,352.60 L108.25,352.60 L108.50,352.60 L108.75,352.60 L109.00,352.60 L109.25,352.60 L109.50,352.60 L109.75,352.60 L110.00,352.60 L110.25,352.60 L110.50,352.60 L110.75,352.60 L110.88,353.50 Z M111.12,353.50 L111.25,352.30 L111.50,352.30 L111.75,352.30 L112.00,352.30 L112.25,352.30 L112.50,352.30 L112.75,352.30 L113.00,352.30 L113.25,352.30 L113.50,352.30 L113.75,351.90 L114.00,351.90 L114.25,351.90 L114.50,351.90 L114.75,351.90 L115.00,351.90 L115.25,351.90 L115.50,352.40 L115.75,352.40 L116.00,352.40 L116.25,352.40 L116.50,352.40 L116.75,352.40 L116.88,353.50 Z M118.88,353.50 L119.00,352.30 L119.25,352.30 L119.50,352.30 L119.75,352.30 L120.00,352.30 L120.25,352.30 L120.50,352.30 L120.75,352.30 L121.00,352.30 L121.25,352.30 L121.50,352.30 L121.75,352.30 L122.00,352.30 L122.25,352.30 L122.38,353.50 Z M123.12,353.50 L123.25,351.50 L123.50,351.50 L123.75,351.50 L124.00,351.50 L124.25,351.50 L124.50,351.50 L124.75,351.50 L125.00,351.50 L125.25,351.50 L125.50,351.50 L125.75,351.00 L126.00,351.00 L126.25,351.00 L126.50,351.66 L126.75,352.95 L127.00,353.43 L127.12,353.50 Z M127.62,353.50 L127.75,352.40 L128.00,352.40 L128.25,352.40 L128.50,352.40 L128.62,353.50 Z M129.12,353.50 L129.25,352.60 L129.50,352.60 L129.75,352.60 L130.00,352.60 L130.12,353.50 Z M131.88,353.50 L132.00,353.44 L132.25,352.60 L132.50,351.88 L132.75,351.30 L133.00,351.30 L133.25,351.30 L133.50,351.88 L133.75,352.60 L134.00,353.44 L134.12,353.50 Z M135.88,353.50 L136.00,352.40 L136.25,352.40 L136.50,352.02 L136.75,351.50 L137.00,351.50 L137.25,351.50 L137.50,352.02 L137.75,352.40 L138.00,352.40 L138.25,352.40 L138.50,352.40 L138.62,353.50 Z M139.38,353.50 L139.50,353.50 L139.75,352.60 L140.00,351.70 L140.25,351.67 L140.50,351.63 L140.75,351.60 L141.00,351.57 L141.25,351.53 L141.50,351.50 L141.75,351.47 L142.00,351.43 L142.25,351.40 L142.50,351.37 L142.75,347.50 L143.00,347.50 L143.25,347.50 L143.50,348.01 L143.75,351.35 L144.00,351.37 L144.25,351.38 L144.50,351.40 L144.75,351.42 L145.00,351.43 L145.25,351.45 L145.50,351.47 L145.75,351.48 L146.00,351.50 L146.25,351.45 L146.50,351.40 L146.75,351.35 L147.00,351.30 L147.25,351.25 L147.50,351.20 L147.75,351.15 L148.00,351.10 L148.25,351.05 L148.50,351.00 L148.75,350.95 L149.00,350.90 L149.25,350.79 L149.50,350.68 L149.75,350.56 L150.00,350.45 L150.25,350.34 L150.50,344.07 L150.75,337.40 L151.00,337.40 L151.25,337.40 L151.50,344.07 L151.75,350.41 L152.00,350.55 L152.25,350.69 L152.50,350.82 L152.75,350.96 L153.00,351.10 L153.25,351.08 L153.50,351.07 L153.75,351.05 L154.00,351.03 L154.25,351.02 L154.50,351.00 L154.75,350.98 L155.00,350.97 L155.25,350.95 L155.50,350.93 L155.75,350.92 L156.00,350.90 L156.25,350.78 L156.50,350.66 L156.75,350.54 L157.00,350.42 L157.25,350.30 L157.50,350.18 L157.75,350.06 L158.00,349.94 L158.25,349.82 L158.50,349.70 L158.75,349.70 L159.00,349.70 L159.25,346.74 L159.50,330.70 L159.75,322.60 L160.00,322.60 L160.25,322.60 L160.50,330.70 L160.75,346.74 L161.00,349.70 L161.25,349.70 L161.50,349.70 L161.75,349.88 L162.00,350.05 L162.25,350.23 L162.50,350.40 L162.75,350.57 L163.00,350.75 L163.25,350.93 L163.50,351.10 L163.75,351.12 L164.00,351.14 L164.25,351.16 L164.50,351.18 L164.75,351.20 L165.00,351.22 L165.25,351.24 L165.50,351.26 L165.75,351.28 L166.00,351.30 L166.25,351.20 L166.50,351.10 L166.75,351.00 L167.00,350.90 L167.25,350.80 L167.50,350.70 L167.75,350.60 L168.00,350.50 L168.25,350.40 L168.50,350.30 L168.75,350.27 L169.00,350.24 L169.25,350.21 L169.50,350.18 L169.75,343.10 L170.00,330.70 L170.25,330.70 L170.50,330.70 L170.75,336.68 L171.00,349.30 L171.25,352.60 L171.38,353.50 Z M233.88,353.50 L234.00,352.40 L234.25,347.50 L234.50,347.50 L234.75,347.50 L235.00,347.50 L235.25,347.50 L235.50,347.50 L235.75,349.19 L236.00,352.00 L236.25,352.00 L236.50,352.00 L236.75,352.00 L237.00,352.00 L237.25,352.00 L237.50,352.00 L237.75,351.53 L238.00,351.06 L238.25,350.59 L238.50,349.80 L238.75,348.93 L239.00,348.05 L239.25,347.18 L239.50,346.25 L239.75,345.31 L240.00,344.38 L240.25,343.44 L240.50,342.50 L240.75,341.44 L241.00,340.39 L241.25,339.33 L241.50,339.40 L241.75,341.15 L242.00,342.90 L242.25,344.65 L242.50,345.80 L242.75,346.80 L243.00,347.80 L243.25,348.80 L243.50,349.86 L243.75,350.93 L244.00,352.00 L244.25,352.02 L244.50,352.05 L244.75,352.07 L245.00,352.10 L245.25,352.12 L245.50,352.15 L245.75,352.18 L246.00,352.20 L246.25,352.23 L246.50,352.25 L246.75,352.27 L247.00,352.30 L247.25,352.50 L247.50,352.50 L247.75,352.50 L248.00,352.50 L248.25,352.50 L248.50,352.50 L248.75,352.50 L249.00,352.50 L249.25,352.50 L249.50,352.50 L249.62,353.50 Z M251.12,353.50 L251.25,352.50 L251.50,352.50 L251.75,352.50 L252.00,352.50 L252.25,352.50 L252.50,352.50 L252.75,352.50 L253.00,352.50 L253.25,352.50 L253.50,352.50 L253.75,352.50 L253.88,353.50 Z M254.38,353.50 L254.50,352.40 L254.75,352.40 L255.00,352.40 L255.25,352.40 L255.38,353.50 Z M255.62,353.50 L255.75,352.40 L256.00,352.40 L256.25,352.40 L256.50,352.40 L256.75,352.40 L257.00,352.40 L257.25,352.40 L257.50,352.40 L257.75,352.40 L258.00,352.40 L258.25,352.40 L258.50,352.40 L258.75,352.40 L259.00,352.40 L259.25,352.40 L259.50,352.40 L259.75,352.40 L259.88,353.50 Z M260.12,353.50 L260.25,353.45 L260.50,352.73 L260.75,350.40 L261.00,349.30 L261.25,349.30 L261.50,349.30 L261.75,351.58 L262.00,352.60 L262.25,352.60 L262.50,352.60 L262.75,352.60 L263.00,352.60 L263.25,352.60 L263.50,352.60 L263.75,352.60 L264.00,352.28 L264.25,350.00 L264.50,350.00 L264.75,350.00 L265.00,350.30 L265.25,352.30 L265.50,352.30 L265.75,352.30 L266.00,352.30 L266.25,352.30 L266.50,352.30 L266.75,352.30 L267.00,352.30 L267.25,352.30 L267.50,352.30 L267.75,352.30 L267.88,353.50 Z M269.38,353.50 L269.50,352.30 L269.75,352.30 L270.00,352.30 L270.25,352.30 L270.50,352.30 L270.75,352.30 L271.00,352.30 L271.25,352.30 L271.50,352.30 L271.62,353.50 Z M272.12,353.50 L272.25,351.50 L272.50,351.50 L272.75,351.50 L273.00,351.50 L273.25,351.50 L273.50,351.50 L273.75,351.50 L273.88,353.50 Z M274.88,353.50 L275.00,352.40 L275.25,352.40 L275.50,352.40 L275.62,353.50 Z M277.62,353.50 L277.75,352.50 L278.00,352.50 L278.25,352.50 L278.50,352.50 L278.75,352.50 L279.00,352.50 L279.25,352.50 L279.50,352.50 L279.75,352.50 L280.00,352.50 L280.25,352.50 L280.50,352.50 L280.62,353.50 Z M281.62,353.50 L281.75,352.60 L282.00,352.60 L282.25,352.60 L282.50,352.60 L282.75,352.60 L283.00,352.60 L283.25,352.60 L283.50,352.60 L283.75,352.60 L284.00,352.60 L284.25,352.60 L284.50,352.60 L284.75,352.60 L284.88,353.50 Z M285.38,353.50 L285.50,352.30 L285.75,352.30 L286.00,352.30 L286.25,352.30 L286.50,352.30 L286.75,351.76 L287.00,348.90 L287.25,348.90 L287.50,348.90 L287.75,348.90 L288.00,351.29 L288.25,352.30 L288.50,352.30 L288.75,352.30 L289.00,352.30 L289.25,352.30 L289.50,352.30 L289.75,352.30 L289.88,353.50 Z M291.88,353.50 L292.00,352.50 L292.25,352.50 L292.50,352.50 L292.75,352.50 L293.00,352.50 L293.25,352.50 L293.50,352.50 L293.75,351.90 L294.00,351.90 L294.25,351.90 L294.38,353.50 Z M295.88,353.50 L296.00,352.60 L296.25,352.60 L296.50,352.60 L296.75,352.60 L297.00,352.60 L297.25,352.60 L297.50,352.60 L297.75,352.60 L298.00,352.60 L298.25,352.60 L298.38,353.50 Z M300.38,353.50 L300.50,351.50 L300.75,351.50 L301.00,351.50 L301.25,351.50 L301.38,353.50 Z M302.88,353.50 L303.00,352.30 L303.25,352.30 L303.50,352.30 L303.75,352.30 L304.00,352.30 L304.25,352.30 L304.50,352.30 L304.75,351.83 L305.00,349.10 L305.25,346.10 L305.50,344.73 L305.75,343.77 L306.00,343.75 L306.25,345.13 L306.50,346.50 L306.75,347.57 L307.00,348.64 L307.25,349.46 L307.50,349.25 L307.75,349.04 L308.00,349.29 L308.25,349.64 L308.50,350.00 L308.75,349.50 L309.00,349.00 L309.25,348.50 L309.50,348.00 L309.75,348.12 L310.00,348.25 L310.25,348.38 L310.50,348.50 L310.75,348.38 L311.00,348.25 L311.25,348.12 L311.50,348.00 L311.75,348.75 L312.00,349.50 L312.25,350.25 L312.50,351.00 L312.75,351.12 L313.00,351.25 L313.25,351.38 L313.50,351.50 L313.75,351.50 L314.00,351.75 L314.25,351.88 L314.50,352.00 L314.75,352.60 L315.00,352.60 L315.25,352.60 L315.50,352.60 L315.75,352.60 L316.00,352.60 L316.25,352.60 L316.50,352.60 L316.75,352.60 L317.00,352.60 L317.25,352.60 L317.38,353.50 Z M317.62,353.50 L317.75,353.46 L318.00,353.18 L318.25,352.43 L318.50,351.00 L318.75,351.00 L319.00,351.00 L319.25,351.00 L319.50,351.00 L319.75,352.43 L320.00,352.60 L320.25,352.60 L320.50,352.60 L320.75,352.60 L321.00,352.60 L321.25,352.60 L321.50,352.60 L321.75,352.60 L322.00,352.60 L322.25,352.10 L322.50,352.10 L322.75,352.10 L323.00,352.10 L323.25,352.10 L323.38,353.50 Z M323.88,353.50 L324.00,352.50 L324.25,352.50 L324.50,352.50 L324.62,353.50 Z M325.38,353.50 L325.50,352.10 L325.75,352.10 L326.00,352.10 L326.25,352.10 L326.50,352.10 L326.75,352.10 L327.00,352.10 L327.25,352.10 L327.50,352.10 L327.75,352.10 L328.00,352.10 L328.25,352.10 L328.50,352.10 L328.62,353.50 Z M329.38,353.50 L329.50,351.90 L329.75,351.90 L330.00,351.90 L330.25,351.90 L330.50,351.90 L330.75,351.90 L331.00,351.90 L331.25,351.90 L331.50,351.90 L331.75,351.90 L332.00,351.90 L332.25,351.90 L332.50,351.90 L332.62,353.50 Z M334.12,353.50 L334.25,352.60 L334.50,352.60 L334.75,352.60 L335.00,352.60 L335.25,352.30 L335.50,352.30 L335.75,352.30 L336.00,352.30 L336.25,352.30 L336.50,352.30 L336.75,352.30 L336.88,353.50 Z M337.38,353.50 L337.50,351.50 L337.75,351.50 L338.00,351.50 L338.25,351.50 L338.50,351.50 L338.75,351.50 L339.00,351.50 L339.12,353.50 Z M339.62,353.50 L339.75,352.60 L340.00,352.60 L340.25,352.60 L340.50,352.60 L340.75,352.60 L341.00,352.60 L341.25,352.60 L341.50,352.60 L341.75,352.60 L342.00,352.60 L342.25,352.60 L342.50,352.60 L342.75,352.30 L343.00,352.30 L343.25,352.30 L343.50,352.30 L343.75,352.30 L344.00,352.30 L344.25,352.30 L344.50,352.30 L344.75,352.30 L345.00,352.30 L345.25,352.30 L345.38,353.50 Z M346.12,353.50 L346.25,351.90 L346.50,351.90 L346.75,351.90 L347.00,351.90 L347.25,351.90 L347.50,351.90 L347.75,351.90 L347.88,353.50 Z M348.88,353.50 L349.00,352.10 L349.25,352.10 L349.50,352.10 L349.75,352.10 L350.00,352.10 L350.25,352.10 L350.38,353.50 Z M352.38,353.50 L352.50,352.60 L352.75,352.60 L353.00,352.60 L353.25,352.60 L353.50,352.60 L353.75,352.60 L353.88,353.50 Z M354.38,353.50 L354.50,352.60 L354.75,352.60 L355.00,352.60 L355.25,352.60 L355.50,352.60 L355.75,352.60 L356.00,352.60 L356.25,352.60 L356.50,352.60 L356.62,353.50 Z M357.38,353.50 L357.50,352.30 L357.75,352.30 L358.00,352.30 L358.12,353.50 Z M358.62,353.50 L358.75,352.60 L359.00,352.60 L359.25,352.60 L359.50,352.60 L359.75,352.60 L360.00,352.60 L360.25,352.60 L360.50,352.60 L360.75,352.60 L361.00,352.60 L361.25,352.60 L361.50,352.60 L361.75,352.60 L361.88,353.50 Z M363.38,353.50 L363.50,351.90 L363.75,351.90 L364.00,351.90 L364.25,351.90 L364.50,351.90 L364.75,351.90 L365.00,351.90 L365.12,353.50 Z M365.62,353.50 L365.75,352.50 L366.00,352.50 L366.25,352.50 L366.50,352.50 L366.75,352.50 L367.00,352.50 L367.25,352.50 L367.50,352.50 L367.75,352.50 L367.88,353.50 Z M368.88,353.50 L369.00,351.90 L369.25,351.90 L369.50,351.90 L369.75,351.90 L370.00,351.90 L370.25,351.90 L370.50,351.90 L370.75,351.90 L371.00,351.90 L371.25,351.90 L371.50,352.40 L371.75,352.40 L372.00,352.40 L372.25,352.40 L372.50,352.40 L372.75,352.40 L373.00,352.40 L373.25,352.40 L373.38,353.50 Z " fill="#d00c35" stroke="#86122f" stroke-width="0.65" stroke-linejoin="round"/>
<line x1="173.5" y1="351.9" x2="232.3" y2="351.9" stroke="#e6c7a6" stroke-width="1.15" stroke-dasharray="2.9,2.2"/>
<path d="M72.38,393.60 L72.50,392.60 L72.75,392.60 L73.00,392.60 L73.25,392.60 L73.50,392.60 L73.75,392.60 L74.00,392.60 L74.25,392.60 L74.50,392.60 L74.75,392.60 L75.00,392.60 L75.25,392.60 L75.50,392.60 L75.62,393.60 Z M77.12,393.60 L77.25,392.00 L77.50,392.00 L77.75,392.00 L77.88,393.60 Z M78.62,393.60 L78.75,392.60 L79.00,392.60 L79.25,392.60 L79.50,392.60 L79.75,392.60 L80.00,392.60 L80.25,392.60 L80.50,392.60 L80.75,392.60 L81.00,392.60 L81.25,392.60 L81.50,392.50 L81.75,392.50 L82.00,392.50 L82.25,392.50 L82.50,392.50 L82.75,392.50 L83.00,392.50 L83.25,392.50 L83.50,392.50 L83.75,392.50 L83.88,393.60 Z M84.38,393.60 L84.50,392.40 L84.75,392.40 L85.00,392.40 L85.25,392.40 L85.50,392.40 L85.75,392.40 L85.88,393.60 Z M86.38,393.60 L86.50,391.60 L86.75,391.60 L87.00,391.60 L87.25,391.60 L87.50,391.60 L87.75,391.60 L87.88,393.60 Z M88.62,393.60 L88.75,392.20 L89.00,392.20 L89.25,392.20 L89.50,392.20 L89.75,392.20 L90.00,392.20 L90.25,392.20 L90.50,392.60 L90.75,392.60 L91.00,392.60 L91.25,392.60 L91.50,392.60 L91.75,392.60 L92.00,392.60 L92.25,392.60 L92.50,392.60 L92.75,392.60 L92.88,393.60 Z M93.12,393.60 L93.25,392.00 L93.50,392.00 L93.75,392.00 L94.00,392.00 L94.25,392.00 L94.50,392.00 L94.75,392.00 L95.00,392.00 L95.25,392.00 L95.50,392.00 L95.62,393.60 Z M97.12,393.60 L97.25,392.40 L97.50,392.40 L97.75,392.40 L97.88,393.60 Z M98.12,393.60 L98.25,392.70 L98.50,392.70 L98.75,392.70 L98.88,393.60 Z M99.38,393.60 L99.50,392.40 L99.75,392.40 L100.00,392.40 L100.25,392.40 L100.50,392.40 L100.75,392.40 L101.00,392.40 L101.25,392.40 L101.50,392.40 L101.75,392.40 L102.00,392.40 L102.25,392.40 L102.38,393.60 Z M102.62,393.60 L102.75,392.60 L103.00,392.60 L103.25,392.60 L103.50,392.00 L103.75,392.00 L104.00,392.00 L104.25,392.00 L104.50,392.00 L104.75,392.00 L105.00,392.00 L105.25,392.00 L105.50,392.00 L105.62,393.60 Z M107.62,393.60 L107.75,392.70 L108.00,392.70 L108.25,392.70 L108.50,392.70 L108.75,392.70 L109.00,392.70 L109.25,392.70 L109.50,392.70 L109.75,392.60 L110.00,392.60 L110.25,392.60 L110.50,392.60 L110.75,392.60 L110.88,393.60 Z M111.88,393.60 L112.00,392.70 L112.25,392.70 L112.50,392.70 L112.75,392.70 L113.00,392.70 L113.12,393.60 Z M115.12,393.60 L115.25,391.60 L115.50,391.60 L115.75,391.60 L116.00,391.60 L116.25,391.60 L116.50,391.60 L116.75,391.60 L117.00,393.54 L117.25,393.12 L117.50,391.98 L117.75,391.40 L118.00,391.40 L118.25,391.40 L118.50,391.98 L118.75,392.40 L119.00,392.40 L119.25,392.40 L119.50,392.40 L119.75,392.40 L120.00,392.40 L120.25,392.40 L120.38,393.60 Z M121.38,393.60 L121.50,392.70 L121.75,392.70 L122.00,392.70 L122.25,392.70 L122.50,392.70 L122.75,392.70 L123.00,392.70 L123.25,392.70 L123.50,392.12 L123.75,391.60 L124.00,391.60 L124.25,391.60 L124.50,392.12 L124.75,392.70 L125.00,392.70 L125.25,392.70 L125.50,392.70 L125.75,392.70 L126.00,392.70 L126.25,392.70 L126.38,393.60 Z M127.88,393.60 L128.00,392.40 L128.25,392.40 L128.50,392.40 L128.75,392.40 L129.00,392.40 L129.25,392.40 L129.50,392.40 L129.75,392.40 L130.00,392.40 L130.25,392.40 L130.50,391.83 L130.75,391.20 L131.00,391.20 L131.25,391.20 L131.50,391.60 L131.75,391.60 L132.00,391.60 L132.25,391.60 L132.50,391.60 L132.75,391.60 L133.00,391.60 L133.12,393.60 Z M133.88,393.60 L134.00,392.70 L134.25,392.70 L134.50,392.70 L134.75,392.70 L135.00,392.70 L135.25,392.70 L135.50,392.70 L135.75,392.70 L136.00,392.70 L136.25,392.60 L136.50,392.12 L136.75,391.60 L137.00,391.60 L137.25,391.60 L137.50,392.12 L137.75,392.60 L138.00,392.60 L138.25,392.60 L138.50,392.60 L138.75,392.60 L139.00,392.60 L139.25,392.60 L139.50,392.60 L139.62,393.60 Z M141.38,393.60 L141.50,393.60 L141.75,392.60 L142.00,391.60 L142.25,391.57 L142.50,390.65 L142.75,385.10 L143.00,385.10 L143.25,385.10 L143.50,385.83 L143.75,391.37 L144.00,391.33 L144.25,391.30 L144.50,391.27 L144.75,391.23 L145.00,391.20 L145.25,391.22 L145.50,391.23 L145.75,391.25 L146.00,391.27 L146.25,391.28 L146.50,391.30 L146.75,391.32 L147.00,391.33 L147.25,391.35 L147.50,391.37 L147.75,391.38 L148.00,391.40 L148.25,391.33 L148.50,391.25 L148.75,391.18 L149.00,391.10 L149.25,391.03 L149.50,390.95 L149.75,390.88 L150.00,390.80 L150.25,390.78 L150.50,390.60 L150.75,381.57 L151.00,377.30 L151.25,377.30 L151.50,377.30 L151.75,386.17 L152.00,390.64 L152.25,390.62 L152.50,390.60 L152.75,390.66 L153.00,390.72 L153.25,390.78 L153.50,390.84 L153.75,390.90 L154.00,390.96 L154.25,391.02 L154.50,391.08 L154.75,391.14 L155.00,391.20 L155.25,391.13 L155.50,391.07 L155.75,391.00 L156.00,390.93 L156.25,390.87 L156.50,390.80 L156.75,390.73 L157.00,390.67 L157.25,390.60 L157.50,390.53 L157.75,390.47 L158.00,390.40 L158.25,390.39 L158.50,390.37 L158.75,390.36 L159.00,390.34 L159.25,387.17 L159.50,371.91 L159.75,364.20 L160.00,364.20 L160.25,364.20 L160.50,371.91 L160.75,387.17 L161.00,390.23 L161.25,390.21 L161.50,390.20 L161.75,390.28 L162.00,390.36 L162.25,390.44 L162.50,390.52 L162.75,390.60 L163.00,390.68 L163.25,390.76 L163.50,390.84 L163.75,390.92 L164.00,391.00 L164.25,390.98 L164.50,390.97 L164.75,390.95 L165.00,390.93 L165.25,390.92 L165.50,390.90 L165.75,390.88 L166.00,390.87 L166.25,390.85 L166.50,390.83 L166.75,390.82 L167.00,390.80 L167.25,390.53 L167.50,390.25 L167.75,389.98 L168.00,389.70 L168.25,389.43 L168.50,389.15 L168.75,388.88 L169.00,388.60 L169.25,388.66 L169.50,388.73 L169.75,388.79 L170.00,375.38 L170.25,362.50 L170.50,362.50 L170.75,362.50 L171.00,375.38 L171.25,389.67 L171.38,393.60 Z M233.88,393.60 L234.00,391.77 L234.25,388.08 L234.50,387.98 L234.75,387.89 L235.00,387.79 L235.25,387.70 L235.50,387.60 L235.75,388.07 L236.00,388.54 L236.25,389.01 L236.50,388.88 L236.75,388.60 L237.00,388.32 L237.25,388.06 L237.50,387.87 L237.75,387.68 L238.00,387.48 L238.25,387.29 L238.50,387.10 L238.75,386.73 L239.00,386.35 L239.25,385.98 L239.50,385.60 L239.75,385.23 L240.00,384.85 L240.25,384.48 L240.50,384.10 L240.75,383.64 L241.00,383.17 L241.25,382.94 L241.50,383.66 L241.75,384.38 L242.00,385.10 L242.25,385.83 L242.50,386.56 L242.75,387.29 L243.00,388.02 L243.25,388.66 L243.50,388.95 L243.75,389.23 L244.00,389.52 L244.25,389.81 L244.50,390.10 L244.75,390.18 L245.00,390.27 L245.25,390.35 L245.50,390.43 L245.75,390.52 L246.00,390.60 L246.25,390.57 L246.50,390.54 L246.75,390.52 L247.00,390.49 L247.25,390.46 L247.50,390.43 L247.75,390.41 L248.00,392.60 L248.25,392.60 L248.50,392.60 L248.75,392.60 L249.00,392.60 L249.25,392.60 L249.38,393.60 Z M249.88,393.60 L250.00,392.60 L250.25,392.60 L250.50,392.60 L250.75,392.60 L251.00,392.60 L251.25,392.60 L251.50,391.02 L251.75,390.10 L252.00,390.10 L252.25,390.10 L252.50,391.02 L252.75,392.50 L253.00,392.50 L253.25,392.50 L253.50,392.50 L253.62,393.60 Z M253.88,393.60 L254.00,393.53 L254.25,392.50 L254.50,391.76 L254.75,391.10 L255.00,391.10 L255.25,391.10 L255.50,391.76 L255.75,393.05 L256.00,393.53 L256.12,393.60 Z M256.62,393.60 L256.75,392.00 L257.00,392.00 L257.25,392.00 L257.50,392.00 L257.75,392.00 L258.00,392.00 L258.25,392.94 L258.50,391.39 L258.75,390.60 L259.00,390.60 L259.25,390.60 L259.50,391.39 L259.75,392.94 L260.00,393.52 L260.12,393.60 Z M261.62,393.60 L261.75,392.40 L262.00,392.40 L262.25,392.40 L262.50,391.76 L262.75,391.10 L263.00,391.10 L263.25,391.10 L263.50,391.76 L263.75,392.50 L264.00,392.50 L264.12,393.60 Z M264.62,393.60 L264.75,393.59 L265.00,393.32 L265.25,392.32 L265.50,390.08 L265.75,389.60 L266.00,389.60 L266.25,389.60 L266.50,390.08 L266.75,392.32 L267.00,393.32 L267.25,393.59 L267.38,393.60 Z M267.62,393.60 L267.75,392.60 L268.00,392.60 L268.25,392.60 L268.50,392.60 L268.75,392.70 L269.00,392.70 L269.25,392.70 L269.50,391.76 L269.75,391.10 L270.00,391.10 L270.25,391.10 L270.50,391.76 L270.75,392.70 L271.00,392.70 L271.25,392.70 L271.50,392.70 L271.62,393.60 Z M272.12,393.60 L272.25,392.40 L272.50,392.40 L272.75,392.40 L273.00,392.40 L273.25,392.40 L273.50,392.40 L273.75,392.40 L274.00,392.40 L274.25,393.16 L274.50,391.60 L274.75,391.60 L275.00,391.60 L275.25,391.60 L275.50,391.60 L275.75,391.60 L276.00,391.60 L276.25,391.60 L276.50,391.60 L276.75,391.60 L277.00,391.60 L277.25,391.60 L277.38,393.60 Z M278.12,393.60 L278.25,392.70 L278.50,392.70 L278.75,392.70 L279.00,392.70 L279.25,392.70 L279.50,392.70 L279.75,392.70 L280.00,392.70 L280.25,392.70 L280.50,392.70 L280.75,392.70 L281.00,392.70 L281.25,392.70 L281.50,392.60 L281.75,392.60 L282.00,392.60 L282.25,392.60 L282.50,392.12 L282.75,391.60 L283.00,391.60 L283.25,391.60 L283.50,392.12 L283.75,392.60 L284.00,392.60 L284.25,392.60 L284.50,392.60 L284.62,393.60 Z M285.62,393.60 L285.75,392.50 L286.00,392.50 L286.25,392.50 L286.38,393.60 Z M286.88,393.60 L287.00,393.52 L287.25,392.94 L287.50,391.39 L287.75,390.60 L288.00,390.60 L288.25,390.60 L288.50,391.39 L288.75,392.20 L289.00,392.20 L289.25,392.20 L289.50,392.20 L289.75,392.20 L290.00,392.20 L290.25,392.20 L290.50,391.60 L290.75,391.60 L291.00,391.60 L291.25,391.60 L291.50,391.60 L291.75,391.60 L292.00,391.60 L292.25,391.60 L292.50,391.60 L292.75,391.60 L293.00,391.60 L293.25,391.60 L293.50,391.60 L293.75,391.60 L294.00,393.55 L294.12,393.60 Z M294.38,393.60 L294.50,392.40 L294.75,392.40 L295.00,392.40 L295.12,393.60 Z M296.12,393.60 L296.25,392.60 L296.50,392.60 L296.75,392.60 L297.00,392.60 L297.25,392.60 L297.50,391.76 L297.75,391.10 L298.00,391.10 L298.25,391.10 L298.50,391.76 L298.75,392.60 L299.00,392.60 L299.25,392.60 L299.38,393.60 Z M300.38,393.60 L300.50,392.70 L300.75,392.70 L301.00,392.70 L301.25,392.70 L301.50,392.12 L301.75,391.60 L302.00,391.60 L302.25,391.60 L302.50,392.12 L302.75,392.70 L303.00,392.70 L303.25,392.70 L303.38,393.60 Z M304.12,393.60 L304.25,391.60 L304.50,391.60 L304.75,391.60 L305.00,391.60 L305.25,390.77 L305.50,386.10 L305.75,386.10 L306.00,386.10 L306.25,386.10 L306.50,390.00 L306.75,392.70 L307.00,391.10 L307.25,391.10 L307.50,391.10 L307.75,391.10 L308.00,391.10 L308.25,391.10 L308.50,391.10 L308.75,390.60 L309.00,390.10 L309.25,389.60 L309.50,389.10 L309.75,388.94 L310.00,388.79 L310.25,388.63 L310.50,388.77 L310.75,388.98 L311.00,389.18 L311.25,389.39 L311.50,389.60 L311.75,390.10 L312.00,390.60 L312.25,391.10 L312.50,391.60 L312.75,392.00 L313.00,392.00 L313.25,392.00 L313.50,392.00 L313.75,392.00 L314.00,392.00 L314.25,392.00 L314.50,392.00 L314.62,393.60 Z M314.88,393.60 L315.00,392.00 L315.25,392.00 L315.50,392.00 L315.75,392.00 L316.00,392.00 L316.25,392.00 L316.50,392.00 L316.75,392.00 L317.00,392.00 L317.25,392.00 L317.50,392.00 L317.75,392.00 L318.00,392.00 L318.25,392.00 L318.50,390.60 L318.75,390.60 L319.00,390.60 L319.25,390.60 L319.50,390.60 L319.75,392.32 L320.00,393.22 L320.25,393.55 L320.50,392.50 L320.75,392.50 L321.00,392.50 L321.25,392.50 L321.50,392.50 L321.75,392.50 L322.00,392.50 L322.12,393.60 Z M323.62,393.60 L323.75,392.40 L324.00,392.40 L324.25,392.40 L324.50,392.40 L324.75,392.40 L325.00,392.40 L325.25,392.40 L325.50,392.40 L325.75,392.40 L326.00,392.40 L326.25,392.40 L326.50,392.40 L326.75,392.40 L326.88,393.60 Z M327.62,393.60 L327.75,392.00 L328.00,392.00 L328.25,392.00 L328.38,393.60 Z M329.12,393.60 L329.25,392.40 L329.50,392.40 L329.75,392.40 L330.00,392.40 L330.25,392.40 L330.50,392.40 L330.75,392.40 L331.00,392.40 L331.25,392.40 L331.50,392.40 L331.75,392.40 L332.00,392.40 L332.12,393.60 Z M333.12,393.60 L333.25,391.60 L333.50,391.60 L333.75,391.60 L334.00,391.60 L334.25,391.60 L334.50,391.60 L334.75,391.60 L335.00,391.60 L335.25,391.60 L335.50,392.40 L335.75,392.40 L336.00,392.40 L336.25,392.40 L336.50,392.40 L336.75,392.40 L337.00,392.40 L337.25,392.40 L337.38,393.60 Z M337.88,393.60 L338.00,392.60 L338.25,392.60 L338.50,392.60 L338.75,392.60 L339.00,392.60 L339.25,392.60 L339.50,392.60 L339.75,392.60 L340.00,392.60 L340.25,392.60 L340.50,392.60 L340.75,392.60 L341.00,392.60 L341.25,392.60 L341.38,393.60 Z M342.88,393.60 L343.00,392.60 L343.25,392.60 L343.50,392.60 L343.62,393.60 Z M345.12,393.60 L345.25,391.60 L345.50,391.60 L345.75,391.60 L346.00,391.60 L346.25,391.60 L346.50,391.60 L346.75,391.60 L347.00,391.60 L347.25,391.60 L347.50,392.20 L347.75,392.20 L348.00,392.20 L348.25,392.20 L348.38,393.60 Z M349.88,393.60 L350.00,391.60 L350.25,391.60 L350.50,391.60 L350.75,391.60 L351.00,391.60 L351.25,391.60 L351.50,391.60 L351.75,391.60 L351.88,393.60 Z M353.88,393.60 L354.00,392.70 L354.25,392.70 L354.50,392.12 L354.75,391.60 L355.00,391.60 L355.25,391.60 L355.50,392.00 L355.75,392.00 L356.00,392.00 L356.12,393.60 Z M356.38,393.60 L356.50,392.20 L356.75,392.20 L357.00,392.20 L357.25,392.20 L357.50,392.20 L357.75,392.20 L358.00,392.20 L358.25,392.20 L358.50,392.20 L358.75,392.00 L359.00,392.00 L359.25,392.00 L359.50,392.00 L359.75,392.00 L360.00,392.00 L360.25,392.00 L360.50,392.00 L360.75,392.00 L361.00,392.00 L361.25,392.00 L361.50,391.76 L361.75,391.10 L362.00,391.10 L362.25,391.10 L362.50,391.76 L362.75,392.60 L363.00,392.60 L363.25,392.60 L363.50,392.60 L363.75,392.60 L364.00,392.60 L364.25,392.60 L364.50,392.60 L364.75,392.60 L365.00,392.60 L365.25,392.60 L365.38,393.60 Z M365.62,393.60 L365.75,392.60 L366.00,392.60 L366.25,392.60 L366.50,392.60 L366.75,392.60 L367.00,392.60 L367.25,392.60 L367.50,392.60 L367.62,393.60 Z M368.38,393.60 L368.50,392.70 L368.75,392.70 L369.00,392.70 L369.25,392.70 L369.50,391.76 L369.75,391.10 L370.00,391.10 L370.25,391.10 L370.50,391.76 L370.75,392.70 L371.00,392.70 L371.12,393.60 Z M371.38,393.60 L371.50,392.40 L371.75,392.40 L372.00,392.40 L372.25,392.40 L372.38,393.60 Z M373.88,393.60 L374.00,392.60 L374.25,392.60 L374.50,392.60 L374.75,392.60 L374.88,393.60 Z " fill="#d00c35" stroke="#86122f" stroke-width="0.65" stroke-linejoin="round"/>
<line x1="173.5" y1="392.0" x2="232.3" y2="392.0" stroke="#e6c7a6" stroke-width="1.15" stroke-dasharray="2.9,2.2"/>
<line x1="393.3" y1="234.8" x2="393.3" y2="396" stroke="#333" stroke-width="1"/>
<text transform="translate(398.9,315.2) rotate(90)" font-size="9.3" text-anchor="middle" fill="#333" textLength="22.2" lengthAdjust="spacingAndGlyphs">ATAC</text>
<text x="134.4" y="252.7" font-size="6" text-anchor="middle" font-weight="normal" fill="#333" stroke="#333" stroke-width="0.22" >HS5</text>
<text x="145.3" y="239.1" font-size="6" text-anchor="middle" font-weight="normal" fill="#333" stroke="#333" stroke-width="0.22" >HS4</text>
<text x="159.4" y="223.6" font-size="6" text-anchor="middle" font-weight="normal" fill="#333" stroke="#333" stroke-width="0.22" >HS3</text>
<text x="174.8" y="239.1" font-size="6" text-anchor="middle" font-weight="normal" fill="#333" stroke="#333" stroke-width="0.22" >HS2</text>
<text x="191" y="242" font-size="6" text-anchor="middle" font-weight="normal" fill="#333" stroke="#333" stroke-width="0.22" >HS1</text>
<line x1="137.5" y1="254.5" x2="142.5" y2="257.8" stroke="#333" stroke-width="0.7"/>
<line x1="148.5" y1="240.8" x2="151" y2="244.8" stroke="#333" stroke-width="0.7"/>
<line x1="159.8" y1="226" x2="159.8" y2="230.6" stroke="#333" stroke-width="0.7"/>
<line x1="174.2" y1="241.2" x2="171" y2="245.2" stroke="#333" stroke-width="0.7"/>
<line x1="183.2" y1="247.5" x2="189" y2="243.6" stroke="#333" stroke-width="0.7"/>
<text x="64.1" y="460.5" font-size="8.6" text-anchor="end" font-weight="normal" fill="#333" textLength="17.6" lengthAdjust="spacingAndGlyphs" stroke="#333" stroke-width="0.22" >WT1</text>
<text x="64.1" y="504.1" font-size="8.6" text-anchor="end" font-weight="normal" fill="#333" textLength="17.6" lengthAdjust="spacingAndGlyphs" stroke="#333" stroke-width="0.22" >WT2</text>
<text x="64.1" y="547.9" font-size="8.6" text-anchor="end" font-weight="normal" fill="#333" textLength="38.1" lengthAdjust="spacingAndGlyphs" stroke="#333" stroke-width="0.22" >Del2Rec-1</text>
<text x="64.1" y="591.6" font-size="8.6" text-anchor="end" font-weight="normal" fill="#333" textLength="38.1" lengthAdjust="spacingAndGlyphs" stroke="#333" stroke-width="0.22" >Del2Rec-2</text>
<path d="M72.38,476.60 L72.50,475.70 L72.62,476.60 Z M88.62,476.60 L88.75,476.00 L88.88,476.60 Z M104.88,476.60 L105.00,475.50 L105.25,475.50 L105.38,476.60 Z M115.38,476.60 L115.50,475.80 L115.75,475.80 L115.88,476.60 Z M131.88,476.60 L132.00,475.50 L132.25,475.50 L132.38,476.60 Z M139.38,476.60 L139.50,475.70 L139.75,475.70 L140.00,475.60 L140.25,475.60 L140.50,475.60 L140.75,475.60 L140.88,476.60 Z M141.12,476.60 L141.25,475.00 L141.50,475.00 L141.75,475.00 L142.00,475.00 L142.25,475.00 L142.50,475.00 L142.75,475.40 L143.00,474.35 L143.25,474.20 L143.50,474.20 L143.75,474.20 L144.00,474.20 L144.25,474.20 L144.50,474.83 L144.75,475.72 L145.00,475.00 L145.25,475.00 L145.50,475.00 L145.75,475.00 L145.88,476.60 Z M146.62,476.60 L146.75,474.60 L147.00,474.60 L147.25,474.60 L147.50,474.60 L147.75,474.60 L148.00,474.60 L148.25,474.60 L148.50,474.60 L148.75,474.60 L149.00,474.60 L149.25,475.12 L149.50,474.60 L149.75,474.60 L150.00,474.60 L150.25,474.60 L150.50,474.60 L150.75,475.12 L151.00,475.20 L151.25,475.20 L151.50,475.20 L151.75,475.20 L151.88,476.60 Z M153.38,476.60 L153.50,475.60 L153.75,475.60 L154.00,475.60 L154.25,475.60 L154.50,475.60 L154.75,475.60 L155.00,475.60 L155.12,476.60 Z M156.12,476.60 L156.25,474.60 L156.50,474.60 L156.75,474.60 L157.00,474.60 L157.25,474.60 L157.50,474.60 L157.75,474.60 L158.00,474.60 L158.25,474.60 L158.50,473.72 L158.75,472.70 L159.00,472.70 L159.25,472.70 L159.50,472.70 L159.75,472.70 L160.00,472.70 L160.25,472.70 L160.50,472.70 L160.75,473.98 L161.00,475.00 L161.25,475.75 L161.50,476.21 L161.75,476.46 L162.00,475.80 L162.25,475.80 L162.50,475.80 L162.75,475.80 L163.00,475.05 L163.25,474.20 L163.50,474.20 L163.75,474.20 L164.00,474.20 L164.25,474.20 L164.50,474.58 L164.75,475.20 L165.00,475.20 L165.25,475.20 L165.50,476.59 L165.62,476.60 Z M166.38,476.60 L166.50,475.20 L166.75,475.20 L167.00,475.20 L167.25,475.20 L167.50,475.20 L167.75,475.20 L168.00,475.20 L168.25,475.20 L168.50,475.20 L168.75,475.20 L169.00,475.36 L169.25,474.18 L169.50,473.70 L169.75,473.70 L170.00,473.70 L170.25,473.70 L170.50,473.70 L170.75,474.18 L171.00,475.20 L171.25,475.20 L171.50,475.20 L171.75,474.60 L172.00,474.30 L172.25,474.30 L172.50,474.30 L172.75,474.30 L173.00,475.41 L173.25,475.80 L173.50,475.80 L173.75,475.80 L174.00,475.80 L174.25,475.20 L174.50,475.20 L174.75,475.20 L175.00,475.20 L175.25,475.20 L175.38,476.60 Z M177.88,476.60 L178.00,475.20 L178.25,475.20 L178.50,475.20 L178.62,476.60 Z M179.12,476.60 L179.25,476.59 L179.50,476.54 L179.75,475.80 L180.00,475.80 L180.25,475.38 L180.50,474.45 L180.75,473.13 L181.00,472.30 L181.25,472.30 L181.50,472.30 L181.75,472.30 L182.00,472.30 L182.25,472.30 L182.50,472.30 L182.75,472.48 L183.00,473.97 L183.25,475.05 L183.50,475.60 L183.75,475.60 L184.00,475.60 L184.25,475.60 L184.50,475.60 L184.62,476.60 Z M185.12,476.60 L185.25,475.40 L185.50,475.40 L185.75,475.40 L186.00,475.40 L186.25,475.40 L186.50,475.40 L186.75,475.40 L187.00,475.40 L187.25,475.40 L187.50,475.40 L187.75,475.40 L188.00,475.40 L188.25,475.40 L188.38,476.60 Z M188.62,476.60 L188.75,475.60 L189.00,475.60 L189.25,475.60 L189.50,475.60 L189.75,475.60 L190.00,475.60 L190.25,475.60 L190.38,476.60 Z M191.12,476.60 L191.25,475.20 L191.50,475.20 L191.75,475.20 L192.00,475.20 L192.25,475.20 L192.50,475.20 L192.75,475.20 L192.88,476.60 Z M193.88,476.60 L194.00,475.40 L194.25,475.40 L194.50,475.40 L194.75,475.40 L195.00,475.40 L195.25,475.40 L195.38,476.60 Z M196.38,476.60 L196.50,475.40 L196.75,475.40 L197.00,475.40 L197.25,475.40 L197.50,475.40 L197.75,475.40 L197.88,476.60 Z M198.38,476.60 L198.50,475.60 L198.75,475.60 L199.00,475.60 L199.12,476.60 Z M199.38,476.60 L199.50,474.60 L199.75,474.60 L200.00,474.60 L200.25,474.60 L200.50,474.60 L200.75,474.60 L201.00,474.60 L201.25,474.60 L201.50,474.60 L201.75,475.70 L202.00,475.70 L202.25,475.70 L202.38,476.60 Z M224.88,476.60 L225.00,476.00 L225.12,476.60 Z M226.62,476.60 L226.75,475.70 L227.00,475.70 L227.25,475.70 L227.50,475.70 L227.75,475.70 L227.88,476.60 Z M231.88,476.60 L232.00,475.40 L232.25,475.40 L232.50,475.40 L232.75,475.40 L232.88,476.60 Z M233.88,476.60 L234.00,475.00 L234.25,475.00 L234.50,475.00 L234.75,475.00 L235.00,475.00 L235.25,475.00 L235.38,476.60 Z M236.12,476.60 L236.25,475.60 L236.50,475.60 L236.75,475.60 L237.00,475.60 L237.25,475.60 L237.50,475.60 L237.75,475.60 L237.88,476.60 Z M238.88,476.60 L239.00,475.00 L239.25,475.00 L239.50,475.00 L239.75,474.60 L240.00,474.60 L240.25,474.60 L240.50,475.12 L240.75,476.16 L241.00,475.60 L241.25,475.60 L241.50,475.60 L241.75,475.60 L242.00,475.60 L242.25,475.60 L242.50,475.60 L242.75,475.60 L243.00,475.60 L243.25,475.60 L243.38,476.60 Z M243.62,476.60 L243.75,474.60 L244.00,474.60 L244.25,474.60 L244.38,476.60 Z M244.62,476.60 L244.75,475.80 L245.00,475.80 L245.25,475.80 L245.50,475.80 L245.75,475.80 L245.88,476.60 Z M246.62,476.60 L246.75,475.60 L247.00,475.60 L247.25,475.60 L247.50,475.60 L247.62,476.60 Z M249.12,476.60 L249.25,475.40 L249.50,475.40 L249.75,475.40 L250.00,475.40 L250.25,475.40 L250.50,475.40 L250.75,475.40 L251.00,476.53 L251.25,476.05 L251.50,474.76 L251.75,474.10 L252.00,474.10 L252.25,474.10 L252.50,474.60 L252.75,474.60 L253.00,474.60 L253.25,474.60 L253.50,474.60 L253.75,474.60 L254.00,474.60 L254.25,474.60 L254.38,476.60 Z M255.38,476.60 L255.50,475.00 L255.75,475.00 L256.00,475.00 L256.25,475.00 L256.50,475.00 L256.75,475.00 L257.00,475.00 L257.25,475.00 L257.50,475.00 L257.75,475.00 L257.88,476.60 Z M258.88,476.60 L259.00,475.60 L259.25,475.60 L259.50,475.60 L259.75,475.60 L260.00,475.60 L260.25,475.60 L260.50,475.60 L260.75,475.60 L261.00,475.60 L261.25,475.60 L261.50,474.98 L261.75,474.40 L262.00,474.40 L262.25,474.40 L262.50,474.98 L262.75,475.60 L263.00,475.60 L263.12,476.60 Z M263.88,476.60 L264.00,475.80 L264.25,475.80 L264.50,475.80 L264.75,475.80 L265.00,475.80 L265.25,475.80 L265.38,476.60 Z M265.62,476.60 L265.75,475.00 L266.00,475.00 L266.25,475.00 L266.50,475.00 L266.75,475.20 L267.00,475.20 L267.25,475.20 L267.50,475.20 L267.75,475.20 L268.00,475.20 L268.12,476.60 Z M268.38,476.60 L268.50,475.00 L268.75,475.00 L269.00,475.00 L269.25,475.00 L269.50,475.00 L269.75,475.00 L269.88,476.60 Z M270.62,476.60 L270.75,476.56 L271.00,475.60 L271.25,475.53 L271.50,474.10 L271.75,474.10 L272.00,474.10 L272.25,474.10 L272.50,474.10 L272.75,475.53 L273.00,475.60 L273.25,476.56 L273.38,476.60 Z M274.12,476.60 L274.25,475.40 L274.50,475.40 L274.75,475.40 L275.00,475.40 L275.25,475.40 L275.50,475.40 L275.75,475.40 L276.00,475.20 L276.25,475.20 L276.50,475.20 L276.62,476.60 Z M277.88,476.60 L278.00,476.55 L278.25,475.20 L278.50,475.12 L278.75,474.60 L279.00,474.60 L279.25,474.60 L279.50,475.12 L279.75,474.60 L280.00,474.60 L280.25,474.60 L280.50,474.60 L280.75,474.60 L281.00,474.60 L281.25,474.60 L281.50,474.60 L281.75,474.60 L282.00,474.60 L282.25,475.60 L282.50,475.60 L282.75,475.60 L283.00,475.60 L283.25,475.60 L283.50,475.60 L283.75,475.60 L284.00,475.60 L284.25,475.60 L284.50,475.60 L284.62,476.60 Z M284.88,476.60 L285.00,475.60 L285.25,475.60 L285.50,475.60 L285.75,475.60 L285.88,476.60 Z M286.38,476.60 L286.50,475.40 L286.75,474.69 L287.00,472.98 L287.25,471.16 L287.50,469.35 L287.75,465.32 L288.00,463.35 L288.25,461.38 L288.50,459.42 L288.75,463.95 L289.00,464.47 L289.25,464.92 L289.50,465.44 L289.75,465.88 L290.00,466.32 L290.25,467.04 L290.50,467.46 L290.75,464.02 L291.00,463.45 L291.25,462.60 L291.50,462.03 L291.75,465.34 L292.00,465.42 L292.25,466.25 L292.50,467.09 L292.75,464.92 L293.00,466.04 L293.25,467.16 L293.50,468.28 L293.75,470.26 L294.00,470.99 L294.25,471.73 L294.50,471.72 L294.75,472.59 L295.00,474.09 L295.25,474.30 L295.50,474.20 L295.75,474.10 L296.00,473.35 L296.25,473.22 L296.50,473.09 L296.75,473.12 L297.00,473.00 L297.25,472.87 L297.50,472.94 L297.75,473.30 L298.00,473.66 L298.25,474.60 L298.50,474.60 L298.75,474.45 L299.00,473.70 L299.25,472.96 L299.50,472.57 L299.75,471.89 L300.00,471.21 L300.25,470.52 L300.50,469.46 L300.75,469.71 L301.00,469.95 L301.25,470.47 L301.50,470.71 L301.75,471.32 L302.00,471.54 L302.25,468.94 L302.50,467.09 L302.75,464.86 L303.00,462.95 L303.25,461.04 L303.50,459.12 L303.75,456.10 L304.00,458.12 L304.25,461.16 L304.50,464.19 L304.75,467.32 L305.00,470.32 L305.25,469.93 L305.50,468.76 L305.75,467.60 L306.00,464.91 L306.25,463.58 L306.50,463.88 L306.75,462.69 L307.00,461.51 L307.25,462.30 L307.50,463.71 L307.75,462.35 L308.00,464.10 L308.25,465.84 L308.50,467.59 L308.75,469.34 L309.00,471.09 L309.25,469.30 L309.50,469.38 L309.75,467.96 L310.00,467.26 L310.25,465.94 L310.50,464.62 L310.75,463.58 L311.00,459.95 L311.25,460.01 L311.50,460.07 L311.75,460.12 L312.00,459.68 L312.25,459.74 L312.50,460.60 L312.75,462.35 L313.00,466.94 L313.25,468.29 L313.50,468.26 L313.75,469.88 L314.00,472.34 L314.25,473.28 L314.50,471.78 L314.75,470.96 L315.00,470.14 L315.25,469.31 L315.50,468.71 L315.75,467.90 L316.00,468.19 L316.25,469.50 L316.50,470.81 L316.75,471.35 L317.00,472.89 L317.25,474.44 L317.50,475.40 L317.75,475.40 L318.00,476.00 L318.25,476.00 L318.38,476.60 Z M334.38,476.60 L334.50,476.00 L334.75,476.00 L334.88,476.60 Z M344.88,476.60 L345.00,476.00 L345.12,476.60 Z M352.12,476.60 L352.25,475.80 L352.50,475.80 L352.62,476.60 Z M361.12,476.60 L361.25,476.59 L361.50,476.31 L361.75,475.13 L362.00,472.70 L362.25,472.70 L362.50,472.70 L362.75,472.70 L363.00,474.73 L363.25,476.16 L363.50,476.58 L363.62,476.60 Z M365.62,476.60 L365.75,476.00 L365.88,476.60 Z M372.88,476.60 L373.00,476.00 L373.25,476.00 L373.38,476.60 Z " fill="#d00c35" stroke="#86122f" stroke-width="0.65" stroke-linejoin="round"/>
<path d="M72.38,520.00 L72.50,518.50 L72.62,520.00 Z M78.12,520.00 L78.25,519.20 L78.38,520.00 Z M82.38,520.00 L82.50,519.00 L82.75,519.00 L83.00,519.00 L83.12,520.00 Z M87.12,520.00 L87.25,519.20 L87.50,519.20 L87.75,519.20 L88.00,519.20 L88.25,519.20 L88.38,520.00 Z M95.88,520.00 L96.00,519.20 L96.25,519.20 L96.50,519.20 L96.75,519.20 L96.88,520.00 Z M106.38,520.00 L106.50,518.80 L106.75,518.80 L107.00,518.80 L107.25,518.80 L107.38,520.00 Z M109.88,520.00 L110.00,518.80 L110.25,518.80 L110.50,518.80 L110.75,518.80 L111.00,518.80 L111.12,520.00 Z M120.62,520.00 L120.75,518.80 L120.88,520.00 Z M124.88,520.00 L125.00,519.20 L125.25,519.20 L125.50,519.20 L125.62,520.00 Z M125.88,520.00 L126.00,519.92 L126.25,519.34 L126.50,517.79 L126.75,517.00 L127.00,517.00 L127.25,517.00 L127.50,517.79 L127.75,519.34 L128.00,519.92 L128.12,520.00 Z M133.12,520.00 L133.25,518.80 L133.50,518.80 L133.75,518.80 L134.00,518.80 L134.12,520.00 Z M138.88,520.00 L139.00,519.94 L139.25,519.50 L139.50,518.30 L139.75,517.70 L140.00,517.70 L140.25,517.70 L140.50,518.30 L140.75,519.50 L141.00,519.94 L141.12,520.00 Z M143.62,520.00 L143.75,519.00 L144.00,519.00 L144.25,519.00 L144.38,520.00 Z M144.88,520.00 L145.00,519.95 L145.25,519.56 L145.50,518.52 L145.75,518.00 L146.00,518.00 L146.25,518.00 L146.50,518.52 L146.75,519.56 L147.00,519.10 L147.25,519.10 L147.50,519.10 L147.75,519.10 L147.88,520.00 Z M151.88,520.00 L152.00,519.93 L152.25,519.45 L152.50,518.16 L152.75,517.50 L153.00,517.50 L153.25,517.50 L153.50,518.16 L153.75,519.45 L154.00,519.93 L154.12,520.00 Z M157.38,520.00 L157.50,519.20 L157.75,519.20 L158.00,519.20 L158.25,519.20 L158.50,519.20 L158.62,520.00 Z M161.12,520.00 L161.25,518.50 L161.50,518.50 L161.75,518.50 L162.00,519.49 L162.25,518.08 L162.50,516.80 L162.75,516.80 L163.00,516.80 L163.25,517.13 L163.50,519.07 L163.75,519.85 L164.00,520.00 L164.12,520.00 Z M167.38,520.00 L167.50,519.20 L167.75,519.20 L167.88,520.00 Z M168.88,520.00 L169.00,520.00 L169.25,519.87 L169.50,519.34 L169.75,518.14 L170.00,517.00 L170.25,517.00 L170.50,517.00 L170.75,517.00 L171.00,517.79 L171.25,519.17 L171.50,518.16 L171.75,517.50 L172.00,517.50 L172.25,517.50 L172.50,518.16 L172.75,519.45 L173.00,519.93 L173.12,520.00 Z M175.38,520.00 L175.50,518.50 L175.75,518.50 L176.00,518.50 L176.12,520.00 Z M180.12,520.00 L180.25,518.50 L180.50,518.50 L180.75,518.50 L181.00,518.50 L181.25,518.50 L181.50,517.00 L181.75,517.00 L182.00,517.00 L182.25,517.00 L182.50,517.00 L182.75,518.72 L183.00,519.62 L183.25,519.95 L183.38,520.00 Z M183.88,520.00 L184.00,518.50 L184.25,518.50 L184.38,520.00 Z M186.88,520.00 L187.00,518.80 L187.25,518.80 L187.50,518.80 L187.62,520.00 Z M194.88,520.00 L195.00,519.95 L195.25,519.20 L195.50,518.52 L195.75,518.00 L196.00,518.00 L196.25,518.00 L196.50,518.52 L196.75,519.56 L197.00,519.95 L197.12,520.00 Z M198.38,520.00 L198.50,519.10 L198.75,519.10 L199.00,519.10 L199.12,520.00 Z M201.62,520.00 L201.75,518.50 L201.88,520.00 Z M204.38,520.00 L204.50,519.00 L204.62,520.00 Z M207.12,520.00 L207.25,519.10 L207.50,519.10 L207.62,520.00 Z M210.12,520.00 L210.25,519.10 L210.50,519.10 L210.75,519.10 L210.88,520.00 Z M216.38,520.00 L216.50,518.50 L216.75,518.50 L216.88,520.00 Z M218.38,520.00 L218.50,519.20 L218.62,520.00 Z M222.62,520.00 L222.75,519.40 L223.00,519.40 L223.25,519.40 L223.50,519.40 L223.62,520.00 Z M229.12,520.00 L229.25,519.00 L229.38,520.00 Z M229.88,520.00 L230.00,519.95 L230.25,519.56 L230.50,518.52 L230.75,518.00 L231.00,518.00 L231.25,518.00 L231.50,518.52 L231.75,519.56 L232.00,519.95 L232.12,520.00 Z M234.88,520.00 L235.00,518.50 L235.25,518.50 L235.38,520.00 Z M241.88,520.00 L242.00,519.94 L242.25,519.52 L242.50,518.38 L242.75,517.80 L243.00,517.80 L243.25,517.80 L243.50,518.38 L243.75,519.52 L244.00,519.94 L244.12,520.00 Z M248.88,520.00 L249.00,519.93 L249.25,518.80 L249.50,518.16 L249.75,517.50 L250.00,517.50 L250.25,517.50 L250.50,518.16 L250.75,519.45 L251.00,519.93 L251.12,520.00 Z M253.62,520.00 L253.75,518.50 L254.00,518.50 L254.25,518.50 L254.50,518.50 L254.62,520.00 Z M256.12,520.00 L256.25,518.50 L256.50,518.50 L256.62,520.00 Z M256.88,520.00 L257.00,519.93 L257.25,519.45 L257.50,518.16 L257.75,517.50 L258.00,517.50 L258.25,517.50 L258.50,518.16 L258.75,519.45 L259.00,519.93 L259.12,520.00 Z M260.88,520.00 L261.00,519.92 L261.25,519.34 L261.50,517.79 L261.75,517.00 L262.00,517.00 L262.25,517.00 L262.50,517.79 L262.75,518.50 L263.00,518.50 L263.25,518.50 L263.38,520.00 Z M264.12,520.00 L264.25,519.99 L264.50,519.86 L264.75,519.37 L265.00,518.26 L265.25,516.31 L265.50,515.00 L265.75,515.00 L266.00,515.00 L266.25,515.00 L266.50,515.00 L266.75,516.31 L267.00,518.26 L267.25,519.37 L267.50,519.86 L267.75,519.99 L267.88,520.00 Z M270.88,520.00 L271.00,518.50 L271.25,518.50 L271.50,518.50 L271.75,518.50 L271.88,520.00 Z M274.38,520.00 L274.50,518.50 L274.75,518.50 L275.00,518.50 L275.25,518.50 L275.50,518.16 L275.75,517.50 L276.00,517.50 L276.25,517.50 L276.50,518.16 L276.75,519.45 L277.00,519.93 L277.12,520.00 Z M278.12,520.00 L278.25,519.40 L278.50,519.40 L278.62,520.00 Z M280.88,520.00 L281.00,519.95 L281.25,519.56 L281.50,518.52 L281.75,518.00 L282.00,518.00 L282.25,518.00 L282.50,518.52 L282.75,519.56 L283.00,519.95 L283.12,520.00 Z M286.88,520.00 L287.00,518.80 L287.25,518.80 L287.50,518.80 L287.75,516.22 L288.00,513.07 L288.25,510.18 L288.50,506.83 L288.75,507.46 L289.00,504.85 L289.25,502.24 L289.50,503.18 L289.75,503.56 L290.00,505.57 L290.25,507.58 L290.50,509.09 L290.75,511.19 L291.00,509.24 L291.25,507.72 L291.50,506.21 L291.75,504.69 L292.00,505.62 L292.25,507.76 L292.50,509.91 L292.75,512.06 L293.00,515.41 L293.25,517.05 L293.50,518.69 L293.75,519.00 L294.00,519.00 L294.25,519.00 L294.38,520.00 Z M295.12,520.00 L295.25,518.00 L295.50,518.00 L295.75,518.00 L296.00,517.41 L296.25,515.35 L296.50,514.38 L296.75,515.75 L297.00,515.94 L297.25,516.14 L297.50,516.33 L297.75,515.61 L298.00,515.85 L298.25,515.44 L298.50,515.02 L298.75,515.28 L299.00,514.91 L299.25,515.08 L299.50,514.75 L299.75,513.33 L300.00,512.93 L300.25,513.20 L300.50,513.47 L300.75,514.81 L301.00,515.03 L301.25,515.26 L301.50,514.78 L301.75,515.04 L302.00,515.29 L302.25,514.81 L302.50,513.82 L302.75,512.83 L303.00,511.84 L303.25,508.65 L303.50,507.43 L303.75,506.20 L304.00,505.82 L304.25,505.14 L304.50,505.92 L304.75,507.17 L305.00,508.43 L305.25,511.18 L305.50,512.24 L305.75,513.31 L306.00,514.36 L306.25,513.67 L306.50,512.98 L306.75,510.75 L307.00,509.92 L307.25,509.09 L307.50,508.26 L307.75,510.03 L308.00,509.37 L308.25,509.52 L308.50,507.91 L308.75,508.77 L309.00,509.62 L309.25,510.72 L309.50,511.55 L309.75,512.39 L310.00,512.35 L310.25,511.75 L310.50,511.14 L310.75,510.53 L311.00,509.03 L311.25,508.37 L311.50,507.71 L311.75,507.05 L312.00,506.39 L312.25,505.73 L312.50,508.95 L312.75,509.74 L313.00,507.78 L313.25,508.79 L313.50,509.81 L313.75,510.82 L314.00,513.82 L314.25,514.59 L314.50,514.58 L314.75,514.46 L315.00,513.65 L315.25,513.11 L315.50,512.34 L315.75,511.64 L316.00,510.86 L316.25,511.26 L316.50,512.17 L316.75,513.47 L317.00,514.78 L317.25,514.91 L317.50,516.61 L317.75,518.30 L318.00,519.40 L318.25,519.40 L318.38,520.00 Z M328.88,520.00 L329.00,519.95 L329.25,519.56 L329.50,518.52 L329.75,518.00 L330.00,518.00 L330.25,518.00 L330.50,518.52 L330.75,519.56 L331.00,519.95 L331.12,520.00 Z M334.38,520.00 L334.50,518.90 L334.75,518.90 L335.00,518.90 L335.12,520.00 Z M348.12,520.00 L348.25,519.20 L348.50,519.20 L348.75,519.20 L349.00,519.20 L349.12,520.00 Z M353.88,520.00 L354.00,519.95 L354.25,519.56 L354.50,518.52 L354.75,518.00 L355.00,518.00 L355.25,518.00 L355.50,518.52 L355.75,519.56 L356.00,519.95 L356.12,520.00 Z M359.12,520.00 L359.25,519.10 L359.50,519.10 L359.75,519.10 L360.00,519.10 L360.12,520.00 Z M367.12,520.00 L367.25,519.10 L367.38,520.00 Z " fill="#d00c35" stroke="#86122f" stroke-width="0.65" stroke-linejoin="round"/>
<path d="M72.38,563.40 L72.50,562.60 L72.75,562.96 L73.00,561.92 L73.25,561.40 L73.50,561.40 L73.75,561.40 L74.00,561.92 L74.25,562.96 L74.50,563.35 L74.62,563.40 Z M80.12,563.40 L80.25,562.40 L80.50,562.40 L80.62,563.40 Z M83.12,563.40 L83.25,562.60 L83.50,562.60 L83.75,562.60 L83.88,563.40 Z M86.38,563.40 L86.50,562.60 L86.75,562.60 L87.00,562.60 L87.25,562.60 L87.38,563.40 Z M94.88,563.40 L95.00,562.20 L95.25,562.20 L95.50,562.20 L95.75,562.20 L96.00,562.20 L96.12,563.40 Z M105.62,563.40 L105.75,562.20 L105.88,563.40 Z M115.38,563.40 L115.50,562.40 L115.75,562.40 L116.00,562.40 L116.12,563.40 Z M118.62,563.40 L118.75,562.80 L119.00,562.80 L119.12,563.40 Z M124.88,563.40 L125.00,563.32 L125.25,562.74 L125.50,561.19 L125.75,560.40 L126.00,560.40 L126.25,560.40 L126.50,561.19 L126.75,562.74 L127.00,562.80 L127.25,562.80 L127.50,562.80 L127.62,563.40 Z M137.12,563.40 L137.25,562.50 L137.50,562.50 L137.75,562.50 L138.00,562.50 L138.25,562.50 L138.38,563.40 Z M138.88,563.40 L139.00,563.35 L139.25,562.96 L139.50,561.92 L139.75,561.40 L140.00,561.40 L140.25,561.40 L140.50,561.92 L140.75,562.60 L141.00,563.35 L141.12,563.40 Z M143.38,563.40 L143.50,562.20 L143.75,562.20 L144.00,562.20 L144.25,562.20 L144.50,561.56 L144.75,560.90 L145.00,560.90 L145.25,560.90 L145.50,561.56 L145.75,562.85 L146.00,563.33 L146.12,563.40 Z M149.88,563.40 L150.00,562.40 L150.12,563.40 Z M150.38,563.40 L150.50,563.38 L150.75,562.95 L151.00,561.48 L151.25,559.40 L151.50,559.40 L151.75,559.40 L152.00,559.40 L152.25,561.89 L152.50,563.10 L152.75,563.39 L152.88,563.40 Z M153.88,563.40 L154.00,563.33 L154.25,562.85 L154.50,561.56 L154.75,560.90 L155.00,560.90 L155.25,560.90 L155.50,561.56 L155.75,562.40 L156.00,562.40 L156.12,563.40 Z M158.88,563.40 L159.00,563.33 L159.25,562.83 L159.50,561.48 L159.75,560.80 L160.00,560.80 L160.25,560.80 L160.50,561.48 L160.75,562.83 L161.00,563.33 L161.12,563.40 Z M163.88,563.40 L164.00,563.35 L164.25,562.96 L164.50,561.92 L164.75,561.40 L165.00,561.40 L165.25,561.40 L165.50,561.92 L165.75,562.60 L166.00,562.60 L166.12,563.40 Z M233.88,563.40 L234.00,561.80 L234.25,561.80 L234.50,561.80 L234.62,563.40 Z M234.88,563.40 L235.00,561.80 L235.25,561.80 L235.50,561.27 L235.75,560.39 L236.00,558.71 L236.25,557.64 L236.50,557.34 L236.75,556.39 L237.00,553.99 L237.25,552.87 L237.50,552.99 L237.75,553.43 L238.00,553.79 L238.25,554.24 L238.50,556.84 L238.75,557.17 L239.00,556.18 L239.25,554.85 L239.50,551.51 L239.75,549.91 L240.00,547.99 L240.25,546.35 L240.50,544.19 L240.75,545.37 L241.00,550.30 L241.25,551.22 L241.50,547.94 L241.75,549.20 L242.00,550.45 L242.25,554.68 L242.50,555.07 L242.75,555.18 L243.00,555.44 L243.25,555.48 L243.50,555.74 L243.75,554.62 L244.00,555.71 L244.25,556.80 L244.50,557.90 L244.75,559.68 L245.00,560.28 L245.25,560.41 L245.50,560.55 L245.75,560.74 L246.00,560.87 L246.25,560.90 L246.50,559.90 L246.75,559.49 L247.00,559.27 L247.25,558.88 L247.50,559.57 L247.75,559.26 L248.00,558.96 L248.25,558.66 L248.50,557.92 L248.75,557.59 L249.00,557.26 L249.25,557.09 L249.50,557.20 L249.75,557.73 L250.00,558.25 L250.25,558.78 L250.50,558.65 L250.75,558.87 L251.00,557.51 L251.25,556.61 L251.50,555.35 L251.75,554.08 L252.00,552.11 L252.25,550.75 L252.50,549.40 L252.75,549.60 L253.00,551.09 L253.25,552.58 L253.50,553.59 L253.75,555.15 L254.00,558.26 L254.25,559.46 L254.50,559.48 L254.75,559.31 L255.00,559.67 L255.25,559.53 L255.50,559.61 L255.75,559.47 L256.00,557.98 L256.25,557.80 L256.50,557.62 L256.75,557.44 L257.00,558.67 L257.25,559.37 L257.50,560.06 L257.75,560.76 L258.00,560.87 L258.25,561.78 L258.50,562.68 L258.62,563.40 Z M260.62,563.40 L260.75,563.25 L261.00,562.16 L261.25,560.50 L261.50,560.50 L261.75,560.50 L262.00,562.16 L262.25,563.25 L262.38,563.40 Z M264.38,563.40 L264.50,563.32 L264.75,562.50 L265.00,560.50 L265.25,560.50 L265.50,560.50 L265.75,561.75 L266.00,562.40 L266.25,563.40 L266.38,563.40 Z M267.62,563.40 L267.75,563.14 L268.00,561.31 L268.25,558.50 L268.50,558.50 L268.75,558.50 L269.00,561.31 L269.25,562.50 L269.50,562.50 L269.75,562.50 L269.88,563.40 Z M277.38,563.40 L277.50,562.40 L277.75,562.40 L278.00,562.40 L278.25,562.40 L278.50,562.40 L278.62,563.40 Z M282.62,563.40 L282.75,562.60 L283.00,562.60 L283.25,562.60 L283.50,562.60 L283.75,562.60 L283.88,563.40 Z M287.62,563.40 L287.75,563.40 L288.00,563.07 L288.25,561.35 L288.50,559.80 L288.75,559.80 L289.00,559.80 L289.25,562.28 L289.50,563.30 L289.62,563.40 Z M291.38,563.40 L291.50,562.60 L291.75,562.60 L291.88,563.40 Z M294.38,563.40 L294.50,561.90 L294.62,563.40 Z M297.12,563.40 L297.25,562.20 L297.50,562.20 L297.75,562.20 L297.88,563.40 Z M299.88,563.40 L300.00,561.80 L300.25,561.80 L300.50,561.80 L300.75,561.80 L301.00,561.80 L301.25,561.80 L301.50,561.80 L301.75,561.80 L301.88,563.40 Z M302.62,563.40 L302.75,562.60 L303.00,562.60 L303.25,562.60 L303.50,562.60 L303.75,562.60 L303.88,563.40 Z M304.12,563.40 L304.25,562.60 L304.50,562.60 L304.75,562.60 L305.00,562.60 L305.25,562.18 L305.50,561.78 L305.75,561.37 L306.00,560.97 L306.25,557.90 L306.50,555.51 L306.75,553.13 L307.00,551.33 L307.25,549.03 L307.50,547.52 L307.75,545.23 L308.00,542.93 L308.25,543.63 L308.50,545.62 L308.75,548.43 L309.00,551.24 L309.25,553.56 L309.50,551.59 L309.75,548.21 L310.00,544.97 L310.25,541.73 L310.50,541.57 L310.75,542.32 L311.00,544.68 L311.25,547.97 L311.50,550.49 L311.75,552.81 L312.00,550.43 L312.25,547.95 L312.50,545.55 L312.75,544.19 L313.00,546.10 L313.25,548.01 L313.50,550.22 L313.75,552.10 L314.00,553.72 L314.25,555.64 L314.50,557.68 L314.75,558.63 L315.00,558.97 L315.25,559.12 L315.50,559.47 L315.75,559.82 L316.00,560.18 L316.25,560.98 L316.50,561.79 L316.75,562.20 L317.00,562.20 L317.25,562.20 L317.50,562.20 L317.75,562.20 L318.00,562.30 L318.25,562.30 L318.50,562.30 L318.75,562.30 L318.88,563.40 Z M325.88,563.40 L326.00,562.80 L326.25,562.80 L326.38,563.40 Z M339.38,563.40 L339.50,562.60 L339.75,562.60 L340.00,562.60 L340.12,563.40 Z M350.12,563.40 L350.25,562.80 L350.50,562.80 L350.75,562.80 L351.00,562.80 L351.12,563.40 Z M358.12,563.40 L358.25,562.50 L358.38,563.40 Z M365.38,563.40 L365.50,562.80 L365.75,562.80 L366.00,562.80 L366.25,562.80 L366.38,563.40 Z " fill="#d00c35" stroke="#86122f" stroke-width="0.65" stroke-linejoin="round"/>
<line x1="173.5" y1="561.8" x2="232.3" y2="561.8" stroke="#e6c7a6" stroke-width="1.15" stroke-dasharray="2.9,2.2"/>
<path d="M84.88,606.50 L85.00,605.90 L85.25,605.90 L85.50,605.90 L85.75,605.90 L86.00,605.90 L86.12,606.50 Z M87.62,606.50 L87.75,605.50 L88.00,605.50 L88.25,605.50 L88.50,605.50 L88.75,605.50 L88.88,606.50 Z M98.38,606.50 L98.50,605.70 L98.75,605.70 L99.00,605.70 L99.12,606.50 Z M101.62,606.50 L101.75,605.00 L102.00,605.00 L102.12,606.50 Z M109.62,606.50 L109.75,605.60 L110.00,605.60 L110.12,606.50 Z M117.62,606.50 L117.75,605.90 L118.00,605.90 L118.12,606.50 Z M119.62,606.50 L119.75,605.00 L120.00,605.00 L120.25,605.00 L120.50,605.00 L120.75,605.00 L120.88,606.50 Z M126.38,606.50 L126.50,605.60 L126.62,606.50 Z M126.88,606.50 L127.00,606.45 L127.25,606.06 L127.50,605.02 L127.75,604.50 L128.00,604.50 L128.25,604.50 L128.50,605.02 L128.75,606.06 L129.00,606.45 L129.12,606.50 Z M134.12,606.50 L134.25,605.00 L134.50,605.00 L134.75,605.00 L135.00,605.70 L135.25,605.70 L135.50,605.70 L135.75,605.70 L136.00,605.70 L136.25,605.70 L136.50,605.02 L136.75,604.50 L137.00,604.50 L137.25,604.50 L137.50,605.02 L137.75,605.50 L138.00,605.50 L138.25,605.50 L138.50,605.50 L138.75,605.50 L139.00,605.50 L139.25,605.50 L139.50,605.50 L139.62,606.50 Z M140.38,606.50 L140.50,605.50 L140.75,605.50 L141.00,605.50 L141.25,605.50 L141.50,605.50 L141.75,605.50 L142.00,605.50 L142.12,606.50 Z M142.38,606.50 L142.50,605.50 L142.75,605.50 L143.00,605.50 L143.25,605.50 L143.50,605.50 L143.75,605.50 L144.00,605.50 L144.25,605.50 L144.50,604.90 L144.75,604.90 L145.00,604.90 L145.25,604.90 L145.50,604.66 L145.75,604.00 L146.00,604.00 L146.25,604.00 L146.50,604.66 L146.75,605.95 L147.00,606.43 L147.12,606.50 Z M147.38,606.50 L147.50,604.90 L147.75,604.90 L148.00,604.90 L148.25,605.73 L148.50,603.92 L148.75,603.00 L149.00,603.00 L149.25,603.00 L149.50,603.92 L149.75,605.70 L150.00,605.70 L150.25,605.70 L150.50,605.70 L150.75,605.70 L151.00,605.70 L151.25,605.52 L151.50,603.18 L151.75,602.00 L152.00,602.00 L152.25,602.00 L152.50,603.18 L152.75,604.50 L153.00,604.50 L153.12,606.50 Z M153.62,606.50 L153.75,604.50 L154.00,604.50 L154.25,604.50 L154.50,604.29 L154.75,603.50 L155.00,603.50 L155.25,603.50 L155.50,604.29 L155.75,605.70 L156.00,605.70 L156.25,605.70 L156.50,605.70 L156.75,605.70 L157.00,605.70 L157.25,605.70 L157.50,603.92 L157.75,603.00 L158.00,603.00 L158.25,603.00 L158.50,603.92 L158.75,605.73 L159.00,604.50 L159.25,604.50 L159.50,604.50 L159.75,604.50 L160.00,604.50 L160.25,604.50 L160.50,604.29 L160.75,603.50 L161.00,603.50 L161.25,603.50 L161.50,604.29 L161.75,604.90 L162.00,604.90 L162.25,604.90 L162.50,604.90 L162.75,604.90 L163.00,604.90 L163.25,604.10 L163.50,602.50 L163.75,602.50 L164.00,602.50 L164.25,602.92 L164.50,604.90 L164.75,606.31 L165.00,606.50 L165.12,606.50 Z M165.62,606.50 L165.75,605.50 L166.00,605.50 L166.25,605.50 L166.50,605.50 L166.75,605.50 L167.00,604.90 L167.25,604.90 L167.50,604.90 L167.75,604.90 L167.88,606.50 Z M168.12,606.50 L168.25,605.70 L168.50,605.70 L168.75,605.70 L169.00,605.70 L169.25,605.70 L169.50,606.42 L169.75,604.90 L170.00,604.29 L170.25,603.50 L170.50,603.50 L170.75,603.50 L171.00,604.29 L171.25,604.90 L171.38,606.50 Z M233.88,606.50 L234.00,605.50 L234.25,605.50 L234.50,605.50 L234.75,605.50 L234.88,606.50 Z M235.38,606.50 L235.50,606.50 L235.75,603.90 L236.00,601.30 L236.25,598.70 L236.50,597.17 L236.75,595.81 L237.00,594.46 L237.25,593.72 L237.50,592.43 L237.75,593.03 L238.00,593.43 L238.25,593.82 L238.50,594.22 L238.75,594.10 L239.00,593.39 L239.25,592.68 L239.50,588.40 L239.75,589.55 L240.00,591.59 L240.25,592.67 L240.50,592.98 L240.75,592.55 L241.00,592.13 L241.25,591.70 L241.50,591.28 L241.75,591.37 L242.00,591.82 L242.25,592.26 L242.50,592.70 L242.75,593.14 L243.00,594.73 L243.25,595.13 L243.50,595.54 L243.75,595.00 L244.00,595.61 L244.25,598.65 L244.50,599.11 L244.75,599.57 L245.00,600.02 L245.25,600.14 L245.50,600.57 L245.75,600.25 L246.00,600.74 L246.25,601.23 L246.50,601.72 L246.75,601.89 L247.00,602.41 L247.25,601.99 L247.50,601.65 L247.75,601.30 L248.00,600.95 L248.25,601.93 L248.50,601.66 L248.75,598.31 L249.00,591.61 L249.25,587.28 L249.50,582.96 L249.75,584.67 L250.00,588.74 L250.25,592.81 L250.50,596.88 L250.75,597.88 L251.00,597.07 L251.25,596.27 L251.50,598.22 L251.75,597.62 L252.00,593.80 L252.25,592.99 L252.50,593.92 L252.75,596.94 L253.00,598.10 L253.25,599.26 L253.50,600.42 L253.75,598.68 L254.00,598.05 L254.25,597.42 L254.50,597.38 L254.75,596.79 L255.00,596.20 L255.25,595.61 L255.50,596.71 L255.75,597.79 L256.00,598.03 L256.25,599.24 L256.50,600.80 L256.75,601.93 L257.00,602.86 L257.25,602.65 L257.50,602.44 L257.75,602.53 L258.00,602.33 L258.25,602.13 L258.50,601.59 L258.75,601.38 L259.00,601.17 L259.25,600.95 L259.50,602.07 L259.75,602.07 L260.00,602.74 L260.25,602.78 L260.50,603.59 L260.75,604.82 L261.00,604.90 L261.25,604.90 L261.38,606.50 Z M261.88,606.50 L262.00,605.70 L262.25,605.70 L262.50,605.70 L262.75,605.70 L263.00,605.70 L263.12,606.50 Z M264.38,606.50 L264.50,606.49 L264.75,606.06 L265.00,604.29 L265.25,603.50 L265.50,603.50 L265.75,603.69 L266.00,605.50 L266.25,605.50 L266.50,605.50 L266.62,606.50 Z M267.38,606.50 L267.50,606.49 L267.75,606.06 L268.00,604.29 L268.25,603.50 L268.50,603.50 L268.75,603.69 L269.00,605.84 L269.25,606.47 L269.38,606.50 Z M272.12,606.50 L272.25,605.30 L272.50,605.30 L272.75,605.30 L273.00,605.30 L273.12,606.50 Z M280.62,606.50 L280.75,605.30 L281.00,605.30 L281.25,605.30 L281.38,606.50 Z M287.62,606.50 L287.75,606.45 L288.00,605.60 L288.25,602.65 L288.50,602.40 L288.75,602.40 L289.00,603.47 L289.25,605.90 L289.50,606.49 L289.62,606.50 Z M290.88,606.50 L291.00,605.60 L291.12,606.50 Z M293.62,606.50 L293.75,605.90 L294.00,605.90 L294.25,605.90 L294.38,606.50 Z M294.62,606.50 L294.75,606.50 L295.00,606.13 L295.25,604.23 L295.50,602.50 L295.75,602.50 L296.00,602.50 L296.25,605.25 L296.50,605.50 L296.75,605.50 L297.00,605.50 L297.25,605.50 L297.50,605.50 L297.62,606.50 Z M298.62,606.50 L298.75,605.30 L299.00,605.30 L299.25,605.30 L299.50,605.30 L299.62,606.50 Z M301.12,606.50 L301.25,605.10 L301.50,605.10 L301.75,605.10 L302.00,605.10 L302.25,605.10 L302.50,605.10 L302.75,605.10 L303.00,605.10 L303.25,604.92 L303.50,604.40 L303.75,603.87 L304.00,602.90 L304.25,602.29 L304.50,601.68 L304.75,601.35 L305.00,600.77 L305.25,600.19 L305.50,599.22 L305.75,597.40 L306.00,595.58 L306.25,593.76 L306.50,591.94 L306.75,590.73 L307.00,589.83 L307.25,588.64 L307.50,588.16 L307.75,589.62 L308.00,591.09 L308.25,594.24 L308.50,595.53 L308.75,596.62 L309.00,597.67 L309.25,598.72 L309.50,600.50 L309.75,601.44 L310.00,599.22 L310.25,597.92 L310.50,596.62 L310.75,595.44 L311.00,594.15 L311.25,593.59 L311.50,593.78 L311.75,593.25 L312.00,592.73 L312.25,592.20 L312.50,592.74 L312.75,594.63 L313.00,596.52 L313.25,599.23 L313.50,600.93 L313.75,603.18 L314.00,604.69 L314.25,606.20 L314.38,606.50 Z M315.12,606.50 L315.25,605.30 L315.50,605.30 L315.75,605.30 L316.00,605.10 L316.25,605.10 L316.50,605.10 L316.62,606.50 Z M317.12,606.50 L317.25,605.70 L317.50,605.70 L317.75,605.70 L318.00,605.70 L318.25,605.70 L318.38,606.50 Z M328.38,606.50 L328.50,605.70 L328.75,605.70 L329.00,605.70 L329.25,605.70 L329.38,606.50 Z M342.38,606.50 L342.50,605.90 L342.75,605.90 L342.88,606.50 Z M358.88,606.50 L359.00,605.90 L359.25,605.90 L359.38,606.50 Z M369.38,606.50 L369.50,605.90 L369.62,606.50 Z " fill="#d00c35" stroke="#86122f" stroke-width="0.65" stroke-linejoin="round"/>
<line x1="173.5" y1="604.9" x2="232.3" y2="604.9" stroke="#e6c7a6" stroke-width="1.15" stroke-dasharray="2.9,2.2"/>
<line x1="393.3" y1="454" x2="393.3" y2="615.2" stroke="#333" stroke-width="1"/>
<text transform="translate(398.9,534.9) rotate(90)" font-size="9.3" text-anchor="middle" fill="#333" textLength="38" lengthAdjust="spacingAndGlyphs">H3K4me3</text>
<line x1="141.9" y1="406.2" x2="183.8" y2="406.2" stroke="#555" stroke-width="1"/>
<text x="162.8" y="419.8" font-size="7" text-anchor="middle" font-weight="normal" fill="#3a3a3a" textLength="11.8" lengthAdjust="spacingAndGlyphs" stroke="#3a3a3a" stroke-width="0.22" >LCR</text>
<rect x="196.80" y="401.00" width="1.75" height="10" fill="#a8123c"/>
<rect x="200.20" y="401.00" width="1.75" height="10" fill="#a8123c"/>
<rect x="198.55" y="405.50" width="1.65" height="0.9" fill="#e38aa3"/>
<text x="199.0" y="419.8" font-size="7" text-anchor="middle" font-weight="normal" fill="#3a3a3a" textLength="15.7" lengthAdjust="spacingAndGlyphs" stroke="#3a3a3a" stroke-width="0.22" >HBE1</text>
<rect x="235.50" y="401.00" width="1.75" height="10" fill="#a8123c"/>
<rect x="238.90" y="401.00" width="1.75" height="10" fill="#a8123c"/>
<rect x="237.25" y="405.50" width="1.65" height="0.9" fill="#e38aa3"/>
<text x="234.35" y="419.8" font-size="7" text-anchor="middle" font-weight="normal" fill="#3a3a3a" textLength="16.9" lengthAdjust="spacingAndGlyphs" stroke="#3a3a3a" stroke-width="0.22" >HBG2</text>
<rect x="247.80" y="401.00" width="1.75" height="10" fill="#a8123c"/>
<rect x="251.20" y="401.00" width="1.75" height="10" fill="#a8123c"/>
<rect x="249.55" y="405.50" width="1.65" height="0.9" fill="#e38aa3"/>
<text x="253.8" y="419.8" font-size="7" text-anchor="middle" font-weight="normal" fill="#3a3a3a" textLength="17.3" lengthAdjust="spacingAndGlyphs" stroke="#3a3a3a" stroke-width="0.22" >HBG1</text>
<rect x="287.70" y="401.00" width="1.75" height="10" fill="#a8123c"/>
<rect x="291.10" y="401.00" width="1.75" height="10" fill="#a8123c"/>
<rect x="289.45" y="405.50" width="1.65" height="0.9" fill="#e38aa3"/>
<text x="290.0" y="419.8" font-size="7" text-anchor="middle" font-weight="normal" fill="#3a3a3a" textLength="14.0" lengthAdjust="spacingAndGlyphs" stroke="#3a3a3a" stroke-width="0.22" >HBD</text>
<rect x="306.10" y="401.00" width="1.75" height="10" fill="#a8123c"/>
<rect x="309.50" y="401.00" width="1.75" height="10" fill="#a8123c"/>
<rect x="307.85" y="405.50" width="1.65" height="0.9" fill="#e38aa3"/>
<text x="308.5" y="419.8" font-size="7" text-anchor="middle" font-weight="normal" fill="#3a3a3a" textLength="13.5" lengthAdjust="spacingAndGlyphs" stroke="#3a3a3a" stroke-width="0.22" >HBB</text>
<line x1="141.9" y1="621.4" x2="183.8" y2="621.4" stroke="#555" stroke-width="1"/>
<text x="162.8" y="635.0" font-size="7" text-anchor="middle" font-weight="normal" fill="#3a3a3a" textLength="11.8" lengthAdjust="spacingAndGlyphs" stroke="#3a3a3a" stroke-width="0.22" >LCR</text>
<rect x="196.80" y="616.60" width="1.75" height="10" fill="#a8123c"/>
<rect x="200.20" y="616.60" width="1.75" height="10" fill="#a8123c"/>
<rect x="198.55" y="621.10" width="1.65" height="0.9" fill="#e38aa3"/>
<text x="199.0" y="635.0" font-size="7" text-anchor="middle" font-weight="normal" fill="#3a3a3a" textLength="15.7" lengthAdjust="spacingAndGlyphs" stroke="#3a3a3a" stroke-width="0.22" >HBE1</text>
<rect x="235.50" y="616.60" width="1.75" height="10" fill="#a8123c"/>
<rect x="238.90" y="616.60" width="1.75" height="10" fill="#a8123c"/>
<rect x="237.25" y="621.10" width="1.65" height="0.9" fill="#e38aa3"/>
<text x="234.35" y="635.0" font-size="7" text-anchor="middle" font-weight="normal" fill="#3a3a3a" textLength="16.9" lengthAdjust="spacingAndGlyphs" stroke="#3a3a3a" stroke-width="0.22" >HBG2</text>
<rect x="247.80" y="616.60" width="1.75" height="10" fill="#a8123c"/>
<rect x="251.20" y="616.60" width="1.75" height="10" fill="#a8123c"/>
<rect x="249.55" y="621.10" width="1.65" height="0.9" fill="#e38aa3"/>
<text x="253.8" y="635.0" font-size="7" text-anchor="middle" font-weight="normal" fill="#3a3a3a" textLength="17.3" lengthAdjust="spacingAndGlyphs" stroke="#3a3a3a" stroke-width="0.22" >HBG1</text>
<rect x="287.70" y="616.60" width="1.75" height="10" fill="#a8123c"/>
<rect x="291.10" y="616.60" width="1.75" height="10" fill="#a8123c"/>
<rect x="289.45" y="621.10" width="1.65" height="0.9" fill="#e38aa3"/>
<text x="290.0" y="635.0" font-size="7" text-anchor="middle" font-weight="normal" fill="#3a3a3a" textLength="14.0" lengthAdjust="spacingAndGlyphs" stroke="#3a3a3a" stroke-width="0.22" >HBD</text>
<rect x="306.10" y="616.60" width="1.75" height="10" fill="#a8123c"/>
<rect x="309.50" y="616.60" width="1.75" height="10" fill="#a8123c"/>
<rect x="307.85" y="621.10" width="1.65" height="0.9" fill="#e38aa3"/>
<text x="308.5" y="635.0" font-size="7" text-anchor="middle" font-weight="normal" fill="#3a3a3a" textLength="13.5" lengthAdjust="spacingAndGlyphs" stroke="#3a3a3a" stroke-width="0.22" >HBB</text><rect x="0.5" y="0.5" width="519" height="641" fill="none" stroke="#5a5a5a" stroke-width="1"/></svg>
</body></html>
